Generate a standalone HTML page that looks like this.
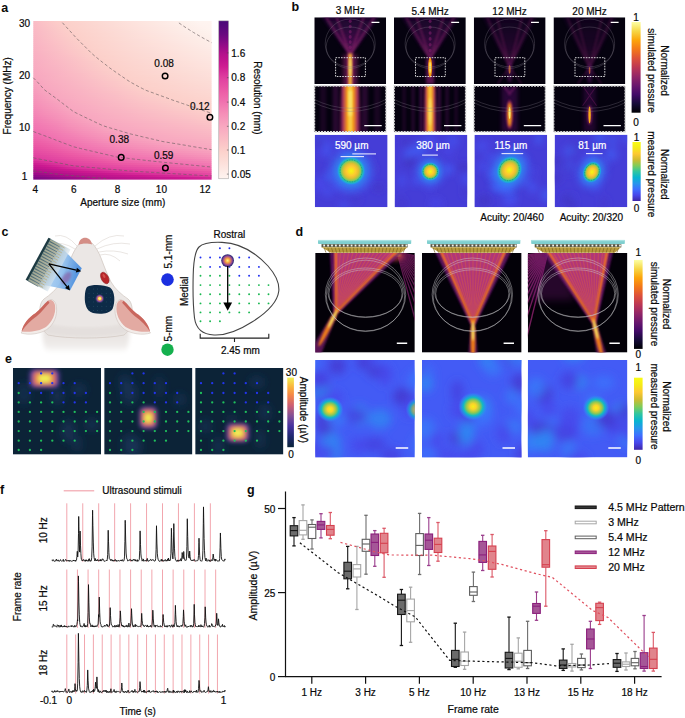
<!DOCTYPE html>
<html><head><meta charset="utf-8"><style>
html,body{margin:0;padding:0;background:#fff;}
svg{display:block;}
text{font-family:"Liberation Sans", sans-serif;}
</style></head><body>
<svg width="685" height="718" viewBox="0 0 685 718">
<defs><linearGradient id="ga0"><stop offset="0.000" stop-color="#fabbc5"/><stop offset="0.067" stop-color="#fbc4c7"/><stop offset="0.133" stop-color="#fcccc9"/><stop offset="0.200" stop-color="#fcd1cb"/><stop offset="0.267" stop-color="#fcd4ce"/><stop offset="0.333" stop-color="#fcd7d1"/><stop offset="0.400" stop-color="#fcdad5"/><stop offset="0.467" stop-color="#fcded8"/><stop offset="0.533" stop-color="#fde1dc"/><stop offset="0.600" stop-color="#fde4df"/><stop offset="0.667" stop-color="#fde7e2"/><stop offset="0.733" stop-color="#fdeae5"/><stop offset="0.800" stop-color="#fdeee9"/><stop offset="0.867" stop-color="#fdf1ec"/><stop offset="0.933" stop-color="#fef4f0"/><stop offset="1.000" stop-color="#fef4f0"/></linearGradient><linearGradient id="ga1"><stop offset="0.000" stop-color="#fabac5"/><stop offset="0.067" stop-color="#fbc3c7"/><stop offset="0.133" stop-color="#fccbc9"/><stop offset="0.200" stop-color="#fcd1cb"/><stop offset="0.267" stop-color="#fcd3ce"/><stop offset="0.333" stop-color="#fcd7d1"/><stop offset="0.400" stop-color="#fcdad4"/><stop offset="0.467" stop-color="#fcddd8"/><stop offset="0.533" stop-color="#fde0db"/><stop offset="0.600" stop-color="#fde4de"/><stop offset="0.667" stop-color="#fde7e1"/><stop offset="0.733" stop-color="#fdeae5"/><stop offset="0.800" stop-color="#fdede8"/><stop offset="0.867" stop-color="#fdf0eb"/><stop offset="0.933" stop-color="#fef3ef"/><stop offset="1.000" stop-color="#fef4f0"/></linearGradient><linearGradient id="ga2"><stop offset="0.000" stop-color="#fabac4"/><stop offset="0.067" stop-color="#fbc2c6"/><stop offset="0.133" stop-color="#fbcac9"/><stop offset="0.200" stop-color="#fcd0ca"/><stop offset="0.267" stop-color="#fcd3cd"/><stop offset="0.333" stop-color="#fcd6d0"/><stop offset="0.400" stop-color="#fcd9d4"/><stop offset="0.467" stop-color="#fcddd7"/><stop offset="0.533" stop-color="#fde0da"/><stop offset="0.600" stop-color="#fde3de"/><stop offset="0.667" stop-color="#fde6e1"/><stop offset="0.733" stop-color="#fde9e4"/><stop offset="0.800" stop-color="#fdece7"/><stop offset="0.867" stop-color="#fdefea"/><stop offset="0.933" stop-color="#fef2ee"/><stop offset="1.000" stop-color="#fef4f0"/></linearGradient><linearGradient id="ga3"><stop offset="0.000" stop-color="#fab9c4"/><stop offset="0.067" stop-color="#fac1c6"/><stop offset="0.133" stop-color="#fbc9c8"/><stop offset="0.200" stop-color="#fcd0ca"/><stop offset="0.267" stop-color="#fcd3cd"/><stop offset="0.333" stop-color="#fcd6d0"/><stop offset="0.400" stop-color="#fcd9d3"/><stop offset="0.467" stop-color="#fcdcd6"/><stop offset="0.533" stop-color="#fddfda"/><stop offset="0.600" stop-color="#fde2dd"/><stop offset="0.667" stop-color="#fde5e0"/><stop offset="0.733" stop-color="#fde8e3"/><stop offset="0.800" stop-color="#fdebe6"/><stop offset="0.867" stop-color="#fdeee9"/><stop offset="0.933" stop-color="#fef1ed"/><stop offset="1.000" stop-color="#fef4f0"/></linearGradient><linearGradient id="ga4"><stop offset="0.000" stop-color="#fab8c4"/><stop offset="0.067" stop-color="#fac0c6"/><stop offset="0.133" stop-color="#fbc8c8"/><stop offset="0.200" stop-color="#fccfca"/><stop offset="0.267" stop-color="#fcd2cc"/><stop offset="0.333" stop-color="#fcd5cf"/><stop offset="0.400" stop-color="#fcd8d3"/><stop offset="0.467" stop-color="#fcdbd6"/><stop offset="0.533" stop-color="#fcdfd9"/><stop offset="0.600" stop-color="#fde2dc"/><stop offset="0.667" stop-color="#fde5df"/><stop offset="0.733" stop-color="#fde8e2"/><stop offset="0.800" stop-color="#fdebe5"/><stop offset="0.867" stop-color="#fdeee9"/><stop offset="0.933" stop-color="#fdf1ec"/><stop offset="1.000" stop-color="#fef4ef"/></linearGradient><linearGradient id="ga5"><stop offset="0.000" stop-color="#fab7c4"/><stop offset="0.067" stop-color="#fabfc6"/><stop offset="0.133" stop-color="#fbc7c8"/><stop offset="0.200" stop-color="#fcceca"/><stop offset="0.267" stop-color="#fcd2cc"/><stop offset="0.333" stop-color="#fcd5cf"/><stop offset="0.400" stop-color="#fcd8d2"/><stop offset="0.467" stop-color="#fcdbd5"/><stop offset="0.533" stop-color="#fcded8"/><stop offset="0.600" stop-color="#fde1dc"/><stop offset="0.667" stop-color="#fde4df"/><stop offset="0.733" stop-color="#fde7e2"/><stop offset="0.800" stop-color="#fdeae5"/><stop offset="0.867" stop-color="#fdede8"/><stop offset="0.933" stop-color="#fdf0eb"/><stop offset="1.000" stop-color="#fef3ee"/></linearGradient><linearGradient id="ga6"><stop offset="0.000" stop-color="#f9b7c4"/><stop offset="0.067" stop-color="#fabec6"/><stop offset="0.133" stop-color="#fbc6c8"/><stop offset="0.200" stop-color="#fccdc9"/><stop offset="0.267" stop-color="#fcd1cb"/><stop offset="0.333" stop-color="#fcd4ce"/><stop offset="0.400" stop-color="#fcd7d1"/><stop offset="0.467" stop-color="#fcdad5"/><stop offset="0.533" stop-color="#fcddd8"/><stop offset="0.600" stop-color="#fde0db"/><stop offset="0.667" stop-color="#fde3de"/><stop offset="0.733" stop-color="#fde6e1"/><stop offset="0.800" stop-color="#fde9e4"/><stop offset="0.867" stop-color="#fdece7"/><stop offset="0.933" stop-color="#fdefea"/><stop offset="1.000" stop-color="#fef2ed"/></linearGradient><linearGradient id="ga7"><stop offset="0.000" stop-color="#f9b6c3"/><stop offset="0.067" stop-color="#fabec5"/><stop offset="0.133" stop-color="#fbc5c7"/><stop offset="0.200" stop-color="#fcccc9"/><stop offset="0.267" stop-color="#fcd1cb"/><stop offset="0.333" stop-color="#fcd4ce"/><stop offset="0.400" stop-color="#fcd7d1"/><stop offset="0.467" stop-color="#fcdad4"/><stop offset="0.533" stop-color="#fcddd7"/><stop offset="0.600" stop-color="#fde0da"/><stop offset="0.667" stop-color="#fde3dd"/><stop offset="0.733" stop-color="#fde5e0"/><stop offset="0.800" stop-color="#fde8e3"/><stop offset="0.867" stop-color="#fdebe6"/><stop offset="0.933" stop-color="#fdeee9"/><stop offset="1.000" stop-color="#fdf1ec"/></linearGradient><linearGradient id="ga8"><stop offset="0.000" stop-color="#f9b5c3"/><stop offset="0.067" stop-color="#fabdc5"/><stop offset="0.133" stop-color="#fbc4c7"/><stop offset="0.200" stop-color="#fbcbc9"/><stop offset="0.267" stop-color="#fcd0ca"/><stop offset="0.333" stop-color="#fcd3cd"/><stop offset="0.400" stop-color="#fcd6d0"/><stop offset="0.467" stop-color="#fcd9d3"/><stop offset="0.533" stop-color="#fcdcd7"/><stop offset="0.600" stop-color="#fddfda"/><stop offset="0.667" stop-color="#fde2dc"/><stop offset="0.733" stop-color="#fde5df"/><stop offset="0.800" stop-color="#fde8e2"/><stop offset="0.867" stop-color="#fdeae5"/><stop offset="0.933" stop-color="#fdede8"/><stop offset="1.000" stop-color="#fdf0eb"/></linearGradient><linearGradient id="ga9"><stop offset="0.000" stop-color="#f9b4c3"/><stop offset="0.067" stop-color="#fabcc5"/><stop offset="0.133" stop-color="#fbc3c7"/><stop offset="0.200" stop-color="#fbcac8"/><stop offset="0.267" stop-color="#fcd0ca"/><stop offset="0.333" stop-color="#fcd3cd"/><stop offset="0.400" stop-color="#fcd6d0"/><stop offset="0.467" stop-color="#fcd9d3"/><stop offset="0.533" stop-color="#fcdcd6"/><stop offset="0.600" stop-color="#fcded9"/><stop offset="0.667" stop-color="#fde1dc"/><stop offset="0.733" stop-color="#fde4df"/><stop offset="0.800" stop-color="#fde7e2"/><stop offset="0.867" stop-color="#fdeae4"/><stop offset="0.933" stop-color="#fdece7"/><stop offset="1.000" stop-color="#fdefea"/></linearGradient><linearGradient id="ga10"><stop offset="0.000" stop-color="#f9b4c3"/><stop offset="0.067" stop-color="#fabbc5"/><stop offset="0.133" stop-color="#fbc2c7"/><stop offset="0.200" stop-color="#fbc9c8"/><stop offset="0.267" stop-color="#fccfca"/><stop offset="0.333" stop-color="#fcd2cc"/><stop offset="0.400" stop-color="#fcd5cf"/><stop offset="0.467" stop-color="#fcd8d2"/><stop offset="0.533" stop-color="#fcdbd5"/><stop offset="0.600" stop-color="#fcded8"/><stop offset="0.667" stop-color="#fde1db"/><stop offset="0.733" stop-color="#fde3de"/><stop offset="0.800" stop-color="#fde6e1"/><stop offset="0.867" stop-color="#fde9e4"/><stop offset="0.933" stop-color="#fdece6"/><stop offset="1.000" stop-color="#fdeee9"/></linearGradient><linearGradient id="ga11"><stop offset="0.000" stop-color="#f9b3c3"/><stop offset="0.067" stop-color="#fabac5"/><stop offset="0.133" stop-color="#fbc1c6"/><stop offset="0.200" stop-color="#fbc8c8"/><stop offset="0.267" stop-color="#fcceca"/><stop offset="0.333" stop-color="#fcd2cc"/><stop offset="0.400" stop-color="#fcd5cf"/><stop offset="0.467" stop-color="#fcd7d2"/><stop offset="0.533" stop-color="#fcdad5"/><stop offset="0.600" stop-color="#fcddd8"/><stop offset="0.667" stop-color="#fde0da"/><stop offset="0.733" stop-color="#fde2dd"/><stop offset="0.800" stop-color="#fde5e0"/><stop offset="0.867" stop-color="#fde8e3"/><stop offset="0.933" stop-color="#fdebe6"/><stop offset="1.000" stop-color="#fdede8"/></linearGradient><linearGradient id="ga12"><stop offset="0.000" stop-color="#f9b2c3"/><stop offset="0.067" stop-color="#fab9c4"/><stop offset="0.133" stop-color="#fac0c6"/><stop offset="0.200" stop-color="#fbc7c8"/><stop offset="0.267" stop-color="#fccdc9"/><stop offset="0.333" stop-color="#fcd1cb"/><stop offset="0.400" stop-color="#fcd4ce"/><stop offset="0.467" stop-color="#fcd7d1"/><stop offset="0.533" stop-color="#fcdad4"/><stop offset="0.600" stop-color="#fcddd7"/><stop offset="0.667" stop-color="#fddfda"/><stop offset="0.733" stop-color="#fde2dc"/><stop offset="0.800" stop-color="#fde4df"/><stop offset="0.867" stop-color="#fde7e2"/><stop offset="0.933" stop-color="#fdeae5"/><stop offset="1.000" stop-color="#fdede8"/></linearGradient><linearGradient id="ga13"><stop offset="0.000" stop-color="#f9b1c2"/><stop offset="0.067" stop-color="#fab8c4"/><stop offset="0.133" stop-color="#fabfc6"/><stop offset="0.200" stop-color="#fbc6c7"/><stop offset="0.267" stop-color="#fcccc9"/><stop offset="0.333" stop-color="#fcd1cb"/><stop offset="0.400" stop-color="#fcd4ce"/><stop offset="0.467" stop-color="#fcd6d1"/><stop offset="0.533" stop-color="#fcd9d4"/><stop offset="0.600" stop-color="#fcdcd6"/><stop offset="0.667" stop-color="#fcded9"/><stop offset="0.733" stop-color="#fde1dc"/><stop offset="0.800" stop-color="#fde4de"/><stop offset="0.867" stop-color="#fde6e1"/><stop offset="0.933" stop-color="#fde9e4"/><stop offset="1.000" stop-color="#fdece7"/></linearGradient><linearGradient id="ga14"><stop offset="0.000" stop-color="#f9b1c2"/><stop offset="0.067" stop-color="#fab8c4"/><stop offset="0.133" stop-color="#fabec6"/><stop offset="0.200" stop-color="#fbc5c7"/><stop offset="0.267" stop-color="#fbcbc9"/><stop offset="0.333" stop-color="#fcd0ca"/><stop offset="0.400" stop-color="#fcd3cd"/><stop offset="0.467" stop-color="#fcd6d0"/><stop offset="0.533" stop-color="#fcd9d3"/><stop offset="0.600" stop-color="#fcdbd6"/><stop offset="0.667" stop-color="#fcded8"/><stop offset="0.733" stop-color="#fde0db"/><stop offset="0.800" stop-color="#fde3de"/><stop offset="0.867" stop-color="#fde6e0"/><stop offset="0.933" stop-color="#fde8e3"/><stop offset="1.000" stop-color="#fdebe6"/></linearGradient><linearGradient id="ga15"><stop offset="0.000" stop-color="#f9b0c2"/><stop offset="0.067" stop-color="#f9b7c4"/><stop offset="0.133" stop-color="#fabdc5"/><stop offset="0.200" stop-color="#fbc4c7"/><stop offset="0.267" stop-color="#fbcac8"/><stop offset="0.333" stop-color="#fcd0ca"/><stop offset="0.400" stop-color="#fcd2cd"/><stop offset="0.467" stop-color="#fcd5cf"/><stop offset="0.533" stop-color="#fcd8d2"/><stop offset="0.600" stop-color="#fcdbd5"/><stop offset="0.667" stop-color="#fcddd8"/><stop offset="0.733" stop-color="#fde0da"/><stop offset="0.800" stop-color="#fde2dd"/><stop offset="0.867" stop-color="#fde5df"/><stop offset="0.933" stop-color="#fde7e2"/><stop offset="1.000" stop-color="#fdeae5"/></linearGradient><linearGradient id="ga16"><stop offset="0.000" stop-color="#f9afc2"/><stop offset="0.067" stop-color="#f9b6c3"/><stop offset="0.133" stop-color="#fabcc5"/><stop offset="0.200" stop-color="#fbc3c7"/><stop offset="0.267" stop-color="#fbc9c8"/><stop offset="0.333" stop-color="#fccfca"/><stop offset="0.400" stop-color="#fcd2cc"/><stop offset="0.467" stop-color="#fcd5cf"/><stop offset="0.533" stop-color="#fcd7d2"/><stop offset="0.600" stop-color="#fcdad4"/><stop offset="0.667" stop-color="#fcdcd7"/><stop offset="0.733" stop-color="#fcdfd9"/><stop offset="0.800" stop-color="#fde1dc"/><stop offset="0.867" stop-color="#fde4df"/><stop offset="0.933" stop-color="#fde7e1"/><stop offset="1.000" stop-color="#fde9e4"/></linearGradient><linearGradient id="ga17"><stop offset="0.000" stop-color="#f9aec2"/><stop offset="0.067" stop-color="#f9b5c3"/><stop offset="0.133" stop-color="#fabbc5"/><stop offset="0.200" stop-color="#fbc1c6"/><stop offset="0.267" stop-color="#fbc8c8"/><stop offset="0.333" stop-color="#fcceca"/><stop offset="0.400" stop-color="#fcd1cb"/><stop offset="0.467" stop-color="#fcd4ce"/><stop offset="0.533" stop-color="#fcd7d1"/><stop offset="0.600" stop-color="#fcd9d4"/><stop offset="0.667" stop-color="#fcdcd6"/><stop offset="0.733" stop-color="#fcded9"/><stop offset="0.800" stop-color="#fde1db"/><stop offset="0.867" stop-color="#fde3de"/><stop offset="0.933" stop-color="#fde6e0"/><stop offset="1.000" stop-color="#fde8e3"/></linearGradient><linearGradient id="ga18"><stop offset="0.000" stop-color="#f9aec1"/><stop offset="0.067" stop-color="#f9b4c3"/><stop offset="0.133" stop-color="#fabac5"/><stop offset="0.200" stop-color="#fac0c6"/><stop offset="0.267" stop-color="#fbc6c8"/><stop offset="0.333" stop-color="#fccdc9"/><stop offset="0.400" stop-color="#fcd1cb"/><stop offset="0.467" stop-color="#fcd3ce"/><stop offset="0.533" stop-color="#fcd6d0"/><stop offset="0.600" stop-color="#fcd9d3"/><stop offset="0.667" stop-color="#fcdbd5"/><stop offset="0.733" stop-color="#fcddd8"/><stop offset="0.800" stop-color="#fde0da"/><stop offset="0.867" stop-color="#fde2dd"/><stop offset="0.933" stop-color="#fde5e0"/><stop offset="1.000" stop-color="#fde7e2"/></linearGradient><linearGradient id="ga19"><stop offset="0.000" stop-color="#f8adc1"/><stop offset="0.067" stop-color="#f9b3c3"/><stop offset="0.133" stop-color="#fab9c4"/><stop offset="0.200" stop-color="#fabfc6"/><stop offset="0.267" stop-color="#fbc5c7"/><stop offset="0.333" stop-color="#fcccc9"/><stop offset="0.400" stop-color="#fcd0ca"/><stop offset="0.467" stop-color="#fcd3cd"/><stop offset="0.533" stop-color="#fcd6d0"/><stop offset="0.600" stop-color="#fcd8d2"/><stop offset="0.667" stop-color="#fcdad5"/><stop offset="0.733" stop-color="#fcddd7"/><stop offset="0.800" stop-color="#fddfda"/><stop offset="0.867" stop-color="#fde2dc"/><stop offset="0.933" stop-color="#fde4df"/><stop offset="1.000" stop-color="#fde7e1"/></linearGradient><linearGradient id="ga20"><stop offset="0.000" stop-color="#f8acc1"/><stop offset="0.067" stop-color="#f9b2c3"/><stop offset="0.133" stop-color="#fab8c4"/><stop offset="0.200" stop-color="#fabec6"/><stop offset="0.267" stop-color="#fbc4c7"/><stop offset="0.333" stop-color="#fbcac9"/><stop offset="0.400" stop-color="#fcd0ca"/><stop offset="0.467" stop-color="#fcd2cc"/><stop offset="0.533" stop-color="#fcd5cf"/><stop offset="0.600" stop-color="#fcd7d2"/><stop offset="0.667" stop-color="#fcdad4"/><stop offset="0.733" stop-color="#fcdcd6"/><stop offset="0.800" stop-color="#fcded9"/><stop offset="0.867" stop-color="#fde1db"/><stop offset="0.933" stop-color="#fde3de"/><stop offset="1.000" stop-color="#fde6e0"/></linearGradient><linearGradient id="ga21"><stop offset="0.000" stop-color="#f8abc1"/><stop offset="0.067" stop-color="#f9b2c2"/><stop offset="0.133" stop-color="#fab7c4"/><stop offset="0.200" stop-color="#fabdc5"/><stop offset="0.267" stop-color="#fbc3c7"/><stop offset="0.333" stop-color="#fbc9c8"/><stop offset="0.400" stop-color="#fccfca"/><stop offset="0.467" stop-color="#fcd2cc"/><stop offset="0.533" stop-color="#fcd4cf"/><stop offset="0.600" stop-color="#fcd7d1"/><stop offset="0.667" stop-color="#fcd9d3"/><stop offset="0.733" stop-color="#fcdbd6"/><stop offset="0.800" stop-color="#fcded8"/><stop offset="0.867" stop-color="#fde0da"/><stop offset="0.933" stop-color="#fde2dd"/><stop offset="1.000" stop-color="#fde5df"/></linearGradient><linearGradient id="ga22"><stop offset="0.000" stop-color="#f8abc1"/><stop offset="0.067" stop-color="#f9b1c2"/><stop offset="0.133" stop-color="#f9b6c4"/><stop offset="0.200" stop-color="#fabcc5"/><stop offset="0.267" stop-color="#fbc2c6"/><stop offset="0.333" stop-color="#fbc8c8"/><stop offset="0.400" stop-color="#fccec9"/><stop offset="0.467" stop-color="#fcd1cb"/><stop offset="0.533" stop-color="#fcd4ce"/><stop offset="0.600" stop-color="#fcd6d0"/><stop offset="0.667" stop-color="#fcd8d3"/><stop offset="0.733" stop-color="#fcdbd5"/><stop offset="0.800" stop-color="#fcddd7"/><stop offset="0.867" stop-color="#fddfda"/><stop offset="0.933" stop-color="#fde2dc"/><stop offset="1.000" stop-color="#fde4df"/></linearGradient><linearGradient id="ga23"><stop offset="0.000" stop-color="#f8aac0"/><stop offset="0.067" stop-color="#f9b0c2"/><stop offset="0.133" stop-color="#f9b5c3"/><stop offset="0.200" stop-color="#fabbc5"/><stop offset="0.267" stop-color="#fac1c6"/><stop offset="0.333" stop-color="#fbc7c8"/><stop offset="0.400" stop-color="#fcccc9"/><stop offset="0.467" stop-color="#fcd1cb"/><stop offset="0.533" stop-color="#fcd3cd"/><stop offset="0.600" stop-color="#fcd6d0"/><stop offset="0.667" stop-color="#fcd8d2"/><stop offset="0.733" stop-color="#fcdad4"/><stop offset="0.800" stop-color="#fcdcd6"/><stop offset="0.867" stop-color="#fcded9"/><stop offset="0.933" stop-color="#fde1db"/><stop offset="1.000" stop-color="#fde3de"/></linearGradient><linearGradient id="ga24"><stop offset="0.000" stop-color="#f8a9c0"/><stop offset="0.067" stop-color="#f9afc2"/><stop offset="0.133" stop-color="#f9b4c3"/><stop offset="0.200" stop-color="#fabac5"/><stop offset="0.267" stop-color="#fac0c6"/><stop offset="0.333" stop-color="#fbc6c7"/><stop offset="0.400" stop-color="#fccbc9"/><stop offset="0.467" stop-color="#fcd0ca"/><stop offset="0.533" stop-color="#fcd3cd"/><stop offset="0.600" stop-color="#fcd5cf"/><stop offset="0.667" stop-color="#fcd7d1"/><stop offset="0.733" stop-color="#fcd9d3"/><stop offset="0.800" stop-color="#fcdbd6"/><stop offset="0.867" stop-color="#fcded8"/><stop offset="0.933" stop-color="#fde0da"/><stop offset="1.000" stop-color="#fde2dd"/></linearGradient><linearGradient id="ga25"><stop offset="0.000" stop-color="#f8a8c0"/><stop offset="0.067" stop-color="#f9aec2"/><stop offset="0.133" stop-color="#f9b3c3"/><stop offset="0.200" stop-color="#fab9c4"/><stop offset="0.267" stop-color="#fabfc6"/><stop offset="0.333" stop-color="#fbc4c7"/><stop offset="0.400" stop-color="#fbcac8"/><stop offset="0.467" stop-color="#fccfca"/><stop offset="0.533" stop-color="#fcd2cc"/><stop offset="0.600" stop-color="#fcd4ce"/><stop offset="0.667" stop-color="#fcd6d1"/><stop offset="0.733" stop-color="#fcd8d3"/><stop offset="0.800" stop-color="#fcdbd5"/><stop offset="0.867" stop-color="#fcddd7"/><stop offset="0.933" stop-color="#fcdfd9"/><stop offset="1.000" stop-color="#fde1dc"/></linearGradient><linearGradient id="ga26"><stop offset="0.000" stop-color="#f8a8c0"/><stop offset="0.067" stop-color="#f9adc1"/><stop offset="0.133" stop-color="#f9b2c3"/><stop offset="0.200" stop-color="#fab8c4"/><stop offset="0.267" stop-color="#fabdc5"/><stop offset="0.333" stop-color="#fbc3c7"/><stop offset="0.400" stop-color="#fbc9c8"/><stop offset="0.467" stop-color="#fcceca"/><stop offset="0.533" stop-color="#fcd1cb"/><stop offset="0.600" stop-color="#fcd4ce"/><stop offset="0.667" stop-color="#fcd6d0"/><stop offset="0.733" stop-color="#fcd8d2"/><stop offset="0.800" stop-color="#fcdad4"/><stop offset="0.867" stop-color="#fcdcd6"/><stop offset="0.933" stop-color="#fcded9"/><stop offset="1.000" stop-color="#fde0db"/></linearGradient><linearGradient id="ga27"><stop offset="0.000" stop-color="#f8a7c0"/><stop offset="0.067" stop-color="#f8acc1"/><stop offset="0.133" stop-color="#f9b2c2"/><stop offset="0.200" stop-color="#fab7c4"/><stop offset="0.267" stop-color="#fabcc5"/><stop offset="0.333" stop-color="#fbc2c6"/><stop offset="0.400" stop-color="#fbc7c8"/><stop offset="0.467" stop-color="#fccdc9"/><stop offset="0.533" stop-color="#fcd1cb"/><stop offset="0.600" stop-color="#fcd3cd"/><stop offset="0.667" stop-color="#fcd5cf"/><stop offset="0.733" stop-color="#fcd7d1"/><stop offset="0.800" stop-color="#fcd9d3"/><stop offset="0.867" stop-color="#fcdbd5"/><stop offset="0.933" stop-color="#fcddd8"/><stop offset="1.000" stop-color="#fde0da"/></linearGradient><linearGradient id="ga28"><stop offset="0.000" stop-color="#f8a6bf"/><stop offset="0.067" stop-color="#f8acc1"/><stop offset="0.133" stop-color="#f9b1c2"/><stop offset="0.200" stop-color="#f9b6c3"/><stop offset="0.267" stop-color="#fabbc5"/><stop offset="0.333" stop-color="#fac1c6"/><stop offset="0.400" stop-color="#fbc6c7"/><stop offset="0.467" stop-color="#fccbc9"/><stop offset="0.533" stop-color="#fcd0ca"/><stop offset="0.600" stop-color="#fcd2cc"/><stop offset="0.667" stop-color="#fcd4ce"/><stop offset="0.733" stop-color="#fcd6d0"/><stop offset="0.800" stop-color="#fcd8d3"/><stop offset="0.867" stop-color="#fcdad5"/><stop offset="0.933" stop-color="#fcdcd7"/><stop offset="1.000" stop-color="#fcdfd9"/></linearGradient><linearGradient id="ga29"><stop offset="0.000" stop-color="#f8a4bf"/><stop offset="0.067" stop-color="#f8abc1"/><stop offset="0.133" stop-color="#f9b0c2"/><stop offset="0.200" stop-color="#f9b5c3"/><stop offset="0.267" stop-color="#fabac5"/><stop offset="0.333" stop-color="#fabfc6"/><stop offset="0.400" stop-color="#fbc5c7"/><stop offset="0.467" stop-color="#fbcac8"/><stop offset="0.533" stop-color="#fccfca"/><stop offset="0.600" stop-color="#fcd2cc"/><stop offset="0.667" stop-color="#fcd4ce"/><stop offset="0.733" stop-color="#fcd5d0"/><stop offset="0.800" stop-color="#fcd7d2"/><stop offset="0.867" stop-color="#fcdad4"/><stop offset="0.933" stop-color="#fcdcd6"/><stop offset="1.000" stop-color="#fcded8"/></linearGradient><linearGradient id="ga30"><stop offset="0.000" stop-color="#f7a2be"/><stop offset="0.067" stop-color="#f8aac0"/><stop offset="0.133" stop-color="#f9afc2"/><stop offset="0.200" stop-color="#f9b4c3"/><stop offset="0.267" stop-color="#fab9c4"/><stop offset="0.333" stop-color="#fabec6"/><stop offset="0.400" stop-color="#fbc3c7"/><stop offset="0.467" stop-color="#fbc8c8"/><stop offset="0.533" stop-color="#fcceca"/><stop offset="0.600" stop-color="#fcd1cb"/><stop offset="0.667" stop-color="#fcd3cd"/><stop offset="0.733" stop-color="#fcd5cf"/><stop offset="0.800" stop-color="#fcd7d1"/><stop offset="0.867" stop-color="#fcd9d3"/><stop offset="0.933" stop-color="#fcdbd5"/><stop offset="1.000" stop-color="#fcddd7"/></linearGradient><linearGradient id="ga31"><stop offset="0.000" stop-color="#f7a1be"/><stop offset="0.067" stop-color="#f8a9c0"/><stop offset="0.133" stop-color="#f9aec1"/><stop offset="0.200" stop-color="#f9b3c3"/><stop offset="0.267" stop-color="#fab8c4"/><stop offset="0.333" stop-color="#fabdc5"/><stop offset="0.400" stop-color="#fbc2c6"/><stop offset="0.467" stop-color="#fbc7c8"/><stop offset="0.533" stop-color="#fccdc9"/><stop offset="0.600" stop-color="#fcd0ca"/><stop offset="0.667" stop-color="#fcd2cc"/><stop offset="0.733" stop-color="#fcd4ce"/><stop offset="0.800" stop-color="#fcd6d0"/><stop offset="0.867" stop-color="#fcd8d2"/><stop offset="0.933" stop-color="#fcdad4"/><stop offset="1.000" stop-color="#fcdcd6"/></linearGradient><linearGradient id="ga32"><stop offset="0.000" stop-color="#f79fbd"/><stop offset="0.067" stop-color="#f8a8c0"/><stop offset="0.133" stop-color="#f8adc1"/><stop offset="0.200" stop-color="#f9b2c2"/><stop offset="0.267" stop-color="#f9b7c4"/><stop offset="0.333" stop-color="#fabcc5"/><stop offset="0.400" stop-color="#fac1c6"/><stop offset="0.467" stop-color="#fbc6c7"/><stop offset="0.533" stop-color="#fccbc9"/><stop offset="0.600" stop-color="#fcd0ca"/><stop offset="0.667" stop-color="#fcd2cc"/><stop offset="0.733" stop-color="#fcd3cd"/><stop offset="0.800" stop-color="#fcd5cf"/><stop offset="0.867" stop-color="#fcd7d1"/><stop offset="0.933" stop-color="#fcd9d3"/><stop offset="1.000" stop-color="#fcdbd6"/></linearGradient><linearGradient id="ga33"><stop offset="0.000" stop-color="#f79dbc"/><stop offset="0.067" stop-color="#f8a7c0"/><stop offset="0.133" stop-color="#f8acc1"/><stop offset="0.200" stop-color="#f9b1c2"/><stop offset="0.267" stop-color="#f9b6c3"/><stop offset="0.333" stop-color="#fabac5"/><stop offset="0.400" stop-color="#fabfc6"/><stop offset="0.467" stop-color="#fbc4c7"/><stop offset="0.533" stop-color="#fbcac8"/><stop offset="0.600" stop-color="#fccfca"/><stop offset="0.667" stop-color="#fcd1cb"/><stop offset="0.733" stop-color="#fcd3cd"/><stop offset="0.800" stop-color="#fcd4cf"/><stop offset="0.867" stop-color="#fcd6d1"/><stop offset="0.933" stop-color="#fcd8d3"/><stop offset="1.000" stop-color="#fcdad5"/></linearGradient><linearGradient id="ga34"><stop offset="0.000" stop-color="#f69bbc"/><stop offset="0.067" stop-color="#f8a6bf"/><stop offset="0.133" stop-color="#f8abc1"/><stop offset="0.200" stop-color="#f9b0c2"/><stop offset="0.267" stop-color="#f9b4c3"/><stop offset="0.333" stop-color="#fab9c4"/><stop offset="0.400" stop-color="#fabec6"/><stop offset="0.467" stop-color="#fbc3c7"/><stop offset="0.533" stop-color="#fbc8c8"/><stop offset="0.600" stop-color="#fccdc9"/><stop offset="0.667" stop-color="#fcd0ca"/><stop offset="0.733" stop-color="#fcd2cc"/><stop offset="0.800" stop-color="#fcd4ce"/><stop offset="0.867" stop-color="#fcd5d0"/><stop offset="0.933" stop-color="#fcd7d2"/><stop offset="1.000" stop-color="#fcd9d4"/></linearGradient><linearGradient id="ga35"><stop offset="0.000" stop-color="#f69abb"/><stop offset="0.067" stop-color="#f8a4bf"/><stop offset="0.133" stop-color="#f8aac0"/><stop offset="0.200" stop-color="#f9afc2"/><stop offset="0.267" stop-color="#f9b3c3"/><stop offset="0.333" stop-color="#fab8c4"/><stop offset="0.400" stop-color="#fabdc5"/><stop offset="0.467" stop-color="#fbc1c6"/><stop offset="0.533" stop-color="#fbc6c8"/><stop offset="0.600" stop-color="#fccbc9"/><stop offset="0.667" stop-color="#fccfca"/><stop offset="0.733" stop-color="#fcd1cb"/><stop offset="0.800" stop-color="#fcd3cd"/><stop offset="0.867" stop-color="#fcd5cf"/><stop offset="0.933" stop-color="#fcd7d1"/><stop offset="1.000" stop-color="#fcd9d3"/></linearGradient><linearGradient id="ga36"><stop offset="0.000" stop-color="#f698bb"/><stop offset="0.067" stop-color="#f7a2be"/><stop offset="0.133" stop-color="#f8a9c0"/><stop offset="0.200" stop-color="#f9aec1"/><stop offset="0.267" stop-color="#f9b2c3"/><stop offset="0.333" stop-color="#f9b7c4"/><stop offset="0.400" stop-color="#fabbc5"/><stop offset="0.467" stop-color="#fac0c6"/><stop offset="0.533" stop-color="#fbc5c7"/><stop offset="0.600" stop-color="#fbcac8"/><stop offset="0.667" stop-color="#fccec9"/><stop offset="0.733" stop-color="#fcd0ca"/><stop offset="0.800" stop-color="#fcd2cc"/><stop offset="0.867" stop-color="#fcd4ce"/><stop offset="0.933" stop-color="#fcd6d0"/><stop offset="1.000" stop-color="#fcd8d2"/></linearGradient><linearGradient id="ga37"><stop offset="0.000" stop-color="#f696ba"/><stop offset="0.067" stop-color="#f7a0bd"/><stop offset="0.133" stop-color="#f8a8c0"/><stop offset="0.200" stop-color="#f8adc1"/><stop offset="0.267" stop-color="#f9b1c2"/><stop offset="0.333" stop-color="#f9b6c3"/><stop offset="0.400" stop-color="#fabac5"/><stop offset="0.467" stop-color="#fabec6"/><stop offset="0.533" stop-color="#fbc3c7"/><stop offset="0.600" stop-color="#fbc8c8"/><stop offset="0.667" stop-color="#fcccc9"/><stop offset="0.733" stop-color="#fcd0ca"/><stop offset="0.800" stop-color="#fcd1cb"/><stop offset="0.867" stop-color="#fcd3cd"/><stop offset="0.933" stop-color="#fcd5cf"/><stop offset="1.000" stop-color="#fcd7d1"/></linearGradient><linearGradient id="ga38"><stop offset="0.000" stop-color="#f695ba"/><stop offset="0.067" stop-color="#f79ebd"/><stop offset="0.133" stop-color="#f8a7c0"/><stop offset="0.200" stop-color="#f8acc1"/><stop offset="0.267" stop-color="#f9b0c2"/><stop offset="0.333" stop-color="#f9b4c3"/><stop offset="0.400" stop-color="#fab9c4"/><stop offset="0.467" stop-color="#fabdc5"/><stop offset="0.533" stop-color="#fbc2c6"/><stop offset="0.600" stop-color="#fbc6c8"/><stop offset="0.667" stop-color="#fbcac9"/><stop offset="0.733" stop-color="#fcceca"/><stop offset="0.800" stop-color="#fcd1cb"/><stop offset="0.867" stop-color="#fcd2cc"/><stop offset="0.933" stop-color="#fcd4ce"/><stop offset="1.000" stop-color="#fcd6d0"/></linearGradient><linearGradient id="ga39"><stop offset="0.000" stop-color="#f593b9"/><stop offset="0.067" stop-color="#f79cbc"/><stop offset="0.133" stop-color="#f8a5bf"/><stop offset="0.200" stop-color="#f8aac1"/><stop offset="0.267" stop-color="#f9afc2"/><stop offset="0.333" stop-color="#f9b3c3"/><stop offset="0.400" stop-color="#fab7c4"/><stop offset="0.467" stop-color="#fabcc5"/><stop offset="0.533" stop-color="#fac0c6"/><stop offset="0.600" stop-color="#fbc5c7"/><stop offset="0.667" stop-color="#fbc9c8"/><stop offset="0.733" stop-color="#fcccc9"/><stop offset="0.800" stop-color="#fcd0ca"/><stop offset="0.867" stop-color="#fcd1cc"/><stop offset="0.933" stop-color="#fcd3cd"/><stop offset="1.000" stop-color="#fcd5cf"/></linearGradient><linearGradient id="ga40"><stop offset="0.000" stop-color="#f591b8"/><stop offset="0.067" stop-color="#f69abb"/><stop offset="0.133" stop-color="#f7a3be"/><stop offset="0.200" stop-color="#f8a9c0"/><stop offset="0.267" stop-color="#f9aec1"/><stop offset="0.333" stop-color="#f9b2c2"/><stop offset="0.400" stop-color="#f9b6c4"/><stop offset="0.467" stop-color="#fabac5"/><stop offset="0.533" stop-color="#fabfc6"/><stop offset="0.600" stop-color="#fbc3c7"/><stop offset="0.667" stop-color="#fbc7c8"/><stop offset="0.733" stop-color="#fbcbc9"/><stop offset="0.800" stop-color="#fcceca"/><stop offset="0.867" stop-color="#fcd1cb"/><stop offset="0.933" stop-color="#fcd2cd"/><stop offset="1.000" stop-color="#fcd4ce"/></linearGradient><linearGradient id="ga41"><stop offset="0.000" stop-color="#f58fb8"/><stop offset="0.067" stop-color="#f698bb"/><stop offset="0.133" stop-color="#f7a0bd"/><stop offset="0.200" stop-color="#f8a8c0"/><stop offset="0.267" stop-color="#f8adc1"/><stop offset="0.333" stop-color="#f9b1c2"/><stop offset="0.400" stop-color="#f9b5c3"/><stop offset="0.467" stop-color="#fab9c4"/><stop offset="0.533" stop-color="#fabdc5"/><stop offset="0.600" stop-color="#fbc1c6"/><stop offset="0.667" stop-color="#fbc5c7"/><stop offset="0.733" stop-color="#fbc9c8"/><stop offset="0.800" stop-color="#fcccc9"/><stop offset="0.867" stop-color="#fcd0ca"/><stop offset="0.933" stop-color="#fcd2cc"/><stop offset="1.000" stop-color="#fcd3cd"/></linearGradient><linearGradient id="ga42"><stop offset="0.000" stop-color="#f58db7"/><stop offset="0.067" stop-color="#f696ba"/><stop offset="0.133" stop-color="#f79ebd"/><stop offset="0.200" stop-color="#f8a7c0"/><stop offset="0.267" stop-color="#f8abc1"/><stop offset="0.333" stop-color="#f9afc2"/><stop offset="0.400" stop-color="#f9b4c3"/><stop offset="0.467" stop-color="#fab7c4"/><stop offset="0.533" stop-color="#fabcc5"/><stop offset="0.600" stop-color="#fac0c6"/><stop offset="0.667" stop-color="#fbc3c7"/><stop offset="0.733" stop-color="#fbc7c8"/><stop offset="0.800" stop-color="#fbcbc9"/><stop offset="0.867" stop-color="#fcceca"/><stop offset="0.933" stop-color="#fcd1cb"/><stop offset="1.000" stop-color="#fcd3cd"/></linearGradient><linearGradient id="ga43"><stop offset="0.000" stop-color="#f48bb7"/><stop offset="0.067" stop-color="#f694b9"/><stop offset="0.133" stop-color="#f79cbc"/><stop offset="0.200" stop-color="#f8a6bf"/><stop offset="0.267" stop-color="#f8aac1"/><stop offset="0.333" stop-color="#f9aec2"/><stop offset="0.400" stop-color="#f9b2c3"/><stop offset="0.467" stop-color="#f9b6c3"/><stop offset="0.533" stop-color="#fabac4"/><stop offset="0.600" stop-color="#fabec5"/><stop offset="0.667" stop-color="#fbc2c6"/><stop offset="0.733" stop-color="#fbc5c7"/><stop offset="0.800" stop-color="#fbc9c8"/><stop offset="0.867" stop-color="#fcccc9"/><stop offset="0.933" stop-color="#fcd0ca"/><stop offset="1.000" stop-color="#fcd2cc"/></linearGradient><linearGradient id="ga44"><stop offset="0.000" stop-color="#f488b6"/><stop offset="0.067" stop-color="#f592b9"/><stop offset="0.133" stop-color="#f69abb"/><stop offset="0.200" stop-color="#f7a4bf"/><stop offset="0.267" stop-color="#f8a9c0"/><stop offset="0.333" stop-color="#f8adc1"/><stop offset="0.400" stop-color="#f9b1c2"/><stop offset="0.467" stop-color="#f9b4c3"/><stop offset="0.533" stop-color="#fab8c4"/><stop offset="0.600" stop-color="#fabcc5"/><stop offset="0.667" stop-color="#fac0c6"/><stop offset="0.733" stop-color="#fbc3c7"/><stop offset="0.800" stop-color="#fbc7c8"/><stop offset="0.867" stop-color="#fbcac9"/><stop offset="0.933" stop-color="#fcceca"/><stop offset="1.000" stop-color="#fcd1cb"/></linearGradient><linearGradient id="ga45"><stop offset="0.000" stop-color="#f386b6"/><stop offset="0.067" stop-color="#f590b8"/><stop offset="0.133" stop-color="#f698bb"/><stop offset="0.200" stop-color="#f7a1be"/><stop offset="0.267" stop-color="#f8a8c0"/><stop offset="0.333" stop-color="#f8acc1"/><stop offset="0.400" stop-color="#f9b0c2"/><stop offset="0.467" stop-color="#f9b3c3"/><stop offset="0.533" stop-color="#f9b7c4"/><stop offset="0.600" stop-color="#fabbc5"/><stop offset="0.667" stop-color="#fabec6"/><stop offset="0.733" stop-color="#fbc1c6"/><stop offset="0.800" stop-color="#fbc5c7"/><stop offset="0.867" stop-color="#fbc8c8"/><stop offset="0.933" stop-color="#fcccc9"/><stop offset="1.000" stop-color="#fcd0ca"/></linearGradient><linearGradient id="ga46"><stop offset="0.000" stop-color="#f384b5"/><stop offset="0.067" stop-color="#f58eb7"/><stop offset="0.133" stop-color="#f695ba"/><stop offset="0.200" stop-color="#f79fbd"/><stop offset="0.267" stop-color="#f8a7c0"/><stop offset="0.333" stop-color="#f8aac1"/><stop offset="0.400" stop-color="#f9aec2"/><stop offset="0.467" stop-color="#f9b2c2"/><stop offset="0.533" stop-color="#f9b5c3"/><stop offset="0.600" stop-color="#fab9c4"/><stop offset="0.667" stop-color="#fabcc5"/><stop offset="0.733" stop-color="#fac0c6"/><stop offset="0.800" stop-color="#fbc3c7"/><stop offset="0.867" stop-color="#fbc6c8"/><stop offset="0.933" stop-color="#fbcac9"/><stop offset="1.000" stop-color="#fcceca"/></linearGradient><linearGradient id="ga47"><stop offset="0.000" stop-color="#f382b4"/><stop offset="0.067" stop-color="#f48bb7"/><stop offset="0.133" stop-color="#f593b9"/><stop offset="0.200" stop-color="#f79cbc"/><stop offset="0.267" stop-color="#f8a5bf"/><stop offset="0.333" stop-color="#f8a9c0"/><stop offset="0.400" stop-color="#f8adc1"/><stop offset="0.467" stop-color="#f9b0c2"/><stop offset="0.533" stop-color="#f9b4c3"/><stop offset="0.600" stop-color="#fab7c4"/><stop offset="0.667" stop-color="#fabbc5"/><stop offset="0.733" stop-color="#fabec5"/><stop offset="0.800" stop-color="#fac1c6"/><stop offset="0.867" stop-color="#fbc4c7"/><stop offset="0.933" stop-color="#fbc8c8"/><stop offset="1.000" stop-color="#fcccc9"/></linearGradient><linearGradient id="ga48"><stop offset="0.000" stop-color="#f27fb4"/><stop offset="0.067" stop-color="#f488b6"/><stop offset="0.133" stop-color="#f591b8"/><stop offset="0.200" stop-color="#f69abb"/><stop offset="0.267" stop-color="#f7a2be"/><stop offset="0.333" stop-color="#f8a8c0"/><stop offset="0.400" stop-color="#f8acc1"/><stop offset="0.467" stop-color="#f9afc2"/><stop offset="0.533" stop-color="#f9b2c3"/><stop offset="0.600" stop-color="#f9b6c3"/><stop offset="0.667" stop-color="#fab9c4"/><stop offset="0.733" stop-color="#fabcc5"/><stop offset="0.800" stop-color="#fabfc6"/><stop offset="0.867" stop-color="#fbc2c7"/><stop offset="0.933" stop-color="#fbc6c7"/><stop offset="1.000" stop-color="#fbcac8"/></linearGradient><linearGradient id="ga49"><stop offset="0.000" stop-color="#f27db3"/><stop offset="0.067" stop-color="#f385b5"/><stop offset="0.133" stop-color="#f58eb8"/><stop offset="0.200" stop-color="#f697ba"/><stop offset="0.267" stop-color="#f79fbd"/><stop offset="0.333" stop-color="#f8a7c0"/><stop offset="0.400" stop-color="#f8aac1"/><stop offset="0.467" stop-color="#f9adc1"/><stop offset="0.533" stop-color="#f9b1c2"/><stop offset="0.600" stop-color="#f9b4c3"/><stop offset="0.667" stop-color="#fab7c4"/><stop offset="0.733" stop-color="#fabac5"/><stop offset="0.800" stop-color="#fabdc5"/><stop offset="0.867" stop-color="#fac0c6"/><stop offset="0.933" stop-color="#fbc4c7"/><stop offset="1.000" stop-color="#fbc8c8"/></linearGradient><linearGradient id="ga50"><stop offset="0.000" stop-color="#f27bb3"/><stop offset="0.067" stop-color="#f383b5"/><stop offset="0.133" stop-color="#f48bb7"/><stop offset="0.200" stop-color="#f695ba"/><stop offset="0.267" stop-color="#f79dbc"/><stop offset="0.333" stop-color="#f8a4bf"/><stop offset="0.400" stop-color="#f8a9c0"/><stop offset="0.467" stop-color="#f8acc1"/><stop offset="0.533" stop-color="#f9afc2"/><stop offset="0.600" stop-color="#f9b2c3"/><stop offset="0.667" stop-color="#f9b5c3"/><stop offset="0.733" stop-color="#fab8c4"/><stop offset="0.800" stop-color="#fabbc5"/><stop offset="0.867" stop-color="#fabec6"/><stop offset="0.933" stop-color="#fbc2c6"/><stop offset="1.000" stop-color="#fbc5c7"/></linearGradient><linearGradient id="ga51"><stop offset="0.000" stop-color="#f178b2"/><stop offset="0.067" stop-color="#f380b4"/><stop offset="0.133" stop-color="#f488b6"/><stop offset="0.200" stop-color="#f592b9"/><stop offset="0.267" stop-color="#f69abb"/><stop offset="0.333" stop-color="#f7a1be"/><stop offset="0.400" stop-color="#f8a8c0"/><stop offset="0.467" stop-color="#f8aac1"/><stop offset="0.533" stop-color="#f9adc1"/><stop offset="0.600" stop-color="#f9b0c2"/><stop offset="0.667" stop-color="#f9b3c3"/><stop offset="0.733" stop-color="#f9b6c4"/><stop offset="0.800" stop-color="#fab9c4"/><stop offset="0.867" stop-color="#fabcc5"/><stop offset="0.933" stop-color="#fac0c6"/><stop offset="1.000" stop-color="#fbc3c7"/></linearGradient><linearGradient id="ga52"><stop offset="0.000" stop-color="#f176b2"/><stop offset="0.067" stop-color="#f27db3"/><stop offset="0.133" stop-color="#f385b5"/><stop offset="0.200" stop-color="#f590b8"/><stop offset="0.267" stop-color="#f697ba"/><stop offset="0.333" stop-color="#f79ebd"/><stop offset="0.400" stop-color="#f8a6bf"/><stop offset="0.467" stop-color="#f8a9c0"/><stop offset="0.533" stop-color="#f8acc1"/><stop offset="0.600" stop-color="#f9afc2"/><stop offset="0.667" stop-color="#f9b2c2"/><stop offset="0.733" stop-color="#f9b5c3"/><stop offset="0.800" stop-color="#fab7c4"/><stop offset="0.867" stop-color="#fabac5"/><stop offset="0.933" stop-color="#fabdc5"/><stop offset="1.000" stop-color="#fac1c6"/></linearGradient><linearGradient id="ga53"><stop offset="0.000" stop-color="#f174b1"/><stop offset="0.067" stop-color="#f27bb3"/><stop offset="0.133" stop-color="#f382b5"/><stop offset="0.200" stop-color="#f48cb7"/><stop offset="0.267" stop-color="#f694b9"/><stop offset="0.333" stop-color="#f69bbc"/><stop offset="0.400" stop-color="#f7a3be"/><stop offset="0.467" stop-color="#f8a7c0"/><stop offset="0.533" stop-color="#f8aac1"/><stop offset="0.600" stop-color="#f9adc1"/><stop offset="0.667" stop-color="#f9b0c2"/><stop offset="0.733" stop-color="#f9b3c3"/><stop offset="0.800" stop-color="#f9b5c3"/><stop offset="0.867" stop-color="#fab8c4"/><stop offset="0.933" stop-color="#fabbc5"/><stop offset="1.000" stop-color="#fabfc6"/></linearGradient><linearGradient id="ga54"><stop offset="0.000" stop-color="#f072b0"/><stop offset="0.067" stop-color="#f178b2"/><stop offset="0.133" stop-color="#f280b4"/><stop offset="0.200" stop-color="#f489b6"/><stop offset="0.267" stop-color="#f592b9"/><stop offset="0.333" stop-color="#f698bb"/><stop offset="0.400" stop-color="#f7a0bd"/><stop offset="0.467" stop-color="#f8a6bf"/><stop offset="0.533" stop-color="#f8a9c0"/><stop offset="0.600" stop-color="#f8abc1"/><stop offset="0.667" stop-color="#f9aec2"/><stop offset="0.733" stop-color="#f9b1c2"/><stop offset="0.800" stop-color="#f9b3c3"/><stop offset="0.867" stop-color="#f9b6c4"/><stop offset="0.933" stop-color="#fab9c4"/><stop offset="1.000" stop-color="#fabcc5"/></linearGradient><linearGradient id="ga55"><stop offset="0.000" stop-color="#f06fb0"/><stop offset="0.067" stop-color="#f175b1"/><stop offset="0.133" stop-color="#f27db3"/><stop offset="0.200" stop-color="#f386b5"/><stop offset="0.267" stop-color="#f58eb8"/><stop offset="0.333" stop-color="#f695ba"/><stop offset="0.400" stop-color="#f79dbc"/><stop offset="0.467" stop-color="#f7a2be"/><stop offset="0.533" stop-color="#f8a7c0"/><stop offset="0.600" stop-color="#f8aac0"/><stop offset="0.667" stop-color="#f8acc1"/><stop offset="0.733" stop-color="#f9afc2"/><stop offset="0.800" stop-color="#f9b2c2"/><stop offset="0.867" stop-color="#f9b4c3"/><stop offset="0.933" stop-color="#f9b7c4"/><stop offset="1.000" stop-color="#fabac5"/></linearGradient><linearGradient id="ga56"><stop offset="0.000" stop-color="#ef6bae"/><stop offset="0.067" stop-color="#f073b1"/><stop offset="0.133" stop-color="#f17ab2"/><stop offset="0.200" stop-color="#f382b5"/><stop offset="0.267" stop-color="#f48bb7"/><stop offset="0.333" stop-color="#f592b9"/><stop offset="0.400" stop-color="#f699bb"/><stop offset="0.467" stop-color="#f79fbd"/><stop offset="0.533" stop-color="#f8a5bf"/><stop offset="0.600" stop-color="#f8a8c0"/><stop offset="0.667" stop-color="#f8abc1"/><stop offset="0.733" stop-color="#f9adc1"/><stop offset="0.800" stop-color="#f9b0c2"/><stop offset="0.867" stop-color="#f9b2c3"/><stop offset="0.933" stop-color="#f9b5c3"/><stop offset="1.000" stop-color="#fab8c4"/></linearGradient><linearGradient id="ga57"><stop offset="0.000" stop-color="#ee68ac"/><stop offset="0.067" stop-color="#f070b0"/><stop offset="0.133" stop-color="#f177b2"/><stop offset="0.200" stop-color="#f27fb4"/><stop offset="0.267" stop-color="#f487b6"/><stop offset="0.333" stop-color="#f58fb8"/><stop offset="0.400" stop-color="#f696ba"/><stop offset="0.467" stop-color="#f69bbc"/><stop offset="0.533" stop-color="#f7a1be"/><stop offset="0.600" stop-color="#f8a6bf"/><stop offset="0.667" stop-color="#f8a9c0"/><stop offset="0.733" stop-color="#f8abc1"/><stop offset="0.800" stop-color="#f9aec1"/><stop offset="0.867" stop-color="#f9b0c2"/><stop offset="0.933" stop-color="#f9b3c3"/><stop offset="1.000" stop-color="#f9b6c3"/></linearGradient><linearGradient id="ga58"><stop offset="0.000" stop-color="#ee64aa"/><stop offset="0.067" stop-color="#ef6cae"/><stop offset="0.133" stop-color="#f174b1"/><stop offset="0.200" stop-color="#f27cb3"/><stop offset="0.267" stop-color="#f383b5"/><stop offset="0.333" stop-color="#f48bb7"/><stop offset="0.400" stop-color="#f593b9"/><stop offset="0.467" stop-color="#f698bb"/><stop offset="0.533" stop-color="#f79dbc"/><stop offset="0.600" stop-color="#f7a3be"/><stop offset="0.667" stop-color="#f8a7c0"/><stop offset="0.733" stop-color="#f8aac0"/><stop offset="0.800" stop-color="#f8acc1"/><stop offset="0.867" stop-color="#f9aec2"/><stop offset="0.933" stop-color="#f9b1c2"/><stop offset="1.000" stop-color="#f9b3c3"/></linearGradient><linearGradient id="ga59"><stop offset="0.000" stop-color="#ed60a8"/><stop offset="0.067" stop-color="#ef68ac"/><stop offset="0.133" stop-color="#f071b0"/><stop offset="0.200" stop-color="#f178b2"/><stop offset="0.267" stop-color="#f280b4"/><stop offset="0.333" stop-color="#f487b6"/><stop offset="0.400" stop-color="#f58fb8"/><stop offset="0.467" stop-color="#f695ba"/><stop offset="0.533" stop-color="#f69abb"/><stop offset="0.600" stop-color="#f79fbd"/><stop offset="0.667" stop-color="#f8a4bf"/><stop offset="0.733" stop-color="#f8a8c0"/><stop offset="0.800" stop-color="#f8aac0"/><stop offset="0.867" stop-color="#f8acc1"/><stop offset="0.933" stop-color="#f9aec2"/><stop offset="1.000" stop-color="#f9b1c2"/></linearGradient><linearGradient id="ga60"><stop offset="0.000" stop-color="#ec5da6"/><stop offset="0.067" stop-color="#ee64aa"/><stop offset="0.133" stop-color="#ef6dae"/><stop offset="0.200" stop-color="#f175b1"/><stop offset="0.267" stop-color="#f27cb3"/><stop offset="0.333" stop-color="#f383b5"/><stop offset="0.400" stop-color="#f48bb7"/><stop offset="0.467" stop-color="#f591b8"/><stop offset="0.533" stop-color="#f696ba"/><stop offset="0.600" stop-color="#f69bbc"/><stop offset="0.667" stop-color="#f7a0bd"/><stop offset="0.733" stop-color="#f8a5bf"/><stop offset="0.800" stop-color="#f8a8c0"/><stop offset="0.867" stop-color="#f8aac0"/><stop offset="0.933" stop-color="#f8acc1"/><stop offset="1.000" stop-color="#f9afc2"/></linearGradient><linearGradient id="ga61"><stop offset="0.000" stop-color="#ec59a5"/><stop offset="0.067" stop-color="#ed60a8"/><stop offset="0.133" stop-color="#ef68ac"/><stop offset="0.200" stop-color="#f072b0"/><stop offset="0.267" stop-color="#f178b2"/><stop offset="0.333" stop-color="#f27fb4"/><stop offset="0.400" stop-color="#f386b6"/><stop offset="0.467" stop-color="#f58db7"/><stop offset="0.533" stop-color="#f592b9"/><stop offset="0.600" stop-color="#f697ba"/><stop offset="0.667" stop-color="#f69cbc"/><stop offset="0.733" stop-color="#f7a1be"/><stop offset="0.800" stop-color="#f8a5bf"/><stop offset="0.867" stop-color="#f8a8c0"/><stop offset="0.933" stop-color="#f8aac1"/><stop offset="1.000" stop-color="#f8adc1"/></linearGradient><linearGradient id="ga62"><stop offset="0.000" stop-color="#ea55a4"/><stop offset="0.067" stop-color="#ec5ca6"/><stop offset="0.133" stop-color="#ee64aa"/><stop offset="0.200" stop-color="#f06eaf"/><stop offset="0.267" stop-color="#f175b1"/><stop offset="0.333" stop-color="#f27bb3"/><stop offset="0.400" stop-color="#f382b4"/><stop offset="0.467" stop-color="#f489b6"/><stop offset="0.533" stop-color="#f58eb8"/><stop offset="0.600" stop-color="#f593b9"/><stop offset="0.667" stop-color="#f697ba"/><stop offset="0.733" stop-color="#f79cbc"/><stop offset="0.800" stop-color="#f7a1be"/><stop offset="0.867" stop-color="#f8a5bf"/><stop offset="0.933" stop-color="#f8a8c0"/><stop offset="1.000" stop-color="#f8aac1"/></linearGradient><linearGradient id="ga63"><stop offset="0.000" stop-color="#e851a3"/><stop offset="0.067" stop-color="#eb58a5"/><stop offset="0.133" stop-color="#ed60a8"/><stop offset="0.200" stop-color="#ef69ac"/><stop offset="0.267" stop-color="#f071b0"/><stop offset="0.333" stop-color="#f177b2"/><stop offset="0.400" stop-color="#f27db3"/><stop offset="0.467" stop-color="#f384b5"/><stop offset="0.533" stop-color="#f489b6"/><stop offset="0.600" stop-color="#f58fb8"/><stop offset="0.667" stop-color="#f593b9"/><stop offset="0.733" stop-color="#f698bb"/><stop offset="0.800" stop-color="#f79cbc"/><stop offset="0.867" stop-color="#f7a0bd"/><stop offset="0.933" stop-color="#f8a5bf"/><stop offset="1.000" stop-color="#f8a8c0"/></linearGradient><linearGradient id="ga64"><stop offset="0.000" stop-color="#e64ea3"/><stop offset="0.067" stop-color="#e954a4"/><stop offset="0.133" stop-color="#ec5ba6"/><stop offset="0.200" stop-color="#ee64aa"/><stop offset="0.267" stop-color="#ef6cae"/><stop offset="0.333" stop-color="#f073b1"/><stop offset="0.400" stop-color="#f179b2"/><stop offset="0.467" stop-color="#f280b4"/><stop offset="0.533" stop-color="#f384b5"/><stop offset="0.600" stop-color="#f489b6"/><stop offset="0.667" stop-color="#f58fb8"/><stop offset="0.733" stop-color="#f593b9"/><stop offset="0.800" stop-color="#f697ba"/><stop offset="0.867" stop-color="#f69cbc"/><stop offset="0.933" stop-color="#f7a0bd"/><stop offset="1.000" stop-color="#f8a5bf"/></linearGradient><linearGradient id="ga65"><stop offset="0.000" stop-color="#e54aa2"/><stop offset="0.067" stop-color="#e750a3"/><stop offset="0.133" stop-color="#ea57a4"/><stop offset="0.200" stop-color="#ed5fa8"/><stop offset="0.267" stop-color="#ee67ab"/><stop offset="0.333" stop-color="#f06eaf"/><stop offset="0.400" stop-color="#f175b1"/><stop offset="0.467" stop-color="#f27bb3"/><stop offset="0.533" stop-color="#f280b4"/><stop offset="0.600" stop-color="#f384b5"/><stop offset="0.667" stop-color="#f489b6"/><stop offset="0.733" stop-color="#f58fb8"/><stop offset="0.800" stop-color="#f593b9"/><stop offset="0.867" stop-color="#f697ba"/><stop offset="0.933" stop-color="#f69bbc"/><stop offset="1.000" stop-color="#f7a0bd"/></linearGradient><linearGradient id="ga66"><stop offset="0.000" stop-color="#e346a1"/><stop offset="0.067" stop-color="#e54ca2"/><stop offset="0.133" stop-color="#e852a4"/><stop offset="0.200" stop-color="#ec5aa5"/><stop offset="0.267" stop-color="#ed61a9"/><stop offset="0.333" stop-color="#ef68ac"/><stop offset="0.400" stop-color="#f070b0"/><stop offset="0.467" stop-color="#f177b2"/><stop offset="0.533" stop-color="#f27bb3"/><stop offset="0.600" stop-color="#f27fb4"/><stop offset="0.667" stop-color="#f384b5"/><stop offset="0.733" stop-color="#f489b6"/><stop offset="0.800" stop-color="#f58db7"/><stop offset="0.867" stop-color="#f592b9"/><stop offset="0.933" stop-color="#f696ba"/><stop offset="1.000" stop-color="#f69bbc"/></linearGradient><linearGradient id="ga67"><stop offset="0.000" stop-color="#e142a0"/><stop offset="0.067" stop-color="#e347a1"/><stop offset="0.133" stop-color="#e64ea3"/><stop offset="0.200" stop-color="#ea55a4"/><stop offset="0.267" stop-color="#ec5ca6"/><stop offset="0.333" stop-color="#ed62a9"/><stop offset="0.400" stop-color="#ef6aad"/><stop offset="0.467" stop-color="#f072b1"/><stop offset="0.533" stop-color="#f176b1"/><stop offset="0.600" stop-color="#f27ab2"/><stop offset="0.667" stop-color="#f27eb4"/><stop offset="0.733" stop-color="#f383b5"/><stop offset="0.800" stop-color="#f487b6"/><stop offset="0.867" stop-color="#f48cb7"/><stop offset="0.933" stop-color="#f591b8"/><stop offset="1.000" stop-color="#f695ba"/></linearGradient><linearGradient id="ga68"><stop offset="0.000" stop-color="#df3d9f"/><stop offset="0.067" stop-color="#e243a1"/><stop offset="0.133" stop-color="#e449a2"/><stop offset="0.200" stop-color="#e750a3"/><stop offset="0.267" stop-color="#ea56a4"/><stop offset="0.333" stop-color="#ec5ca6"/><stop offset="0.400" stop-color="#ee63aa"/><stop offset="0.467" stop-color="#ef6cae"/><stop offset="0.533" stop-color="#f071b0"/><stop offset="0.600" stop-color="#f174b1"/><stop offset="0.667" stop-color="#f178b2"/><stop offset="0.733" stop-color="#f27db3"/><stop offset="0.800" stop-color="#f381b4"/><stop offset="0.867" stop-color="#f386b5"/><stop offset="0.933" stop-color="#f48bb7"/><stop offset="1.000" stop-color="#f590b8"/></linearGradient><linearGradient id="ga69"><stop offset="0.000" stop-color="#d9329a"/><stop offset="0.067" stop-color="#df3fa0"/><stop offset="0.133" stop-color="#e245a1"/><stop offset="0.200" stop-color="#e54ba2"/><stop offset="0.267" stop-color="#e851a3"/><stop offset="0.333" stop-color="#ea56a4"/><stop offset="0.400" stop-color="#ec5da6"/><stop offset="0.467" stop-color="#ee64aa"/><stop offset="0.533" stop-color="#ef6aad"/><stop offset="0.600" stop-color="#f06faf"/><stop offset="0.667" stop-color="#f073b1"/><stop offset="0.733" stop-color="#f177b2"/><stop offset="0.800" stop-color="#f27bb3"/><stop offset="0.867" stop-color="#f27fb4"/><stop offset="0.933" stop-color="#f384b5"/><stop offset="1.000" stop-color="#f489b6"/></linearGradient><linearGradient id="ga70"><stop offset="0.000" stop-color="#d32696"/><stop offset="0.067" stop-color="#da339b"/><stop offset="0.133" stop-color="#e040a0"/><stop offset="0.200" stop-color="#e346a1"/><stop offset="0.267" stop-color="#e54ba2"/><stop offset="0.333" stop-color="#e750a3"/><stop offset="0.400" stop-color="#ea56a4"/><stop offset="0.467" stop-color="#ed5da6"/><stop offset="0.533" stop-color="#ed62a9"/><stop offset="0.600" stop-color="#ee67ab"/><stop offset="0.667" stop-color="#ef6cae"/><stop offset="0.733" stop-color="#f071b0"/><stop offset="0.800" stop-color="#f175b1"/><stop offset="0.867" stop-color="#f179b2"/><stop offset="0.933" stop-color="#f27db3"/><stop offset="1.000" stop-color="#f382b4"/></linearGradient><linearGradient id="ga71"><stop offset="0.000" stop-color="#cd1a91"/><stop offset="0.067" stop-color="#d32796"/><stop offset="0.133" stop-color="#da359b"/><stop offset="0.200" stop-color="#e141a0"/><stop offset="0.267" stop-color="#e346a1"/><stop offset="0.333" stop-color="#e54aa2"/><stop offset="0.400" stop-color="#e74fa3"/><stop offset="0.467" stop-color="#ea55a4"/><stop offset="0.533" stop-color="#ec5aa5"/><stop offset="0.600" stop-color="#ed5fa7"/><stop offset="0.667" stop-color="#ee63aa"/><stop offset="0.733" stop-color="#ef69ac"/><stop offset="0.800" stop-color="#f06eaf"/><stop offset="0.867" stop-color="#f072b1"/><stop offset="0.933" stop-color="#f176b2"/><stop offset="1.000" stop-color="#f27bb3"/></linearGradient><linearGradient id="ga72"><stop offset="0.000" stop-color="#c5168f"/><stop offset="0.067" stop-color="#cd1a91"/><stop offset="0.133" stop-color="#d42796"/><stop offset="0.200" stop-color="#db369c"/><stop offset="0.267" stop-color="#e040a0"/><stop offset="0.333" stop-color="#e244a1"/><stop offset="0.400" stop-color="#e448a2"/><stop offset="0.467" stop-color="#e64da3"/><stop offset="0.533" stop-color="#e852a4"/><stop offset="0.600" stop-color="#ea56a4"/><stop offset="0.667" stop-color="#ec5ba5"/><stop offset="0.733" stop-color="#ed60a8"/><stop offset="0.800" stop-color="#ee64aa"/><stop offset="0.867" stop-color="#ef6aad"/><stop offset="0.933" stop-color="#f06fb0"/><stop offset="1.000" stop-color="#f174b1"/></linearGradient><linearGradient id="ga73"><stop offset="0.000" stop-color="#bd148d"/><stop offset="0.067" stop-color="#c5168e"/><stop offset="0.133" stop-color="#cd1a91"/><stop offset="0.200" stop-color="#d42896"/><stop offset="0.267" stop-color="#d9339b"/><stop offset="0.333" stop-color="#de3b9e"/><stop offset="0.400" stop-color="#e141a0"/><stop offset="0.467" stop-color="#e346a1"/><stop offset="0.533" stop-color="#e54aa2"/><stop offset="0.600" stop-color="#e64ea3"/><stop offset="0.667" stop-color="#e852a3"/><stop offset="0.733" stop-color="#ea56a4"/><stop offset="0.800" stop-color="#ec5ba6"/><stop offset="0.867" stop-color="#ed60a8"/><stop offset="0.933" stop-color="#ee65ab"/><stop offset="1.000" stop-color="#ef6bad"/></linearGradient><linearGradient id="ga74"><stop offset="0.000" stop-color="#b5118b"/><stop offset="0.067" stop-color="#bc138d"/><stop offset="0.133" stop-color="#c4168e"/><stop offset="0.200" stop-color="#cc1990"/><stop offset="0.267" stop-color="#d22395"/><stop offset="0.333" stop-color="#d62c98"/><stop offset="0.400" stop-color="#da349b"/><stop offset="0.467" stop-color="#de3c9f"/><stop offset="0.533" stop-color="#e142a0"/><stop offset="0.600" stop-color="#e346a1"/><stop offset="0.667" stop-color="#e449a2"/><stop offset="0.733" stop-color="#e64da3"/><stop offset="0.800" stop-color="#e851a3"/><stop offset="0.867" stop-color="#ea56a4"/><stop offset="0.933" stop-color="#ec5ba5"/><stop offset="1.000" stop-color="#ed60a8"/></linearGradient><linearGradient id="ga75"><stop offset="0.000" stop-color="#aa0f8a"/><stop offset="0.067" stop-color="#b3118b"/><stop offset="0.133" stop-color="#bb138c"/><stop offset="0.200" stop-color="#c2158e"/><stop offset="0.267" stop-color="#c9178f"/><stop offset="0.333" stop-color="#ce1c92"/><stop offset="0.400" stop-color="#d22495"/><stop offset="0.467" stop-color="#d62c98"/><stop offset="0.533" stop-color="#da359b"/><stop offset="0.600" stop-color="#de3b9e"/><stop offset="0.667" stop-color="#e040a0"/><stop offset="0.733" stop-color="#e244a1"/><stop offset="0.800" stop-color="#e448a1"/><stop offset="0.867" stop-color="#e54ca2"/><stop offset="0.933" stop-color="#e850a3"/><stop offset="1.000" stop-color="#ea55a4"/></linearGradient><linearGradient id="ga76"><stop offset="0.000" stop-color="#9b0c89"/><stop offset="0.067" stop-color="#a60e89"/><stop offset="0.133" stop-color="#b2108a"/><stop offset="0.200" stop-color="#b8128c"/><stop offset="0.267" stop-color="#be148d"/><stop offset="0.333" stop-color="#c4168e"/><stop offset="0.400" stop-color="#ca178f"/><stop offset="0.467" stop-color="#ce1c92"/><stop offset="0.533" stop-color="#d22495"/><stop offset="0.600" stop-color="#d52a97"/><stop offset="0.667" stop-color="#d8309a"/><stop offset="0.733" stop-color="#db369c"/><stop offset="0.800" stop-color="#de3d9f"/><stop offset="0.867" stop-color="#e142a0"/><stop offset="0.933" stop-color="#e346a1"/><stop offset="1.000" stop-color="#e54aa2"/></linearGradient><linearGradient id="ga77"><stop offset="0.000" stop-color="#8c0a87"/><stop offset="0.067" stop-color="#960b88"/><stop offset="0.133" stop-color="#a20d89"/><stop offset="0.200" stop-color="#ac0f8a"/><stop offset="0.267" stop-color="#b3118b"/><stop offset="0.333" stop-color="#b9138c"/><stop offset="0.400" stop-color="#bf148d"/><stop offset="0.467" stop-color="#c4168e"/><stop offset="0.533" stop-color="#c8178f"/><stop offset="0.600" stop-color="#cc1990"/><stop offset="0.667" stop-color="#cf1e92"/><stop offset="0.733" stop-color="#d22495"/><stop offset="0.800" stop-color="#d52a97"/><stop offset="0.867" stop-color="#d8309a"/><stop offset="0.933" stop-color="#db379c"/><stop offset="1.000" stop-color="#df3f9f"/></linearGradient><linearGradient id="ga78"><stop offset="0.000" stop-color="#7d0a84"/><stop offset="0.067" stop-color="#860a86"/><stop offset="0.133" stop-color="#910a88"/><stop offset="0.200" stop-color="#990c89"/><stop offset="0.267" stop-color="#a20d89"/><stop offset="0.333" stop-color="#ad0f8a"/><stop offset="0.400" stop-color="#b4118b"/><stop offset="0.467" stop-color="#b9128c"/><stop offset="0.533" stop-color="#bd148d"/><stop offset="0.600" stop-color="#c0158d"/><stop offset="0.667" stop-color="#c4168e"/><stop offset="0.733" stop-color="#c7178f"/><stop offset="0.800" stop-color="#cb1890"/><stop offset="0.867" stop-color="#ce1c92"/><stop offset="0.933" stop-color="#d12294"/><stop offset="1.000" stop-color="#d42997"/></linearGradient><linearGradient id="ga79"><stop offset="0.000" stop-color="#750a82"/><stop offset="0.067" stop-color="#7e0a84"/><stop offset="0.133" stop-color="#870a86"/><stop offset="0.200" stop-color="#8e0a88"/><stop offset="0.267" stop-color="#980b88"/><stop offset="0.333" stop-color="#a20d89"/><stop offset="0.400" stop-color="#ac0f8a"/><stop offset="0.467" stop-color="#b3118b"/><stop offset="0.533" stop-color="#b6128b"/><stop offset="0.600" stop-color="#ba138c"/><stop offset="0.667" stop-color="#bd148d"/><stop offset="0.733" stop-color="#c0158d"/><stop offset="0.800" stop-color="#c3168e"/><stop offset="0.867" stop-color="#c7178f"/><stop offset="0.933" stop-color="#cb1890"/><stop offset="1.000" stop-color="#ce1d92"/></linearGradient><linearGradient id="gacb" x1="0" y1="1" x2="0" y2="0"><stop offset="0.000" stop-color="#fef4f0"/><stop offset="0.042" stop-color="#fdece7"/><stop offset="0.083" stop-color="#fde3de"/><stop offset="0.125" stop-color="#fcdbd5"/><stop offset="0.167" stop-color="#fcd3cd"/><stop offset="0.208" stop-color="#fbc8c8"/><stop offset="0.250" stop-color="#fabdc5"/><stop offset="0.292" stop-color="#f9b2c3"/><stop offset="0.333" stop-color="#f8a7c0"/><stop offset="0.375" stop-color="#f69abc"/><stop offset="0.417" stop-color="#f58db7"/><stop offset="0.458" stop-color="#f27db3"/><stop offset="0.500" stop-color="#ef6dae"/><stop offset="0.542" stop-color="#ed60a8"/><stop offset="0.583" stop-color="#e852a4"/><stop offset="0.625" stop-color="#e245a1"/><stop offset="0.667" stop-color="#d9339b"/><stop offset="0.708" stop-color="#cf1e92"/><stop offset="0.750" stop-color="#c2158e"/><stop offset="0.792" stop-color="#b3118b"/><stop offset="0.833" stop-color="#9b0c89"/><stop offset="0.875" stop-color="#800a85"/><stop offset="0.917" stop-color="#680a7f"/><stop offset="0.958" stop-color="#590a7c"/><stop offset="1.000" stop-color="#4a0a78"/></linearGradient><filter id="bl1" x="-50%" y="-50%" width="200%" height="200%"><feGaussianBlur stdDeviation="1"/></filter><filter id="bl15" x="-50%" y="-50%" width="200%" height="200%"><feGaussianBlur stdDeviation="1.5"/></filter><filter id="bl2" x="-50%" y="-50%" width="200%" height="200%"><feGaussianBlur stdDeviation="2.2"/></filter><filter id="bl3" x="-50%" y="-50%" width="200%" height="200%"><feGaussianBlur stdDeviation="3.5"/></filter><filter id="bl05" x="-50%" y="-50%" width="200%" height="200%"><feGaussianBlur stdDeviation="0.6"/></filter><radialGradient id="bspot"><stop offset="0" stop-color="#f8f616"/><stop offset="0.12" stop-color="#f5eb18"/><stop offset="0.32" stop-color="#fec832"/><stop offset="0.5" stop-color="#debf31"/><stop offset="0.64" stop-color="#91c851"/><stop offset="0.74" stop-color="#31c69f"/><stop offset="0.87" stop-color="#1ea0e3"/><stop offset="1" stop-color="#4067fb" stop-opacity="0"/></radialGradient><linearGradient id="bfoc"><stop offset="0" stop-color="#6a176e" stop-opacity="0"/><stop offset="0.2" stop-color="#a82e5e"/><stop offset="0.38" stop-color="#fa9c0d"/><stop offset="0.5" stop-color="#f7df59"/><stop offset="0.62" stop-color="#fa9c0d"/><stop offset="0.8" stop-color="#a82e5e"/><stop offset="1" stop-color="#6a176e" stop-opacity="0"/></linearGradient><linearGradient id="bvee" x1="0" y1="0" x2="0" y2="1"><stop offset="0" stop-color="#4a0d69" stop-opacity="0.35"/><stop offset="1" stop-color="#721a6d" stop-opacity="0.9"/></linearGradient><clipPath id="bc1_0"><rect x="314.3" y="17.3" width="71.8" height="66.7"/></clipPath><clipPath id="bc2_0"><rect x="314.3" y="85.8" width="71.8" height="46.1"/></clipPath><clipPath id="bc1_1"><rect x="394.0" y="17.3" width="71.8" height="66.7"/></clipPath><clipPath id="bc2_1"><rect x="394.0" y="85.8" width="71.8" height="46.1"/></clipPath><clipPath id="bc1_2"><rect x="473.8" y="17.3" width="71.8" height="66.7"/></clipPath><clipPath id="bc2_2"><rect x="473.8" y="85.8" width="71.8" height="46.1"/></clipPath><clipPath id="bc1_3"><rect x="553.5" y="17.3" width="71.8" height="66.7"/></clipPath><clipPath id="bc2_3"><rect x="553.5" y="85.8" width="71.8" height="46.1"/></clipPath><clipPath id="bc3_0"><rect x="314.8" y="134.8" width="72.8" height="72.4"/></clipPath><clipPath id="bc3_1"><rect x="394.6" y="134.8" width="72.8" height="72.4"/></clipPath><clipPath id="bc3_2"><rect x="474.4" y="134.8" width="72.8" height="72.4"/></clipPath><clipPath id="bc3_3"><rect x="554.6" y="134.8" width="72.8" height="72.4"/></clipPath><linearGradient id="binf" x1="0" y1="1" x2="0" y2="0"><stop offset="0.000" stop-color="#000004"/><stop offset="0.050" stop-color="#0b061e"/><stop offset="0.100" stop-color="#160b39"/><stop offset="0.150" stop-color="#2c0a50"/><stop offset="0.200" stop-color="#420a68"/><stop offset="0.250" stop-color="#56106b"/><stop offset="0.300" stop-color="#6a176e"/><stop offset="0.350" stop-color="#7e1e6a"/><stop offset="0.400" stop-color="#932667"/><stop offset="0.450" stop-color="#a82e5e"/><stop offset="0.500" stop-color="#bc3754"/><stop offset="0.550" stop-color="#cd4447"/><stop offset="0.600" stop-color="#dd513a"/><stop offset="0.650" stop-color="#e86529"/><stop offset="0.700" stop-color="#f37819"/><stop offset="0.750" stop-color="#f88e12"/><stop offset="0.800" stop-color="#fca50a"/><stop offset="0.850" stop-color="#f9be28"/><stop offset="0.900" stop-color="#f6d746"/><stop offset="0.950" stop-color="#f9eb75"/><stop offset="1.000" stop-color="#fcffa4"/></linearGradient><linearGradient id="bpar" x1="0" y1="1" x2="0" y2="0"><stop offset="0.000" stop-color="#3e26a8"/><stop offset="0.050" stop-color="#4337ca"/><stop offset="0.100" stop-color="#4747eb"/><stop offset="0.150" stop-color="#435bf5"/><stop offset="0.200" stop-color="#3e6fff"/><stop offset="0.250" stop-color="#3383f5"/><stop offset="0.300" stop-color="#2797eb"/><stop offset="0.350" stop-color="#17a6de"/><stop offset="0.400" stop-color="#08b5d0"/><stop offset="0.450" stop-color="#1cbdb8"/><stop offset="0.500" stop-color="#31c69f"/><stop offset="0.550" stop-color="#59c97c"/><stop offset="0.600" stop-color="#81cc59"/><stop offset="0.650" stop-color="#a9c344"/><stop offset="0.700" stop-color="#d1bb30"/><stop offset="0.750" stop-color="#e7c231"/><stop offset="0.800" stop-color="#fec832"/><stop offset="0.850" stop-color="#f9da25"/><stop offset="0.900" stop-color="#f5eb18"/><stop offset="0.950" stop-color="#f7f316"/><stop offset="1.000" stop-color="#f9fb15"/></linearGradient><linearGradient id="cbody" x1="0" y1="0" x2="0" y2="1"><stop offset="0" stop-color="#ece8e6"/><stop offset="0.55" stop-color="#e9e5e3"/><stop offset="0.8" stop-color="#efecea"/><stop offset="1" stop-color="#ffffff"/></linearGradient><linearGradient id="cbeam" x1="0" y1="0" x2="1" y2="0.3"><stop offset="0" stop-color="#b8d8f4" stop-opacity="0.85"/><stop offset="0.6" stop-color="#8cbcec" stop-opacity="0.9"/><stop offset="1" stop-color="#4a8ede" stop-opacity="0.95"/></linearGradient><filter id="cbl" x="-50%" y="-50%" width="200%" height="200%"><feGaussianBlur stdDeviation="0.8"/></filter><filter id="cbl2" x="-50%" y="-50%" width="200%" height="200%"><feGaussianBlur stdDeviation="2"/></filter><radialGradient id="cwin"><stop offset="0" stop-color="#fff27a"/><stop offset="0.3" stop-color="#f4a23a"/><stop offset="0.6" stop-color="#8a4aa0"/><stop offset="1" stop-color="#12304e" stop-opacity="0"/></radialGradient><linearGradient id="carr" gradientUnits="userSpaceOnUse" x1="49.5" y1="238.2" x2="70.5" y2="249.6"><stop offset="0" stop-color="#6f8a8c"/><stop offset="0.55" stop-color="#a9bcc0"/><stop offset="1" stop-color="#d6e4ee" stop-opacity="0.6"/></linearGradient><radialGradient id="cspot"><stop offset="0" stop-color="#fff680"/><stop offset="0.35" stop-color="#f6a040"/><stop offset="0.7" stop-color="#9a4a90"/><stop offset="0.9" stop-color="#3a2e80"/><stop offset="1" stop-color="#2a2a70"/></radialGradient><radialGradient id="dspot"><stop offset="0" stop-color="#f6f017"/><stop offset="0.2" stop-color="#fbd32a"/><stop offset="0.45" stop-color="#91c851"/><stop offset="0.65" stop-color="#10b8c6"/><stop offset="0.85" stop-color="#2c8fef" stop-opacity="0.6"/><stop offset="1" stop-color="#3e6fff" stop-opacity="0"/></radialGradient><filter id="dbl" x="-20%" y="-20%" width="140%" height="140%"><feGaussianBlur stdDeviation="0.9"/></filter><filter id="dbl05" x="-20%" y="-20%" width="140%" height="140%"><feGaussianBlur stdDeviation="0.5"/></filter><filter id="dbl2" x="-50%" y="-50%" width="200%" height="200%"><feGaussianBlur stdDeviation="2"/></filter><filter id="dbl4" x="-50%" y="-50%" width="200%" height="200%"><feGaussianBlur stdDeviation="4.5"/></filter><clipPath id="dc1_0"><rect x="315.2" y="253.0" width="99.6" height="99.6"/></clipPath><clipPath id="dc2_0"><rect x="315.2" y="360.0" width="99.6" height="97.4"/></clipPath><clipPath id="dc1_1"><rect x="422.0" y="253.0" width="99.6" height="99.6"/></clipPath><clipPath id="dc2_1"><rect x="422.0" y="360.0" width="99.6" height="97.4"/></clipPath><clipPath id="dc1_2"><rect x="527.8" y="253.0" width="99.6" height="99.6"/></clipPath><clipPath id="dc2_2"><rect x="527.8" y="360.0" width="99.6" height="97.4"/></clipPath><filter id="ebl" x="-50%" y="-50%" width="200%" height="200%"><feGaussianBlur stdDeviation="2.2"/></filter><filter id="ebl4" x="-50%" y="-50%" width="200%" height="200%"><feGaussianBlur stdDeviation="4"/></filter><linearGradient id="ecb" x1="0" y1="1" x2="0" y2="0"><stop offset="0.000" stop-color="#0a243a"/><stop offset="0.050" stop-color="#11254b"/><stop offset="0.100" stop-color="#17275d"/><stop offset="0.150" stop-color="#1e286e"/><stop offset="0.200" stop-color="#2b2b7f"/><stop offset="0.250" stop-color="#392f8f"/><stop offset="0.300" stop-color="#4632a0"/><stop offset="0.350" stop-color="#5a3c9d"/><stop offset="0.400" stop-color="#6e4699"/><stop offset="0.450" stop-color="#825096"/><stop offset="0.500" stop-color="#9b558a"/><stop offset="0.550" stop-color="#b45a7f"/><stop offset="0.600" stop-color="#cd5f73"/><stop offset="0.650" stop-color="#da6c64"/><stop offset="0.700" stop-color="#e87a55"/><stop offset="0.750" stop-color="#f58746"/><stop offset="0.800" stop-color="#f79a42"/><stop offset="0.850" stop-color="#f9ad3e"/><stop offset="0.900" stop-color="#f8c240"/><stop offset="0.950" stop-color="#f4d94b"/><stop offset="1.000" stop-color="#f0f055"/></linearGradient><clipPath id="ec_0"><rect x="12.9" y="368.0" width="88.2" height="86.6"/></clipPath><clipPath id="ec_1"><rect x="104.2" y="368.0" width="88.2" height="86.6"/></clipPath><clipPath id="ec_2"><rect x="195.2" y="368.0" width="88.2" height="86.6"/></clipPath></defs>
<rect width="685" height="718" fill="#fff"/>
<rect x="33.30" y="21.00" width="178.30" height="2.30" fill="url(#ga0)"/><rect x="33.30" y="23.00" width="178.30" height="2.30" fill="url(#ga1)"/><rect x="33.30" y="25.00" width="178.30" height="2.30" fill="url(#ga2)"/><rect x="33.30" y="27.00" width="178.30" height="2.30" fill="url(#ga3)"/><rect x="33.30" y="29.00" width="178.30" height="2.30" fill="url(#ga4)"/><rect x="33.30" y="31.00" width="178.30" height="2.30" fill="url(#ga5)"/><rect x="33.30" y="33.00" width="178.30" height="2.30" fill="url(#ga6)"/><rect x="33.30" y="35.00" width="178.30" height="2.30" fill="url(#ga7)"/><rect x="33.30" y="37.00" width="178.30" height="2.30" fill="url(#ga8)"/><rect x="33.30" y="39.00" width="178.30" height="2.30" fill="url(#ga9)"/><rect x="33.30" y="41.00" width="178.30" height="2.30" fill="url(#ga10)"/><rect x="33.30" y="43.00" width="178.30" height="2.30" fill="url(#ga11)"/><rect x="33.30" y="45.00" width="178.30" height="2.30" fill="url(#ga12)"/><rect x="33.30" y="47.00" width="178.30" height="2.30" fill="url(#ga13)"/><rect x="33.30" y="49.00" width="178.30" height="2.30" fill="url(#ga14)"/><rect x="33.30" y="51.00" width="178.30" height="2.30" fill="url(#ga15)"/><rect x="33.30" y="53.00" width="178.30" height="2.30" fill="url(#ga16)"/><rect x="33.30" y="55.00" width="178.30" height="2.30" fill="url(#ga17)"/><rect x="33.30" y="57.00" width="178.30" height="2.30" fill="url(#ga18)"/><rect x="33.30" y="59.00" width="178.30" height="2.30" fill="url(#ga19)"/><rect x="33.30" y="61.00" width="178.30" height="2.30" fill="url(#ga20)"/><rect x="33.30" y="63.00" width="178.30" height="2.30" fill="url(#ga21)"/><rect x="33.30" y="65.00" width="178.30" height="2.30" fill="url(#ga22)"/><rect x="33.30" y="67.00" width="178.30" height="2.30" fill="url(#ga23)"/><rect x="33.30" y="69.00" width="178.30" height="2.30" fill="url(#ga24)"/><rect x="33.30" y="71.00" width="178.30" height="2.30" fill="url(#ga25)"/><rect x="33.30" y="73.00" width="178.30" height="2.30" fill="url(#ga26)"/><rect x="33.30" y="75.00" width="178.30" height="2.30" fill="url(#ga27)"/><rect x="33.30" y="77.00" width="178.30" height="2.30" fill="url(#ga28)"/><rect x="33.30" y="79.00" width="178.30" height="2.30" fill="url(#ga29)"/><rect x="33.30" y="81.00" width="178.30" height="2.30" fill="url(#ga30)"/><rect x="33.30" y="83.00" width="178.30" height="2.30" fill="url(#ga31)"/><rect x="33.30" y="85.00" width="178.30" height="2.30" fill="url(#ga32)"/><rect x="33.30" y="87.00" width="178.30" height="2.30" fill="url(#ga33)"/><rect x="33.30" y="89.00" width="178.30" height="2.30" fill="url(#ga34)"/><rect x="33.30" y="91.00" width="178.30" height="2.30" fill="url(#ga35)"/><rect x="33.30" y="93.00" width="178.30" height="2.30" fill="url(#ga36)"/><rect x="33.30" y="95.00" width="178.30" height="2.30" fill="url(#ga37)"/><rect x="33.30" y="97.00" width="178.30" height="2.30" fill="url(#ga38)"/><rect x="33.30" y="99.00" width="178.30" height="2.30" fill="url(#ga39)"/><rect x="33.30" y="101.00" width="178.30" height="2.30" fill="url(#ga40)"/><rect x="33.30" y="103.00" width="178.30" height="2.30" fill="url(#ga41)"/><rect x="33.30" y="105.00" width="178.30" height="2.30" fill="url(#ga42)"/><rect x="33.30" y="107.00" width="178.30" height="2.30" fill="url(#ga43)"/><rect x="33.30" y="109.00" width="178.30" height="2.30" fill="url(#ga44)"/><rect x="33.30" y="111.00" width="178.30" height="2.30" fill="url(#ga45)"/><rect x="33.30" y="113.00" width="178.30" height="2.30" fill="url(#ga46)"/><rect x="33.30" y="115.00" width="178.30" height="2.30" fill="url(#ga47)"/><rect x="33.30" y="117.00" width="178.30" height="2.30" fill="url(#ga48)"/><rect x="33.30" y="119.00" width="178.30" height="2.30" fill="url(#ga49)"/><rect x="33.30" y="121.00" width="178.30" height="2.30" fill="url(#ga50)"/><rect x="33.30" y="123.00" width="178.30" height="2.30" fill="url(#ga51)"/><rect x="33.30" y="125.00" width="178.30" height="2.30" fill="url(#ga52)"/><rect x="33.30" y="127.00" width="178.30" height="2.30" fill="url(#ga53)"/><rect x="33.30" y="129.00" width="178.30" height="2.30" fill="url(#ga54)"/><rect x="33.30" y="131.00" width="178.30" height="2.30" fill="url(#ga55)"/><rect x="33.30" y="133.00" width="178.30" height="2.30" fill="url(#ga56)"/><rect x="33.30" y="135.00" width="178.30" height="2.30" fill="url(#ga57)"/><rect x="33.30" y="137.00" width="178.30" height="2.30" fill="url(#ga58)"/><rect x="33.30" y="139.00" width="178.30" height="2.30" fill="url(#ga59)"/><rect x="33.30" y="141.00" width="178.30" height="2.30" fill="url(#ga60)"/><rect x="33.30" y="143.00" width="178.30" height="2.30" fill="url(#ga61)"/><rect x="33.30" y="145.00" width="178.30" height="2.30" fill="url(#ga62)"/><rect x="33.30" y="147.00" width="178.30" height="2.30" fill="url(#ga63)"/><rect x="33.30" y="149.00" width="178.30" height="2.30" fill="url(#ga64)"/><rect x="33.30" y="151.00" width="178.30" height="2.30" fill="url(#ga65)"/><rect x="33.30" y="153.00" width="178.30" height="2.30" fill="url(#ga66)"/><rect x="33.30" y="155.00" width="178.30" height="2.30" fill="url(#ga67)"/><rect x="33.30" y="157.00" width="178.30" height="2.30" fill="url(#ga68)"/><rect x="33.30" y="159.00" width="178.30" height="2.30" fill="url(#ga69)"/><rect x="33.30" y="161.00" width="178.30" height="2.30" fill="url(#ga70)"/><rect x="33.30" y="163.00" width="178.30" height="2.30" fill="url(#ga71)"/><rect x="33.30" y="165.00" width="178.30" height="2.30" fill="url(#ga72)"/><rect x="33.30" y="167.00" width="178.30" height="2.30" fill="url(#ga73)"/><rect x="33.30" y="169.00" width="178.30" height="2.30" fill="url(#ga74)"/><rect x="33.30" y="171.00" width="178.30" height="2.30" fill="url(#ga75)"/><rect x="33.30" y="173.00" width="178.30" height="2.30" fill="url(#ga76)"/><rect x="33.30" y="175.00" width="178.30" height="2.30" fill="url(#ga77)"/><rect x="33.30" y="177.00" width="178.30" height="2.30" fill="url(#ga78)"/><rect x="33.30" y="179.00" width="178.30" height="0.50" fill="url(#ga79)"/><path d="M178.9 22.9 L182.5 25.4 L186.1 27.8 L189.8 30.1 L193.4 32.4 L197.0 34.5 L200.7 36.7 L204.3 38.7 L208.0 40.7 L211.6 42.7" fill="none" stroke="#6a5e60" stroke-width="0.75" stroke-dasharray="3.2 2.2" opacity="0.85"/><path d="M62.4 22.7 L66.0 26.7 L69.7 30.7 L73.3 34.7 L77.0 38.7 L80.6 42.3 L84.2 45.9 L87.9 49.6 L91.5 53.2 L95.2 56.4 L98.8 59.3 L102.4 62.2 L106.1 65.0 L109.7 67.9 L113.4 70.5 L117.0 73.0 L120.6 75.5 L124.3 78.0 L127.9 80.5 L131.5 82.7 L135.2 84.7 L138.8 86.7 L142.5 88.6 L146.1 90.4 L149.7 91.7 L153.4 93.0 L157.0 94.4 L160.7 95.7 L164.3 97.0 L167.9 98.3 L171.6 99.7 L175.2 101.0 L178.9 102.2 L182.5 103.5 L186.1 104.7 L189.8 106.0 L193.4 107.2 L197.0 108.4 L200.7 109.7 L204.3 110.9 L208.0 112.1 L211.6 113.2" fill="none" stroke="#6a5e60" stroke-width="0.75" stroke-dasharray="3.2 2.2" opacity="0.85"/><path d="M33.3 77.8 L36.9 81.4 L40.6 85.5 L44.2 89.6 L47.9 92.4 L51.5 95.0 L55.1 97.6 L58.8 100.4 L62.4 103.2 L66.0 105.9 L69.7 108.7 L73.3 111.5 L77.0 113.4 L80.6 115.1 L84.2 116.9 L87.9 118.6 L91.5 120.3 L95.2 122.1 L98.8 123.8 L102.4 125.5 L106.1 126.7 L109.7 127.8 L113.4 128.9 L117.0 129.9 L120.6 131.0 L124.3 132.1 L127.9 133.2 L131.5 134.2 L135.2 135.0 L138.8 135.9 L142.5 136.8 L146.1 137.6 L149.7 138.5 L153.4 139.3 L157.0 140.2 L160.7 141.1 L164.3 141.8 L167.9 142.4 L171.6 143.0 L175.2 143.6 L178.9 144.2 L182.5 144.8 L186.1 145.4 L189.8 146.1 L193.4 146.7 L197.0 147.3 L200.7 147.9 L204.3 148.5 L208.0 149.1 L211.6 149.7" fill="none" stroke="#6a5e60" stroke-width="0.75" stroke-dasharray="3.2 2.2" opacity="0.85"/><path d="M33.3 131.5 L36.9 132.9 L40.6 134.3 L44.2 135.6 L47.9 137.0 L51.5 138.4 L55.1 139.8 L58.8 141.2 L62.4 142.6 L66.0 143.9 L69.7 145.3 L73.3 146.7 L77.0 147.6 L80.6 148.5 L84.2 149.4 L87.9 150.2 L91.5 151.1 L95.2 151.9 L98.8 152.8 L102.4 153.6 L106.1 154.5 L109.7 155.3 L113.4 156.2 L117.0 157.1 L120.6 157.5 L124.3 157.9 L127.9 158.3 L131.5 158.8 L135.2 159.2 L138.8 159.6 L142.5 160.0 L146.1 160.4 L149.7 160.8 L153.4 161.2 L157.0 161.6 L160.7 162.0 L164.3 162.4 L167.9 162.7 L171.6 163.1 L175.2 163.5 L178.9 163.8 L182.5 164.2 L186.1 164.5 L189.8 164.9 L193.4 165.3 L197.0 165.6 L200.7 166.0 L204.3 166.4 L208.0 166.7 L211.6 167.0" fill="none" stroke="#6a5e60" stroke-width="0.75" stroke-dasharray="3.2 2.2" opacity="0.85"/><path d="M33.3 157.8 L36.9 158.6 L40.6 159.3 L44.2 160.0 L47.9 160.7 L51.5 161.5 L55.1 162.2 L58.8 162.9 L62.4 163.6 L66.0 164.4 L69.7 165.1 L73.3 165.8 L77.0 166.2 L80.6 166.5 L84.2 166.8 L87.9 167.2 L91.5 167.5 L95.2 167.8 L98.8 168.2 L102.4 168.5 L106.1 168.8 L109.7 169.2 L113.4 169.5 L117.0 169.8 L120.6 170.1 L124.3 170.5 L127.9 170.8 L131.5 171.1 L135.2 171.3 L138.8 171.5 L142.5 171.8 L146.1 172.0 L149.7 172.2 L153.4 172.4 L157.0 172.7 L160.7 172.9 L164.3 173.1 L167.9 173.3 L171.6 173.6 L175.2 173.8 L178.9 174.0 L182.5 174.2 L186.1 174.5 L189.8 174.7 L193.4 174.9 L197.0 175.1 L200.7 175.4 L204.3 175.6 L208.0 175.8 L211.6 176.0" fill="none" stroke="#6a5e60" stroke-width="0.75" stroke-dasharray="3.2 2.2" opacity="0.85"/><path d="M33.3 170.9 L36.9 171.4 L40.6 171.9 L44.2 172.4 L47.9 172.9 L51.5 173.4 L55.1 173.9 L58.8 174.3 L62.4 174.7 L66.0 175.1 L69.7 175.4 L73.3 175.7 L77.0 176.1 L80.6 176.4 L84.2 176.8 L87.9 177.1 L91.5 177.4 L95.2 177.7 L98.8 178.0 L102.4 178.3 L106.1 178.6" fill="none" stroke="#6a5e60" stroke-width="0.75" stroke-dasharray="3.2 2.2" opacity="0.85"/><circle cx="165.1" cy="76" r="2.8" fill="none" stroke="#000" stroke-width="1.45"/><text x="164.1" y="67.4" font-size="10" text-anchor="middle" fill="#0a0a0a" stroke="#0a0a0a" stroke-width="0.22">0.08</text><circle cx="209.9" cy="117.3" r="2.8" fill="none" stroke="#000" stroke-width="1.45"/><text x="199.8" y="109.8" font-size="10" text-anchor="middle" fill="#0a0a0a" stroke="#0a0a0a" stroke-width="0.22">0.12</text><circle cx="121.2" cy="157.4" r="2.8" fill="none" stroke="#000" stroke-width="1.45"/><text x="119.3" y="143.2" font-size="10" text-anchor="middle" fill="#0a0a0a" stroke="#0a0a0a" stroke-width="0.22">0.38</text><circle cx="165.4" cy="168" r="2.8" fill="none" stroke="#000" stroke-width="1.45"/><text x="163.7" y="159.1" font-size="10" text-anchor="middle" fill="#0a0a0a" stroke="#0a0a0a" stroke-width="0.22">0.59</text><rect x="218.8" y="20.9" width="9.7" height="157.9" fill="url(#gacb)" stroke="#9a9a9a" stroke-width="0.5"/><text x="231.3" y="56.5" font-size="10" text-anchor="start" fill="#0a0a0a" stroke="#0a0a0a" stroke-width="0.22">1.6</text><line x1="226.9" y1="52.9" x2="228.5" y2="52.9" stroke="#444" stroke-width="0.6"/><text x="231.3" y="81.3" font-size="10" text-anchor="start" fill="#0a0a0a" stroke="#0a0a0a" stroke-width="0.22">0.8</text><line x1="226.9" y1="77.7" x2="228.5" y2="77.7" stroke="#444" stroke-width="0.6"/><text x="231.3" y="105.7" font-size="10" text-anchor="start" fill="#0a0a0a" stroke="#0a0a0a" stroke-width="0.22">0.4</text><line x1="226.9" y1="102.1" x2="228.5" y2="102.1" stroke="#444" stroke-width="0.6"/><text x="231.3" y="129.9" font-size="10" text-anchor="start" fill="#0a0a0a" stroke="#0a0a0a" stroke-width="0.22">0.2</text><line x1="226.9" y1="126.3" x2="228.5" y2="126.3" stroke="#444" stroke-width="0.6"/><text x="231.3" y="153.6" font-size="10" text-anchor="start" fill="#0a0a0a" stroke="#0a0a0a" stroke-width="0.22">0.1</text><line x1="226.9" y1="150" x2="228.5" y2="150" stroke="#444" stroke-width="0.6"/><text x="231.3" y="177.7" font-size="10" text-anchor="start" fill="#0a0a0a" stroke="#0a0a0a" stroke-width="0.22">0.05</text><line x1="226.9" y1="174.1" x2="228.5" y2="174.1" stroke="#444" stroke-width="0.6"/><text x="253.5" y="97.9" font-size="10" text-anchor="middle" fill="#0a0a0a" stroke="#0a0a0a" stroke-width="0.22" transform="rotate(90 253.5 97.9)">Resolution (mm)</text><text x="30" y="26.6" font-size="10" text-anchor="end" fill="#0a0a0a" stroke="#0a0a0a" stroke-width="0.22">30</text><text x="30" y="79.3" font-size="10" text-anchor="end" fill="#0a0a0a" stroke="#0a0a0a" stroke-width="0.22">20</text><text x="30" y="131.4" font-size="10" text-anchor="end" fill="#0a0a0a" stroke="#0a0a0a" stroke-width="0.22">10</text><text x="27.4" y="179.8" font-size="10" text-anchor="end" fill="#0a0a0a" stroke="#0a0a0a" stroke-width="0.22">1</text><text x="35.2" y="192.8" font-size="10" text-anchor="middle" fill="#0a0a0a" stroke="#0a0a0a" stroke-width="0.22">4</text><text x="73.8" y="192.8" font-size="10" text-anchor="middle" fill="#0a0a0a" stroke="#0a0a0a" stroke-width="0.22">6</text><text x="117.6" y="192.8" font-size="10" text-anchor="middle" fill="#0a0a0a" stroke="#0a0a0a" stroke-width="0.22">8</text><text x="161.4" y="192.8" font-size="10" text-anchor="middle" fill="#0a0a0a" stroke="#0a0a0a" stroke-width="0.22">10</text><text x="205.1" y="192.8" font-size="10" text-anchor="middle" fill="#0a0a0a" stroke="#0a0a0a" stroke-width="0.22">12</text><text x="122.8" y="206.3" font-size="10" text-anchor="middle" fill="#0a0a0a" stroke="#0a0a0a" stroke-width="0.22">Aperture size (mm)</text><text x="11.3" y="95.8" font-size="10" text-anchor="middle" fill="#0a0a0a" stroke="#0a0a0a" stroke-width="0.22" transform="rotate(-90 11.3 95.8)">Frequency (MHz)</text><text x="1.3" y="11.7" font-size="12.5" text-anchor="start" font-weight="bold" fill="#0a0a0a">a</text>
<text x="350.2" y="13.8" font-size="10" text-anchor="middle" fill="#0a0a0a" stroke="#0a0a0a" stroke-width="0.22">3 MHz</text><g clip-path="url(#bc1_0)"><rect x="314.3" y="17.3" width="71.8" height="66.7" fill="#05020f"/><g filter="url(#bl15)" opacity="0.85"><polygon points="320.2,15.3 380.2,15.3 351.7,54.5 348.7,54.5" fill="url(#bvee)"/></g><g filter="url(#bl1)" opacity="0.55" stroke="#8b2368" stroke-width="2.2"><line x1="326.2" y1="17.3" x2="350.2" y2="54.5"/><line x1="336.7" y1="17.3" x2="350.2" y2="54.5"/><line x1="374.2" y1="17.3" x2="350.2" y2="54.5"/><line x1="363.7" y1="17.3" x2="350.2" y2="54.5"/></g><ellipse cx="350.2" cy="21.3" rx="1.5" ry="1.8" fill="#7e1e6a" opacity="0.6" filter="url(#bl05)"/><ellipse cx="350.2" cy="26.5" rx="1.5" ry="1.8" fill="#7e1e6a" opacity="0.6" filter="url(#bl05)"/><ellipse cx="350.2" cy="31.7" rx="1.5" ry="1.8" fill="#7e1e6a" opacity="0.6" filter="url(#bl05)"/><ellipse cx="350.2" cy="36.9" rx="1.5" ry="1.8" fill="#7e1e6a" opacity="0.6" filter="url(#bl05)"/><ellipse cx="350.2" cy="42.1" rx="1.5" ry="1.8" fill="#7e1e6a" opacity="0.6" filter="url(#bl05)"/><ellipse cx="350.2" cy="47.3" rx="1.5" ry="1.8" fill="#7e1e6a" opacity="0.6" filter="url(#bl05)"/><rect x="343.2" y="54.5" width="14" height="33.5" fill="#8b2368" opacity="0.6" filter="url(#bl2)"/><rect x="346.7" y="53.5" width="7" height="33.5" fill="url(#bfoc)" filter="url(#bl1)"/><ellipse cx="350.2" cy="67.5" rx="1.3" ry="10" fill="#f9eb75" opacity="0.8" filter="url(#bl1)"/><ellipse cx="350.2" cy="43.7" rx="25" ry="24.7" fill="none" stroke="#8a8490" stroke-width="0.5" opacity="0.6"/><ellipse cx="350.2" cy="46.9" rx="24" ry="19.9" fill="none" stroke="#8a8490" stroke-width="0.5" opacity="0.6"/><rect x="335.6" y="57.7" width="29.8" height="18.8" fill="none" stroke="#e8e8e8" stroke-width="0.9" stroke-dasharray="1.6 1.1"/><line x1="371.5" y1="22.4" x2="379.4" y2="22.4" stroke="#fff" stroke-width="1.3"/></g><g clip-path="url(#bc2_0)"><rect x="314.3" y="85.8" width="71.8" height="46.1" fill="#05020f"/><rect x="332.7" y="82.8" width="6" height="52.1" fill="#6a176e" opacity="0.35" filter="url(#bl15)"/><rect x="320.2" y="82.8" width="6" height="52.1" fill="#6a176e" opacity="0.20" filter="url(#bl15)"/><rect x="361.7" y="82.8" width="6" height="52.1" fill="#6a176e" opacity="0.35" filter="url(#bl15)"/><rect x="374.2" y="82.8" width="6" height="52.1" fill="#6a176e" opacity="0.20" filter="url(#bl15)"/><polygon points="341.2,82.8 359.2,82.8 362.2,134.9 338.2,134.9" fill="url(#bfoc)" filter="url(#bl1)"/><rect x="348.2" y="90.8" width="4" height="25.0" fill="#f9eb75" opacity="0.7" filter="url(#bl1)"/><path d="M312.3 98.5 Q350.2 118.0 388.1 98.5" fill="none" stroke="#8a8490" stroke-width="0.5" opacity="0.6"/><path d="M312.3 101.7 Q350.2 121.2 388.1 101.7" fill="none" stroke="#8a8490" stroke-width="0.5" opacity="0.6"/><line x1="364.3" y1="125.6" x2="381.7" y2="125.6" stroke="#fff" stroke-width="1.4"/></g><rect x="314.5" y="86.0" width="71.4" height="45.7" fill="none" stroke="#d4d4d4" stroke-width="1.4" stroke-dasharray="2 1"/><text x="430.1" y="15.1" font-size="10" text-anchor="middle" fill="#0a0a0a" stroke="#0a0a0a" stroke-width="0.22">5.4 MHz</text><g clip-path="url(#bc1_1)"><rect x="394.0" y="17.3" width="71.8" height="66.7" fill="#05020f"/><g filter="url(#bl15)" opacity="0.70"><polygon points="400.1,15.3 460.1,15.3 431.6,58.5 428.6,58.5" fill="url(#bvee)"/></g><g filter="url(#bl1)" opacity="0.45" stroke="#8b2368" stroke-width="2.2"><line x1="406.1" y1="17.3" x2="430.1" y2="58.5"/><line x1="416.6" y1="17.3" x2="430.1" y2="58.5"/><line x1="454.1" y1="17.3" x2="430.1" y2="58.5"/><line x1="443.6" y1="17.3" x2="430.1" y2="58.5"/></g><ellipse cx="430.1" cy="21.3" rx="1.5" ry="1.8" fill="#7e1e6a" opacity="0.6" filter="url(#bl05)"/><ellipse cx="430.1" cy="27.2" rx="1.5" ry="1.8" fill="#7e1e6a" opacity="0.6" filter="url(#bl05)"/><ellipse cx="430.1" cy="33.0" rx="1.5" ry="1.8" fill="#7e1e6a" opacity="0.6" filter="url(#bl05)"/><ellipse cx="430.1" cy="38.9" rx="1.5" ry="1.8" fill="#7e1e6a" opacity="0.6" filter="url(#bl05)"/><ellipse cx="430.1" cy="44.8" rx="1.5" ry="1.8" fill="#7e1e6a" opacity="0.6" filter="url(#bl05)"/><ellipse cx="430.1" cy="50.6" rx="1.5" ry="1.8" fill="#7e1e6a" opacity="0.6" filter="url(#bl05)"/><rect x="426.1" y="58.5" width="8" height="25.5" fill="#7e1e6a" opacity="0.7" filter="url(#bl15)"/><ellipse cx="430.1" cy="67.5" rx="2.0" ry="10" fill="#fa9c0d" filter="url(#bl05)"/><ellipse cx="430.1" cy="67.5" rx="0.9" ry="6" fill="#f9eb75" filter="url(#bl05)"/><ellipse cx="430.1" cy="43.7" rx="25" ry="24.7" fill="none" stroke="#8a8490" stroke-width="0.5" opacity="0.6"/><ellipse cx="430.1" cy="46.9" rx="24" ry="19.9" fill="none" stroke="#8a8490" stroke-width="0.5" opacity="0.6"/><rect x="415.5" y="57.7" width="29.8" height="18.8" fill="none" stroke="#e8e8e8" stroke-width="0.9" stroke-dasharray="1.6 1.1"/><line x1="451.2" y1="22.4" x2="459.1" y2="22.4" stroke="#fff" stroke-width="1.3"/></g><g clip-path="url(#bc2_1)"><rect x="394.0" y="85.8" width="71.8" height="46.1" fill="#05020f"/><rect x="419.1" y="82.8" width="4" height="52.1" fill="#6a176e" opacity="0.40" filter="url(#bl1)"/><rect x="411.1" y="82.8" width="4" height="52.1" fill="#6a176e" opacity="0.25" filter="url(#bl1)"/><rect x="402.1" y="82.8" width="4" height="52.1" fill="#6a176e" opacity="0.18" filter="url(#bl1)"/><rect x="437.1" y="82.8" width="4" height="52.1" fill="#6a176e" opacity="0.40" filter="url(#bl1)"/><rect x="445.1" y="82.8" width="4" height="52.1" fill="#6a176e" opacity="0.25" filter="url(#bl1)"/><rect x="454.1" y="82.8" width="4" height="52.1" fill="#6a176e" opacity="0.18" filter="url(#bl1)"/><polygon points="424.6,82.8 435.6,82.8 437.6,134.9 422.6,134.9" fill="url(#bfoc)" filter="url(#bl1)"/><ellipse cx="430.1" cy="111.8" rx="1.6" ry="14" fill="#f9eb75" opacity="0.7" filter="url(#bl1)"/><path d="M392.0 98.5 Q430.1 118.0 467.8 98.5" fill="none" stroke="#8a8490" stroke-width="0.5" opacity="0.6"/><path d="M392.0 101.7 Q430.1 121.2 467.8 101.7" fill="none" stroke="#8a8490" stroke-width="0.5" opacity="0.6"/><line x1="444.0" y1="125.6" x2="461.4" y2="125.6" stroke="#fff" stroke-width="1.4"/></g><rect x="394.2" y="86.0" width="71.4" height="45.7" fill="none" stroke="#d4d4d4" stroke-width="1.4" stroke-dasharray="2 1"/><text x="509.6" y="15.1" font-size="10" text-anchor="middle" fill="#0a0a0a" stroke="#0a0a0a" stroke-width="0.22">12 MHz</text><g clip-path="url(#bc1_2)"><rect x="473.8" y="17.3" width="71.8" height="66.7" fill="#05020f"/><g filter="url(#bl15)" opacity="0.45"><polygon points="481.6,15.3 537.6,15.3 511.1,66.5 508.1,66.5" fill="url(#bvee)"/></g><g filter="url(#bl1)" opacity="0.30" stroke="#8b2368" stroke-width="2.2"><line x1="487.2" y1="17.3" x2="509.6" y2="66.5"/><line x1="497.0" y1="17.3" x2="509.6" y2="66.5"/><line x1="532.0" y1="17.3" x2="509.6" y2="66.5"/><line x1="522.2" y1="17.3" x2="509.6" y2="66.5"/></g><g filter="url(#bl1)" opacity="0.35" stroke="#7e1e6a" stroke-width="1.5"><line x1="509.6" y1="66.5" x2="497.6" y2="84.0"/><line x1="509.6" y1="66.5" x2="521.6" y2="84.0"/></g><ellipse cx="509.6" cy="69.5" rx="1.0" ry="4.2" fill="#fca50a" filter="url(#bl05)"/><ellipse cx="509.6" cy="72.5" rx="3" ry="10" fill="#6a176e" opacity="0.5" filter="url(#bl15)"/><ellipse cx="509.6" cy="43.7" rx="25" ry="24.7" fill="none" stroke="#8a8490" stroke-width="0.5" opacity="0.6"/><ellipse cx="509.6" cy="46.9" rx="24" ry="19.9" fill="none" stroke="#8a8490" stroke-width="0.5" opacity="0.6"/><rect x="495.0" y="57.7" width="29.8" height="18.8" fill="none" stroke="#e8e8e8" stroke-width="0.9" stroke-dasharray="1.6 1.1"/><line x1="531.0" y1="22.4" x2="538.9" y2="22.4" stroke="#fff" stroke-width="1.3"/></g><g clip-path="url(#bc2_2)"><rect x="473.8" y="85.8" width="71.8" height="46.1" fill="#05020f"/><rect x="501.6" y="85.8" width="16" height="46.1" fill="#56106b" opacity="0.45" filter="url(#bl2)"/><g filter="url(#bl1)" opacity="0.6" stroke="#7e1e6a" stroke-width="2"><line x1="503.6" y1="85.8" x2="510.6" y2="94.8"/><line x1="515.6" y1="85.8" x2="508.6" y2="94.8"/></g><ellipse cx="509.6" cy="114.4" rx="3.4" ry="14.5" fill="#a82e5e" opacity="0.8" filter="url(#bl1)"/><ellipse cx="509.6" cy="114.4" rx="1.9" ry="12" fill="#fca50a" filter="url(#bl1)"/><ellipse cx="509.6" cy="113.0" rx="1.0" ry="6" fill="#f9eb75" filter="url(#bl05)"/><path d="M471.8 98.5 Q509.6 118.0 547.6 98.5" fill="none" stroke="#8a8490" stroke-width="0.5" opacity="0.6"/><path d="M471.8 101.7 Q509.6 121.2 547.6 101.7" fill="none" stroke="#8a8490" stroke-width="0.5" opacity="0.6"/><line x1="523.8" y1="125.6" x2="541.2" y2="125.6" stroke="#fff" stroke-width="1.4"/></g><rect x="474.0" y="86.0" width="71.4" height="45.7" fill="none" stroke="#d4d4d4" stroke-width="1.4" stroke-dasharray="2 1"/><text x="589.6" y="15.1" font-size="10" text-anchor="middle" fill="#0a0a0a" stroke="#0a0a0a" stroke-width="0.22">20 MHz</text><g clip-path="url(#bc1_3)"><rect x="553.5" y="17.3" width="71.8" height="66.7" fill="#05020f"/><g filter="url(#bl15)" opacity="0.35"><polygon points="561.6,15.3 617.6,15.3 591.1,67.5 588.1,67.5" fill="url(#bvee)"/></g><g filter="url(#bl1)" opacity="0.25" stroke="#8b2368" stroke-width="2.2"><line x1="567.2" y1="17.3" x2="589.6" y2="67.5"/><line x1="577.0" y1="17.3" x2="589.6" y2="67.5"/><line x1="612.0" y1="17.3" x2="589.6" y2="67.5"/><line x1="602.2" y1="17.3" x2="589.6" y2="67.5"/></g><g filter="url(#bl1)" opacity="0.35" stroke="#7e1e6a" stroke-width="1.5"><line x1="589.6" y1="67.5" x2="577.6" y2="84.0"/><line x1="589.6" y1="67.5" x2="601.6" y2="84.0"/></g><ellipse cx="589.6" cy="70.5" rx="0.8" ry="3.6" fill="#f58116" filter="url(#bl05)"/><ellipse cx="589.6" cy="73.5" rx="3" ry="10" fill="#62146d" opacity="0.45" filter="url(#bl15)"/><ellipse cx="589.6" cy="43.7" rx="25" ry="24.7" fill="none" stroke="#8a8490" stroke-width="0.5" opacity="0.6"/><ellipse cx="589.6" cy="46.9" rx="24" ry="19.9" fill="none" stroke="#8a8490" stroke-width="0.5" opacity="0.6"/><rect x="575.0" y="57.7" width="29.8" height="18.8" fill="none" stroke="#e8e8e8" stroke-width="0.9" stroke-dasharray="1.6 1.1"/><line x1="610.7" y1="22.4" x2="618.6" y2="22.4" stroke="#fff" stroke-width="1.3"/></g><g clip-path="url(#bc2_3)"><rect x="553.5" y="85.8" width="71.8" height="46.1" fill="#05020f"/><rect x="583.6" y="85.8" width="12" height="46.1" fill="#56106b" opacity="0.35" filter="url(#bl2)"/><g filter="url(#bl05)" opacity="0.4" stroke="#7e1e6a" stroke-width="1.1"><line x1="582.6" y1="85.8" x2="596.6" y2="105.8"/><line x1="596.6" y1="85.8" x2="582.6" y2="105.8"/></g><ellipse cx="589.6" cy="115.0" rx="2.6" ry="10" fill="#932667" opacity="0.7" filter="url(#bl1)"/><ellipse cx="589.6" cy="115.0" rx="1.2" ry="8.5" fill="#fbaf16" filter="url(#bl05)"/><path d="M551.5 98.5 Q589.6 118.0 627.3 98.5" fill="none" stroke="#8a8490" stroke-width="0.5" opacity="0.6"/><path d="M551.5 101.7 Q589.6 121.2 627.3 101.7" fill="none" stroke="#8a8490" stroke-width="0.5" opacity="0.6"/><line x1="603.5" y1="125.6" x2="620.9" y2="125.6" stroke="#fff" stroke-width="1.4"/></g><rect x="553.7" y="86.0" width="71.4" height="45.7" fill="none" stroke="#d4d4d4" stroke-width="1.4" stroke-dasharray="2 1"/><g clip-path="url(#bc3_0)"><rect x="314.8" y="134.8" width="72.8" height="72.4" fill="#453dd7"/><g filter="url(#bl3)"><ellipse cx="338.4" cy="145.7" rx="3.3" ry="5.1" fill="#4457f3" opacity="0.6"/><ellipse cx="341.4" cy="139.0" rx="3.9" ry="3.3" fill="#4747eb" opacity="0.6"/><ellipse cx="345.2" cy="152.2" rx="4.7" ry="6.3" fill="#4747eb" opacity="0.6"/><ellipse cx="323.8" cy="151.0" rx="6.8" ry="5.3" fill="#4747eb" opacity="0.6"/><ellipse cx="343.7" cy="205.5" rx="5.2" ry="3.5" fill="#4457f3" opacity="0.6"/><ellipse cx="345.3" cy="173.9" rx="4.2" ry="6.3" fill="#4747eb" opacity="0.6"/><ellipse cx="328.0" cy="176.9" rx="4.5" ry="5.2" fill="#4163f9" opacity="0.6"/><ellipse cx="319.4" cy="139.1" rx="5.0" ry="5.1" fill="#4163f9" opacity="0.6"/><ellipse cx="371.4" cy="168.5" rx="4.4" ry="4.0" fill="#4337ca" opacity="0.6"/><ellipse cx="327.9" cy="191.3" rx="5.3" ry="5.1" fill="#4457f3" opacity="0.6"/><ellipse cx="378.5" cy="187.6" rx="5.4" ry="3.3" fill="#4130bc" opacity="0.6"/><ellipse cx="352.1" cy="146.7" rx="3.6" ry="5.0" fill="#4130bc" opacity="0.6"/><ellipse cx="317.7" cy="183.2" rx="5.3" ry="6.5" fill="#4747eb" opacity="0.6"/><ellipse cx="337.6" cy="185.1" rx="5.0" ry="6.2" fill="#4747eb" opacity="0.6"/><ellipse cx="319.8" cy="141.6" rx="4.9" ry="5.7" fill="#4130bc" opacity="0.6"/><ellipse cx="319.2" cy="185.6" rx="7.0" ry="6.3" fill="#4747eb" opacity="0.6"/><ellipse cx="335.5" cy="162.7" rx="3.1" ry="4.8" fill="#4130bc" opacity="0.6"/><ellipse cx="327.0" cy="143.3" rx="3.9" ry="4.1" fill="#4457f3" opacity="0.6"/><ellipse cx="368.6" cy="163.6" rx="3.3" ry="4.8" fill="#4337ca" opacity="0.6"/><ellipse cx="354.8" cy="198.8" rx="6.5" ry="4.1" fill="#4337ca" opacity="0.6"/><ellipse cx="345.0" cy="160.8" rx="6.8" ry="3.6" fill="#4337ca" opacity="0.6"/><ellipse cx="327.6" cy="151.6" rx="3.0" ry="6.3" fill="#4163f9" opacity="0.6"/></g><ellipse cx="351.1" cy="170.9" rx="22.0" ry="22.0" fill="#3a77fb" opacity="0.6" transform="rotate(0 351.1 170.9)" filter="url(#bl3)"/><ellipse cx="351.1" cy="170.9" rx="16.5" ry="16.5" fill="#2797eb" opacity="0.55" transform="rotate(0 351.1 170.9)" filter="url(#bl2)"/><ellipse cx="351.1" cy="170.9" rx="14.9" ry="14.9" fill="url(#bspot)" transform="rotate(0 351.1 170.9)"/><ellipse cx="351.1" cy="170.9" rx="11.0" ry="11.0" fill="none" stroke="#0a7a6a" stroke-width="0.8" stroke-dasharray="0.8 0.9" opacity="0.8" transform="rotate(0 351.1 170.9)"/></g><text x="351.7" y="149.4" font-size="10" text-anchor="middle" fill="#ffffff" stroke="#ffffff" stroke-width="0.22">590 µm</text><g clip-path="url(#bc3_1)"><rect x="394.6" y="134.8" width="72.8" height="72.4" fill="#453dd7"/><g filter="url(#bl3)"><ellipse cx="407.9" cy="155.2" rx="4.7" ry="4.5" fill="#4163f9" opacity="0.6"/><ellipse cx="435.8" cy="203.8" rx="6.8" ry="5.6" fill="#4747eb" opacity="0.6"/><ellipse cx="448.5" cy="167.9" rx="4.6" ry="4.6" fill="#4747eb" opacity="0.6"/><ellipse cx="402.1" cy="180.7" rx="3.8" ry="6.9" fill="#4457f3" opacity="0.6"/><ellipse cx="426.7" cy="142.8" rx="3.2" ry="3.0" fill="#4747eb" opacity="0.6"/><ellipse cx="405.6" cy="142.1" rx="5.5" ry="3.3" fill="#4130bc" opacity="0.6"/><ellipse cx="409.7" cy="162.0" rx="6.8" ry="5.4" fill="#4130bc" opacity="0.6"/><ellipse cx="429.1" cy="143.2" rx="7.0" ry="4.9" fill="#4337ca" opacity="0.6"/><ellipse cx="429.8" cy="141.0" rx="6.0" ry="6.0" fill="#4457f3" opacity="0.6"/><ellipse cx="429.4" cy="184.9" rx="3.1" ry="6.8" fill="#4747eb" opacity="0.6"/><ellipse cx="433.1" cy="145.4" rx="6.7" ry="6.0" fill="#4747eb" opacity="0.6"/><ellipse cx="416.3" cy="181.3" rx="5.8" ry="4.0" fill="#4457f3" opacity="0.6"/><ellipse cx="421.3" cy="146.9" rx="5.1" ry="6.1" fill="#4163f9" opacity="0.6"/><ellipse cx="418.6" cy="150.9" rx="6.2" ry="6.3" fill="#4163f9" opacity="0.6"/><ellipse cx="448.5" cy="151.2" rx="5.0" ry="5.9" fill="#4747eb" opacity="0.6"/><ellipse cx="466.6" cy="192.0" rx="4.0" ry="5.8" fill="#4337ca" opacity="0.6"/><ellipse cx="464.2" cy="167.2" rx="6.8" ry="4.5" fill="#4130bc" opacity="0.6"/><ellipse cx="410.6" cy="151.2" rx="4.4" ry="4.9" fill="#4163f9" opacity="0.6"/><ellipse cx="466.3" cy="179.0" rx="4.9" ry="5.6" fill="#4457f3" opacity="0.6"/><ellipse cx="452.8" cy="140.9" rx="6.6" ry="6.1" fill="#4457f3" opacity="0.6"/><ellipse cx="449.2" cy="169.4" rx="4.7" ry="5.5" fill="#4163f9" opacity="0.6"/><ellipse cx="400.9" cy="203.3" rx="4.9" ry="6.0" fill="#4337ca" opacity="0.6"/></g><ellipse cx="430.3" cy="171.5" rx="14.4" ry="14.4" fill="#3a77fb" opacity="0.6" transform="rotate(0 430.3 171.5)" filter="url(#bl3)"/><ellipse cx="430.3" cy="171.5" rx="10.8" ry="10.8" fill="#2797eb" opacity="0.55" transform="rotate(0 430.3 171.5)" filter="url(#bl2)"/><ellipse cx="430.3" cy="171.5" rx="9.7" ry="9.7" fill="url(#bspot)" transform="rotate(0 430.3 171.5)"/><ellipse cx="430.3" cy="171.5" rx="7.2" ry="7.2" fill="none" stroke="#0a7a6a" stroke-width="0.8" stroke-dasharray="0.8 0.9" opacity="0.8" transform="rotate(0 430.3 171.5)"/></g><text x="433" y="149.4" font-size="10" text-anchor="middle" fill="#ffffff" stroke="#ffffff" stroke-width="0.22">380 µm</text><g clip-path="url(#bc3_2)"><rect x="474.4" y="134.8" width="72.8" height="72.4" fill="#453dd7"/><g filter="url(#bl3)"><ellipse cx="480.6" cy="146.3" rx="3.1" ry="5.4" fill="#4163f9" opacity="0.6"/><ellipse cx="508.3" cy="182.3" rx="6.3" ry="6.9" fill="#4747eb" opacity="0.6"/><ellipse cx="522.2" cy="160.2" rx="5.2" ry="3.1" fill="#4747eb" opacity="0.6"/><ellipse cx="532.6" cy="187.4" rx="5.1" ry="6.7" fill="#4457f3" opacity="0.6"/><ellipse cx="506.0" cy="197.9" rx="3.1" ry="3.9" fill="#4163f9" opacity="0.6"/><ellipse cx="510.9" cy="190.1" rx="4.0" ry="4.7" fill="#4130bc" opacity="0.6"/><ellipse cx="483.9" cy="200.7" rx="6.6" ry="5.6" fill="#4130bc" opacity="0.6"/><ellipse cx="533.7" cy="172.2" rx="3.5" ry="3.6" fill="#4747eb" opacity="0.6"/><ellipse cx="511.6" cy="198.0" rx="5.4" ry="6.1" fill="#4163f9" opacity="0.6"/><ellipse cx="485.3" cy="145.0" rx="5.9" ry="5.2" fill="#4747eb" opacity="0.6"/><ellipse cx="498.1" cy="172.3" rx="4.9" ry="6.1" fill="#4747eb" opacity="0.6"/><ellipse cx="538.7" cy="138.9" rx="4.1" ry="6.1" fill="#4163f9" opacity="0.6"/><ellipse cx="511.4" cy="175.5" rx="4.8" ry="5.5" fill="#4457f3" opacity="0.6"/><ellipse cx="511.2" cy="171.9" rx="4.8" ry="5.1" fill="#4130bc" opacity="0.6"/><ellipse cx="509.2" cy="203.0" rx="6.5" ry="6.8" fill="#4747eb" opacity="0.6"/><ellipse cx="493.3" cy="175.3" rx="6.4" ry="3.5" fill="#4163f9" opacity="0.6"/><ellipse cx="483.3" cy="166.8" rx="5.7" ry="4.7" fill="#4457f3" opacity="0.6"/><ellipse cx="489.9" cy="156.7" rx="6.6" ry="3.6" fill="#4457f3" opacity="0.6"/><ellipse cx="526.5" cy="182.6" rx="4.0" ry="3.5" fill="#4163f9" opacity="0.6"/><ellipse cx="508.5" cy="188.9" rx="4.6" ry="4.9" fill="#4457f3" opacity="0.6"/><ellipse cx="546.5" cy="195.1" rx="5.8" ry="7.0" fill="#4163f9" opacity="0.6"/><ellipse cx="503.8" cy="165.3" rx="4.3" ry="5.9" fill="#4130bc" opacity="0.6"/></g><ellipse cx="509.4" cy="170.0" rx="19.2" ry="22.0" fill="#3a77fb" opacity="0.6" transform="rotate(30 509.4 170.0)" filter="url(#bl3)"/><ellipse cx="501.4" cy="187.0" rx="11" ry="6" fill="#3e6fff" opacity="0.6" filter="url(#bl3)"/><ellipse cx="509.4" cy="170.0" rx="14.4" ry="16.5" fill="#2797eb" opacity="0.55" transform="rotate(30 509.4 170.0)" filter="url(#bl2)"/><ellipse cx="509.4" cy="170.0" rx="13.0" ry="14.9" fill="url(#bspot)" transform="rotate(30 509.4 170.0)"/><ellipse cx="509.4" cy="170.0" rx="9.6" ry="11.0" fill="none" stroke="#0a7a6a" stroke-width="0.8" stroke-dasharray="0.8 0.9" opacity="0.8" transform="rotate(30 509.4 170.0)"/></g><text x="510.9" y="149.4" font-size="10" text-anchor="middle" fill="#ffffff" stroke="#ffffff" stroke-width="0.22">115 µm</text><g clip-path="url(#bc3_3)"><rect x="554.6" y="134.8" width="72.8" height="72.4" fill="#453dd7"/><g filter="url(#bl3)"><ellipse cx="556.0" cy="174.9" rx="5.8" ry="4.5" fill="#4337ca" opacity="0.6"/><ellipse cx="592.3" cy="156.2" rx="3.5" ry="6.7" fill="#4457f3" opacity="0.6"/><ellipse cx="571.2" cy="198.3" rx="4.1" ry="3.2" fill="#4457f3" opacity="0.6"/><ellipse cx="611.3" cy="154.4" rx="6.3" ry="6.4" fill="#4163f9" opacity="0.6"/><ellipse cx="603.8" cy="203.3" rx="3.6" ry="6.7" fill="#4337ca" opacity="0.6"/><ellipse cx="596.1" cy="185.5" rx="4.1" ry="6.2" fill="#4457f3" opacity="0.6"/><ellipse cx="567.9" cy="199.6" rx="6.8" ry="5.5" fill="#4130bc" opacity="0.6"/><ellipse cx="613.0" cy="140.9" rx="3.3" ry="6.5" fill="#4163f9" opacity="0.6"/><ellipse cx="587.6" cy="159.4" rx="4.7" ry="6.7" fill="#4747eb" opacity="0.6"/><ellipse cx="599.9" cy="137.9" rx="6.8" ry="6.9" fill="#4163f9" opacity="0.6"/><ellipse cx="573.7" cy="147.9" rx="5.5" ry="5.1" fill="#4130bc" opacity="0.6"/><ellipse cx="569.6" cy="167.1" rx="4.1" ry="6.2" fill="#4163f9" opacity="0.6"/><ellipse cx="627.0" cy="137.5" rx="5.9" ry="5.2" fill="#4457f3" opacity="0.6"/><ellipse cx="568.4" cy="169.2" rx="3.4" ry="6.3" fill="#4337ca" opacity="0.6"/><ellipse cx="586.1" cy="170.6" rx="6.9" ry="4.2" fill="#4337ca" opacity="0.6"/><ellipse cx="570.3" cy="151.4" rx="6.3" ry="5.8" fill="#4163f9" opacity="0.6"/><ellipse cx="600.9" cy="164.1" rx="6.9" ry="6.3" fill="#4130bc" opacity="0.6"/><ellipse cx="555.6" cy="180.1" rx="4.7" ry="3.2" fill="#4130bc" opacity="0.6"/><ellipse cx="603.0" cy="162.4" rx="5.7" ry="4.1" fill="#4747eb" opacity="0.6"/><ellipse cx="572.2" cy="156.0" rx="3.7" ry="4.1" fill="#4337ca" opacity="0.6"/><ellipse cx="554.9" cy="161.2" rx="6.9" ry="5.2" fill="#4130bc" opacity="0.6"/><ellipse cx="572.4" cy="204.7" rx="3.9" ry="3.7" fill="#4130bc" opacity="0.6"/></g><ellipse cx="592.0" cy="172.0" rx="14.0" ry="17.0" fill="#3a77fb" opacity="0.6" transform="rotate(25 592.0 172.0)" filter="url(#bl3)"/><ellipse cx="592.0" cy="172.0" rx="10.5" ry="12.8" fill="#2797eb" opacity="0.55" transform="rotate(25 592.0 172.0)" filter="url(#bl2)"/><ellipse cx="592.0" cy="172.0" rx="9.5" ry="11.5" fill="url(#bspot)" transform="rotate(25 592.0 172.0)"/><ellipse cx="592.0" cy="172.0" rx="7.0" ry="8.5" fill="none" stroke="#0a7a6a" stroke-width="0.8" stroke-dasharray="0.8 0.9" opacity="0.8" transform="rotate(25 592.0 172.0)"/></g><text x="592.3" y="149.4" font-size="10" text-anchor="middle" fill="#ffffff" stroke="#ffffff" stroke-width="0.22">81 µm</text><line x1="352.3" y1="153.9" x2="376.0" y2="153.9" stroke="#e6e6ff" stroke-width="1.1"/><line x1="340.6" y1="156.6" x2="364.0" y2="156.6" stroke="#e6e6ff" stroke-width="1.1"/><line x1="422.1" y1="155.1" x2="437.9" y2="155.1" stroke="#e6e6ff" stroke-width="1.1"/><line x1="501.5" y1="153.6" x2="523.2" y2="153.6" stroke="#e6e6ff" stroke-width="1.1"/><line x1="586.0" y1="153.6" x2="602.6" y2="153.6" stroke="#e6e6ff" stroke-width="1.1"/><text x="512" y="220.6" font-size="10" text-anchor="middle" fill="#0a0a0a" stroke="#0a0a0a" stroke-width="0.22">Acuity: 20/460</text><text x="591.4" y="220.6" font-size="10" text-anchor="middle" fill="#0a0a0a" stroke="#0a0a0a" stroke-width="0.22">Acuity: 20/320</text><text x="291.4" y="11.2" font-size="12.5" text-anchor="start" font-weight="bold" fill="#0a0a0a">b</text><rect x="631.6" y="22" width="9" height="90.7" fill="url(#binf)"/><text x="636.1" y="21.2" font-size="10" text-anchor="middle" fill="#0a0a0a" stroke="#0a0a0a" stroke-width="0.22">1</text><text x="636.1" y="125.5" font-size="10" text-anchor="middle" fill="#0a0a0a" stroke="#0a0a0a" stroke-width="0.22">0</text><rect x="632.5" y="142" width="8.2" height="59" fill="url(#bpar)"/><text x="636.6" y="141.1" font-size="10" text-anchor="middle" fill="#0a0a0a" stroke="#0a0a0a" stroke-width="0.22">1</text><text x="636.6" y="212.4" font-size="10" text-anchor="middle" fill="#0a0a0a" stroke="#0a0a0a" stroke-width="0.22">0</text><text x="660.5" y="70.6" font-size="10" text-anchor="middle" fill="#0a0a0a" stroke="#0a0a0a" stroke-width="0.22" transform="rotate(90 660.5 70.6)">Normalized</text><text x="648.3" y="70.6" font-size="10" text-anchor="middle" fill="#0a0a0a" stroke="#0a0a0a" stroke-width="0.22" transform="rotate(90 648.3 70.6)">simulated pressure</text><text x="660.5" y="174.3" font-size="10" text-anchor="middle" fill="#0a0a0a" stroke="#0a0a0a" stroke-width="0.22" transform="rotate(90 660.5 174.3)">Normalized</text><text x="648.3" y="174.3" font-size="10" text-anchor="middle" fill="#0a0a0a" stroke="#0a0a0a" stroke-width="0.22" transform="rotate(90 648.3 174.3)">measured pressure</text>
<text x="1.4" y="236.4" font-size="12.5" text-anchor="start" font-weight="bold" fill="#0a0a0a">c</text><path d="M44 316 C41 334 43 345 47 353 L125 353 C129 345 131 334 128 316 Z" fill="url(#cbody)" filter="url(#cbl2)"/><path d="M92 243 C96 247 99 253 101 258 C104 266 107 274 111 282 C115 289 122 295 128 299 C132 302 133 310 132 318 C131 326 128 332 124 335 C105 339 67 339 48 335 C44 332 41 326 40 318 C39 310 40 302 44 299 C50 295 57 289 61 282 C65 274 68 266 71 258 C73 253 76 247 80 243 Z" fill="#ebe7e5" stroke="#cfc4bd" stroke-width="0.7"/><path d="M44 322 C60 329 112 329 128 322 L127 333 C112 338 60 338 45 333 Z" fill="#e0dad7" opacity="0.55" filter="url(#cbl)"/><path d="M95 246 Q109.5 233 124 236" fill="none" stroke="#d9d1cc" stroke-width="0.55"/><path d="M97 249 Q113.5 241 130 244" fill="none" stroke="#d9d1cc" stroke-width="0.55"/><path d="M99 252 Q113.5 249 128 254" fill="none" stroke="#d9d1cc" stroke-width="0.55"/><path d="M100 255 Q110 252 120 261" fill="none" stroke="#d9d1cc" stroke-width="0.55"/><path d="M77 246 Q66 233 55 236" fill="none" stroke="#d9d1cc" stroke-width="0.55"/><path d="M75 249 Q62.5 241 50 244" fill="none" stroke="#d9d1cc" stroke-width="0.55"/><path d="M78.5 245 C79 240 82 237.8 85 237.8 C88.5 237.8 91.5 240.5 92 244.5 C88 243 82 243 78.5 245 Z" fill="#d48e86"/><g><path d="M21 333 C29 335.5 40 334 46.8 329.5 C53.5 325 57.8 316 56.4 306.5 C55.8 302 53.5 299.8 51 299.5 L48 300.8 Z" fill="#f2ece9" stroke="#c9bdb6" stroke-width="0.5"/><path d="M21.6 331.5 C23 324 29 317 35.4 313.2 C40 310 44 304 48 300.8 C51 298.8 54.5 301 55.1 306 C56 314 52 322 46 327 C40 331 30 332.5 21.6 331.5 Z" fill="#e3aaa2"/><path d="M21.6 331.5 C23 324 29 317 35.4 313.2 C40 310 44 304 48 300.8 L49.5 302.8 C45.5 306.5 41.5 312.5 37 316 C30.5 320.5 25.5 325.5 21.6 331.5 Z" fill="#c9665d"/></g><g transform="translate(171.6 0) scale(-1 1)"><path d="M21 333 C29 335.5 40 334 46.8 329.5 C53.5 325 57.8 316 56.4 306.5 C55.8 302 53.5 299.8 51 299.5 L48 300.8 Z" fill="#f2ece9" stroke="#c9bdb6" stroke-width="0.5"/><path d="M21.6 331.5 C23 324 29 317 35.4 313.2 C40 310 44 304 48 300.8 C51 298.8 54.5 301 55.1 306 C56 314 52 322 46 327 C40 331 30 332.5 21.6 331.5 Z" fill="#e3aaa2"/><path d="M21.6 331.5 C23 324 29 317 35.4 313.2 C40 310 44 304 48 300.8 L49.5 302.8 C45.5 306.5 41.5 312.5 37 316 C30.5 320.5 25.5 325.5 21.6 331.5 Z" fill="#c9665d"/></g><ellipse cx="104.8" cy="278" rx="3.6" ry="6.2" fill="#b8262a" stroke="#8a1a1c" stroke-width="0.5" transform="rotate(-28 104.8 278)"/><ellipse cx="104" cy="276" rx="1.2" ry="2.2" fill="#e06a60" opacity="0.6" transform="rotate(-28 104 276)"/><path d="M87 287 C92 284 104 284.5 110 287.5 C115 291 115.5 302 112.5 309 C109 314 100 314.5 93 313 C86.5 311 84.5 304 84.8 297 C85 292 85.5 289 87 287 Z" fill="#0d2b47"/><circle cx="89.0" cy="289.0" r="0.45" fill="#3a6a7a" opacity="0.8"/><circle cx="93.3" cy="289.0" r="0.45" fill="#3a6a7a" opacity="0.8"/><circle cx="97.6" cy="289.0" r="0.45" fill="#3a6a7a" opacity="0.8"/><circle cx="101.9" cy="289.0" r="0.45" fill="#3a6a7a" opacity="0.8"/><circle cx="106.2" cy="289.0" r="0.45" fill="#3a6a7a" opacity="0.8"/><circle cx="110.5" cy="289.0" r="0.45" fill="#3a6a7a" opacity="0.8"/><circle cx="89.0" cy="293.3" r="0.45" fill="#3a6a7a" opacity="0.8"/><circle cx="93.3" cy="293.3" r="0.45" fill="#3a6a7a" opacity="0.8"/><circle cx="97.6" cy="293.3" r="0.45" fill="#3a6a7a" opacity="0.8"/><circle cx="101.9" cy="293.3" r="0.45" fill="#3a6a7a" opacity="0.8"/><circle cx="106.2" cy="293.3" r="0.45" fill="#3a6a7a" opacity="0.8"/><circle cx="110.5" cy="293.3" r="0.45" fill="#3a6a7a" opacity="0.8"/><circle cx="89.0" cy="297.6" r="0.45" fill="#3a6a7a" opacity="0.8"/><circle cx="93.3" cy="297.6" r="0.45" fill="#3a6a7a" opacity="0.8"/><circle cx="97.6" cy="297.6" r="0.45" fill="#3a6a7a" opacity="0.8"/><circle cx="101.9" cy="297.6" r="0.45" fill="#3a6a7a" opacity="0.8"/><circle cx="106.2" cy="297.6" r="0.45" fill="#3a6a7a" opacity="0.8"/><circle cx="110.5" cy="297.6" r="0.45" fill="#3a6a7a" opacity="0.8"/><circle cx="89.0" cy="301.9" r="0.45" fill="#3a6a7a" opacity="0.8"/><circle cx="93.3" cy="301.9" r="0.45" fill="#3a6a7a" opacity="0.8"/><circle cx="97.6" cy="301.9" r="0.45" fill="#3a6a7a" opacity="0.8"/><circle cx="101.9" cy="301.9" r="0.45" fill="#3a6a7a" opacity="0.8"/><circle cx="106.2" cy="301.9" r="0.45" fill="#3a6a7a" opacity="0.8"/><circle cx="110.5" cy="301.9" r="0.45" fill="#3a6a7a" opacity="0.8"/><circle cx="89.0" cy="306.2" r="0.45" fill="#3a6a7a" opacity="0.8"/><circle cx="93.3" cy="306.2" r="0.45" fill="#3a6a7a" opacity="0.8"/><circle cx="97.6" cy="306.2" r="0.45" fill="#3a6a7a" opacity="0.8"/><circle cx="101.9" cy="306.2" r="0.45" fill="#3a6a7a" opacity="0.8"/><circle cx="106.2" cy="306.2" r="0.45" fill="#3a6a7a" opacity="0.8"/><circle cx="110.5" cy="306.2" r="0.45" fill="#3a6a7a" opacity="0.8"/><circle cx="89.0" cy="310.5" r="0.45" fill="#3a6a7a" opacity="0.8"/><circle cx="93.3" cy="310.5" r="0.45" fill="#3a6a7a" opacity="0.8"/><circle cx="97.6" cy="310.5" r="0.45" fill="#3a6a7a" opacity="0.8"/><circle cx="101.9" cy="310.5" r="0.45" fill="#3a6a7a" opacity="0.8"/><circle cx="106.2" cy="310.5" r="0.45" fill="#3a6a7a" opacity="0.8"/><circle cx="110.5" cy="310.5" r="0.45" fill="#3a6a7a" opacity="0.8"/><circle cx="99.7" cy="298.6" r="5" fill="url(#cwin)"/><circle cx="99.7" cy="298.6" r="1.4" fill="#fff07a"/><polygon points="58,244 81.8,268.2 70.2,290.2 44,285" fill="url(#cbeam)"/><ellipse cx="66.4" cy="277.9" rx="3.6" ry="7" fill="#8a64a8" opacity="0.7" transform="rotate(35 66.4 277.9)" filter="url(#cbl)"/><polygon points="49.5,238.2 70.5,249.6 47.7,291.6 26.7,280.2" fill="url(#carr)"/><line x1="50.1" y1="240.1" x2="64.6" y2="248.0" stroke="#b8b28e" stroke-width="1.0" opacity="0.9"/><line x1="49.5" y1="241.4" x2="59.7" y2="246.9" stroke="#3a4a48" stroke-width="0.7" opacity="0.8"/><line x1="48.8" y1="242.6" x2="63.2" y2="250.5" stroke="#b8b28e" stroke-width="1.0" opacity="0.9"/><line x1="48.1" y1="243.9" x2="58.4" y2="249.4" stroke="#3a4a48" stroke-width="0.7" opacity="0.8"/><line x1="47.5" y1="245.1" x2="61.9" y2="252.9" stroke="#b8b28e" stroke-width="1.0" opacity="0.9"/><line x1="46.8" y1="246.3" x2="57.0" y2="251.9" stroke="#3a4a48" stroke-width="0.7" opacity="0.8"/><line x1="46.1" y1="247.6" x2="60.6" y2="255.4" stroke="#b8b28e" stroke-width="1.0" opacity="0.9"/><line x1="45.4" y1="248.8" x2="55.7" y2="254.4" stroke="#3a4a48" stroke-width="0.7" opacity="0.8"/><line x1="44.8" y1="250.0" x2="59.2" y2="257.9" stroke="#b8b28e" stroke-width="1.0" opacity="0.9"/><line x1="44.1" y1="251.3" x2="54.3" y2="256.8" stroke="#3a4a48" stroke-width="0.7" opacity="0.8"/><line x1="43.4" y1="252.5" x2="57.9" y2="260.3" stroke="#b8b28e" stroke-width="1.0" opacity="0.9"/><line x1="42.8" y1="253.7" x2="53.0" y2="259.3" stroke="#3a4a48" stroke-width="0.7" opacity="0.8"/><line x1="42.1" y1="255.0" x2="56.5" y2="262.8" stroke="#b8b28e" stroke-width="1.0" opacity="0.9"/><line x1="41.4" y1="256.2" x2="51.7" y2="261.8" stroke="#3a4a48" stroke-width="0.7" opacity="0.8"/><line x1="40.8" y1="257.4" x2="55.2" y2="265.3" stroke="#b8b28e" stroke-width="1.0" opacity="0.9"/><line x1="40.1" y1="258.7" x2="50.3" y2="264.2" stroke="#3a4a48" stroke-width="0.7" opacity="0.8"/><line x1="39.4" y1="259.9" x2="53.9" y2="267.8" stroke="#b8b28e" stroke-width="1.0" opacity="0.9"/><line x1="38.7" y1="261.1" x2="49.0" y2="266.7" stroke="#3a4a48" stroke-width="0.7" opacity="0.8"/><line x1="38.1" y1="262.4" x2="52.5" y2="270.2" stroke="#b8b28e" stroke-width="1.0" opacity="0.9"/><line x1="37.4" y1="263.6" x2="47.6" y2="269.2" stroke="#3a4a48" stroke-width="0.7" opacity="0.8"/><line x1="36.7" y1="264.9" x2="51.2" y2="272.7" stroke="#b8b28e" stroke-width="1.0" opacity="0.9"/><line x1="36.1" y1="266.1" x2="46.3" y2="271.6" stroke="#3a4a48" stroke-width="0.7" opacity="0.8"/><line x1="35.4" y1="267.3" x2="49.8" y2="275.2" stroke="#b8b28e" stroke-width="1.0" opacity="0.9"/><line x1="34.7" y1="268.6" x2="45.0" y2="274.1" stroke="#3a4a48" stroke-width="0.7" opacity="0.8"/><line x1="34.0" y1="269.8" x2="48.5" y2="277.6" stroke="#b8b28e" stroke-width="1.0" opacity="0.9"/><line x1="33.4" y1="271.0" x2="43.6" y2="276.6" stroke="#3a4a48" stroke-width="0.7" opacity="0.8"/><line x1="32.7" y1="272.3" x2="47.1" y2="280.1" stroke="#b8b28e" stroke-width="1.0" opacity="0.9"/><line x1="32.0" y1="273.5" x2="42.3" y2="279.1" stroke="#3a4a48" stroke-width="0.7" opacity="0.8"/><line x1="31.4" y1="274.7" x2="45.8" y2="282.6" stroke="#b8b28e" stroke-width="1.0" opacity="0.9"/><line x1="30.7" y1="276.0" x2="40.9" y2="281.5" stroke="#3a4a48" stroke-width="0.7" opacity="0.8"/><line x1="30.0" y1="277.2" x2="44.5" y2="285.0" stroke="#b8b28e" stroke-width="1.0" opacity="0.9"/><line x1="29.4" y1="278.4" x2="39.6" y2="284.0" stroke="#3a4a48" stroke-width="0.7" opacity="0.8"/><line x1="28.7" y1="279.7" x2="43.1" y2="287.5" stroke="#b8b28e" stroke-width="1.0" opacity="0.9"/><line x1="28.0" y1="280.9" x2="38.2" y2="286.5" stroke="#3a4a48" stroke-width="0.7" opacity="0.8"/><line x1="49.5" y1="238.2" x2="26.7" y2="280.2" stroke="#1d3a42" stroke-width="2.4"/><line x1="48.9" y1="263.9" x2="76.3" y2="270.1" stroke="#000" stroke-width="1.3"/><polygon points="81.2,271.2 75.8,272.4 76.9,267.8" fill="#000"/><line x1="48.9" y1="263.9" x2="66.9" y2="286.6" stroke="#000" stroke-width="1.3"/><polygon points="70.0,290.5 65.0,288.1 68.8,285.1" fill="#000"/><circle cx="167.5" cy="279.6" r="6.3" fill="#1b2fe0"/><circle cx="167.5" cy="349.7" r="6.2" fill="#15b04e"/><text x="172.2" y="251.5" font-size="10" text-anchor="middle" fill="#0a0a0a" stroke="#0a0a0a" stroke-width="0.22" transform="rotate(-90 172.2 251.5)">5.1-mm</text><text x="172.2" y="328.6" font-size="10" text-anchor="middle" fill="#0a0a0a" stroke="#0a0a0a" stroke-width="0.22" transform="rotate(-90 172.2 328.6)">5-mm</text><text x="188.2" y="291.3" font-size="10" text-anchor="middle" fill="#0a0a0a" stroke="#0a0a0a" stroke-width="0.22" transform="rotate(-90 188.2 291.3)">Medial</text><text x="229.4" y="238.1" font-size="10" text-anchor="middle" fill="#0a0a0a" stroke="#0a0a0a" stroke-width="0.22">Rostral</text><path d="M199 247 C203 243 212 242 222 242.4 C240 243 256 253 268 266 C276 275 279.5 283 278.8 291 C277.5 302 268 312 252 322 C238 331 224 335.5 214 335 C203 334.5 196 329 194.5 318 C193 305 192.8 290 193.2 275 C193.6 260 195 251 199 247 Z" fill="none" stroke="#444" stroke-width="1.1"/><circle cx="219.9" cy="248.3" r="0.95" fill="#1f2ff0"/><circle cx="229.4" cy="248.3" r="0.95" fill="#1f2ff0"/><circle cx="200.5" cy="257.5" r="0.95" fill="#1f2ff0"/><circle cx="210.1" cy="257.5" r="0.95" fill="#1f2ff0"/><circle cx="219.9" cy="257.5" r="0.95" fill="#1f2ff0"/><circle cx="229.4" cy="257.5" r="0.95" fill="#1f2ff0"/><circle cx="239.3" cy="257.5" r="0.95" fill="#1f2ff0"/><circle cx="249.1" cy="257.5" r="0.95" fill="#1f2ff0"/><circle cx="200.5" cy="266.9" r="0.95" fill="#18b850"/><circle cx="210.1" cy="266.9" r="0.95" fill="#1f2ff0"/><circle cx="219.9" cy="266.9" r="0.95" fill="#1f2ff0"/><circle cx="229.4" cy="266.9" r="0.95" fill="#1f2ff0"/><circle cx="239.3" cy="266.9" r="0.95" fill="#1f2ff0"/><circle cx="249.1" cy="266.9" r="0.95" fill="#1f2ff0"/><circle cx="258.9" cy="266.9" r="0.95" fill="#1f2ff0"/><circle cx="200.5" cy="275.7" r="0.95" fill="#18b850"/><circle cx="210.1" cy="275.7" r="0.95" fill="#18b850"/><circle cx="219.9" cy="275.7" r="0.95" fill="#18b850"/><circle cx="229.4" cy="275.7" r="0.95" fill="#18b850"/><circle cx="239.3" cy="275.7" r="0.95" fill="#1f2ff0"/><circle cx="249.1" cy="275.7" r="0.95" fill="#1f2ff0"/><circle cx="258.9" cy="275.7" r="0.95" fill="#1f2ff0"/><circle cx="200.5" cy="285.1" r="0.95" fill="#18b850"/><circle cx="210.1" cy="285.1" r="0.95" fill="#18b850"/><circle cx="219.9" cy="285.1" r="0.95" fill="#18b850"/><circle cx="229.4" cy="285.1" r="0.95" fill="#18b850"/><circle cx="239.3" cy="285.1" r="0.95" fill="#18b850"/><circle cx="249.1" cy="285.1" r="0.95" fill="#18b850"/><circle cx="258.9" cy="285.1" r="0.95" fill="#18b850"/><circle cx="268.5" cy="285.1" r="0.95" fill="#18b850"/><circle cx="200.5" cy="294.2" r="0.95" fill="#18b850"/><circle cx="210.1" cy="294.2" r="0.95" fill="#18b850"/><circle cx="219.9" cy="294.2" r="0.95" fill="#18b850"/><circle cx="229.4" cy="294.2" r="0.95" fill="#18b850"/><circle cx="239.3" cy="294.2" r="0.95" fill="#18b850"/><circle cx="249.1" cy="294.2" r="0.95" fill="#18b850"/><circle cx="258.9" cy="294.2" r="0.95" fill="#18b850"/><circle cx="268.5" cy="294.2" r="0.95" fill="#18b850"/><circle cx="200.5" cy="303.4" r="0.95" fill="#18b850"/><circle cx="210.1" cy="303.4" r="0.95" fill="#18b850"/><circle cx="219.9" cy="303.4" r="0.95" fill="#18b850"/><circle cx="229.4" cy="303.4" r="0.95" fill="#18b850"/><circle cx="239.3" cy="303.4" r="0.95" fill="#18b850"/><circle cx="249.1" cy="303.4" r="0.95" fill="#18b850"/><circle cx="258.9" cy="303.4" r="0.95" fill="#18b850"/><circle cx="268.5" cy="303.4" r="0.95" fill="#18b850"/><circle cx="200.5" cy="312.4" r="0.95" fill="#18b850"/><circle cx="210.1" cy="312.4" r="0.95" fill="#18b850"/><circle cx="219.9" cy="312.4" r="0.95" fill="#18b850"/><circle cx="229.4" cy="312.4" r="0.95" fill="#18b850"/><circle cx="239.3" cy="312.4" r="0.95" fill="#18b850"/><circle cx="249.1" cy="312.4" r="0.95" fill="#18b850"/><circle cx="200.5" cy="321.3" r="0.95" fill="#18b850"/><circle cx="210.1" cy="321.3" r="0.95" fill="#18b850"/><circle cx="219.9" cy="321.3" r="0.95" fill="#18b850"/><circle cx="227.6" cy="260.6" r="6.4" fill="url(#cspot)"/><line x1="227.7" y1="266" x2="227.7" y2="303.5" stroke="#000" stroke-width="1.3"/><polygon points="223.3,302.6 232.1,302.6 227.7,310.8" fill="#000"/><path d="M200.2 333.7 V338.1 H268.8 V333.7 M234.5 338.1 V342" fill="none" stroke="#222" stroke-width="1.1"/><text x="240.4" y="353.6" font-size="10" text-anchor="middle" fill="#0a0a0a" stroke="#0a0a0a" stroke-width="0.22">2.45 mm</text>
<text x="295.4" y="236.4" font-size="12.5" text-anchor="start" font-weight="bold" fill="#0a0a0a">d</text><rect x="318.0" y="239.9" width="93.2" height="4.2" rx="0.8" fill="#7fcfcf"/><rect x="318.0" y="239.9" width="93.2" height="1.3" fill="#a8e2e2"/><rect x="321.5" y="244.1" width="86.2" height="3.3" fill="#5a5a48"/><rect x="323.26" y="244.6" width="1.76" height="1.9" fill="#f4f4f0"/><rect x="327.18" y="244.6" width="1.76" height="1.9" fill="#f4f4f0"/><rect x="331.10" y="244.6" width="1.76" height="1.9" fill="#f4f4f0"/><rect x="335.02" y="244.6" width="1.76" height="1.9" fill="#f4f4f0"/><rect x="338.94" y="244.6" width="1.76" height="1.9" fill="#f4f4f0"/><rect x="342.85" y="244.6" width="1.76" height="1.9" fill="#f4f4f0"/><rect x="346.77" y="244.6" width="1.76" height="1.9" fill="#f4f4f0"/><rect x="350.69" y="244.6" width="1.76" height="1.9" fill="#f4f4f0"/><rect x="354.61" y="244.6" width="1.76" height="1.9" fill="#f4f4f0"/><rect x="358.53" y="244.6" width="1.76" height="1.9" fill="#f4f4f0"/><rect x="362.44" y="244.6" width="1.76" height="1.9" fill="#f4f4f0"/><rect x="366.36" y="244.6" width="1.76" height="1.9" fill="#f4f4f0"/><rect x="370.28" y="244.6" width="1.76" height="1.9" fill="#f4f4f0"/><rect x="374.20" y="244.6" width="1.76" height="1.9" fill="#f4f4f0"/><rect x="378.12" y="244.6" width="1.76" height="1.9" fill="#f4f4f0"/><rect x="382.04" y="244.6" width="1.76" height="1.9" fill="#f4f4f0"/><rect x="385.95" y="244.6" width="1.76" height="1.9" fill="#f4f4f0"/><rect x="389.87" y="244.6" width="1.76" height="1.9" fill="#f4f4f0"/><rect x="393.79" y="244.6" width="1.76" height="1.9" fill="#f4f4f0"/><rect x="397.71" y="244.6" width="1.76" height="1.9" fill="#f4f4f0"/><rect x="401.63" y="244.6" width="1.76" height="1.9" fill="#f4f4f0"/><rect x="405.54" y="244.6" width="1.76" height="1.9" fill="#f4f4f0"/><polygon points="321.6,247.3 407.2,247.3 401.2,252.8 330.9,252.8" fill="#b79a3c"/><line x1="324.00" y1="247.5" x2="326.00" y2="252.6" stroke="#7d6420" stroke-width="0.7"/><line x1="327.69" y1="247.5" x2="329.51" y2="252.6" stroke="#7d6420" stroke-width="0.7"/><line x1="331.38" y1="247.5" x2="333.02" y2="252.6" stroke="#7d6420" stroke-width="0.7"/><line x1="335.07" y1="247.5" x2="336.53" y2="252.6" stroke="#7d6420" stroke-width="0.7"/><line x1="338.76" y1="247.5" x2="340.04" y2="252.6" stroke="#7d6420" stroke-width="0.7"/><line x1="342.45" y1="247.5" x2="343.55" y2="252.6" stroke="#7d6420" stroke-width="0.7"/><line x1="346.15" y1="247.5" x2="347.05" y2="252.6" stroke="#7d6420" stroke-width="0.7"/><line x1="349.84" y1="247.5" x2="350.56" y2="252.6" stroke="#7d6420" stroke-width="0.7"/><line x1="353.53" y1="247.5" x2="354.07" y2="252.6" stroke="#7d6420" stroke-width="0.7"/><line x1="357.22" y1="247.5" x2="357.58" y2="252.6" stroke="#7d6420" stroke-width="0.7"/><line x1="360.91" y1="247.5" x2="361.09" y2="252.6" stroke="#7d6420" stroke-width="0.7"/><line x1="364.60" y1="247.5" x2="364.60" y2="252.6" stroke="#7d6420" stroke-width="0.7"/><line x1="368.29" y1="247.5" x2="368.11" y2="252.6" stroke="#7d6420" stroke-width="0.7"/><line x1="371.98" y1="247.5" x2="371.62" y2="252.6" stroke="#7d6420" stroke-width="0.7"/><line x1="375.67" y1="247.5" x2="375.13" y2="252.6" stroke="#7d6420" stroke-width="0.7"/><line x1="379.36" y1="247.5" x2="378.64" y2="252.6" stroke="#7d6420" stroke-width="0.7"/><line x1="383.05" y1="247.5" x2="382.15" y2="252.6" stroke="#7d6420" stroke-width="0.7"/><line x1="386.75" y1="247.5" x2="385.65" y2="252.6" stroke="#7d6420" stroke-width="0.7"/><line x1="390.44" y1="247.5" x2="389.16" y2="252.6" stroke="#7d6420" stroke-width="0.7"/><line x1="394.13" y1="247.5" x2="392.67" y2="252.6" stroke="#7d6420" stroke-width="0.7"/><line x1="397.82" y1="247.5" x2="396.18" y2="252.6" stroke="#7d6420" stroke-width="0.7"/><line x1="401.51" y1="247.5" x2="399.69" y2="252.6" stroke="#7d6420" stroke-width="0.7"/><line x1="405.20" y1="247.5" x2="403.20" y2="252.6" stroke="#7d6420" stroke-width="0.7"/><line x1="322.0" y1="247.6" x2="406.7" y2="247.6" stroke="#d8c070" stroke-width="0.6"/><g clip-path="url(#dc1_0)"><rect x="315.2" y="253.0" width="99.6" height="99.6" fill="#030108"/><g filter="url(#dbl05)" stroke="#83206a" stroke-width="1.3" opacity="0.7"><line x1="397.0" y1="252.0" x2="524.2" y2="279.0"/><line x1="397.0" y1="252.0" x2="521.8" y2="288.3"/><line x1="397.0" y1="252.0" x2="518.8" y2="297.3"/><line x1="397.0" y1="252.0" x2="515.2" y2="306.1"/><line x1="397.0" y1="252.0" x2="510.9" y2="314.6"/><line x1="397.0" y1="252.0" x2="506.0" y2="322.8"/><line x1="397.0" y1="252.0" x2="500.5" y2="330.6"/><line x1="397.0" y1="252.0" x2="494.5" y2="338.0"/><line x1="397.0" y1="252.0" x2="488.0" y2="344.9"/><line x1="397.0" y1="252.0" x2="480.9" y2="351.3"/><line x1="397.0" y1="252.0" x2="473.4" y2="357.2"/><line x1="397.0" y1="252.0" x2="465.5" y2="362.5"/><line x1="397.0" y1="252.0" x2="457.2" y2="367.2"/><line x1="397.0" y1="252.0" x2="448.6" y2="371.3"/><line x1="397.0" y1="252.0" x2="439.8" y2="374.8"/><line x1="397.0" y1="252.0" x2="430.6" y2="377.6"/></g><ellipse cx="395" cy="256" rx="9" ry="5" fill="#cd4447" opacity="0.7" filter="url(#dbl2)"/><ellipse cx="397" cy="254" rx="3.5" ry="2" fill="#f9be28" filter="url(#dbl)"/><g filter="url(#dbl)"><polygon points="333.0,251.0 400.0,251.0 337.5,312.5 334.5,312.5" fill="#c03a82" opacity="0.92"/></g><g filter="url(#dbl)" stroke="#6a176e" stroke-width="3" opacity="0.9"><line x1="331.5" y1="251.0" x2="335.0" y2="312.5"/><line x1="401.5" y1="251.0" x2="337.0" y2="312.5"/></g><g filter="url(#dbl05)"><g stroke="#ef7020" stroke-width="1.30" opacity="0.28" fill="none"><line x1="336.0" y1="251.0" x2="336.0" y2="320.5"/><line x1="340.4" y1="251.0" x2="335.4" y2="320.5"/><line x1="344.7" y1="251.0" x2="334.8" y2="320.4"/><line x1="349.1" y1="251.0" x2="334.3" y2="320.3"/><line x1="353.4" y1="251.0" x2="333.8" y2="320.2"/><line x1="357.8" y1="251.0" x2="333.2" y2="320.0"/><line x1="362.1" y1="251.0" x2="332.8" y2="319.8"/><line x1="366.5" y1="251.0" x2="332.4" y2="319.6"/><line x1="370.9" y1="251.0" x2="332.0" y2="319.4"/><line x1="375.2" y1="251.0" x2="331.6" y2="319.2"/><line x1="379.6" y1="251.0" x2="331.3" y2="319.0"/><line x1="383.9" y1="251.0" x2="331.0" y2="318.7"/><line x1="388.3" y1="251.0" x2="330.7" y2="318.5"/><line x1="392.6" y1="251.0" x2="330.5" y2="318.3"/><line x1="397.0" y1="251.0" x2="330.3" y2="318.1"/></g></g><g filter="url(#dbl)" stroke="#f37819" stroke-width="2.2" opacity="0.9"><line x1="336.0" y1="251.0" x2="336.0" y2="312.5"/><line x1="397.0" y1="251.0" x2="336.0" y2="312.5"/></g><g filter="url(#dbl)"><polygon points="334.2,311.6 337.8,313.4 314.9,369.1 302.4,362.7" fill="#761c6c" opacity="0.75"/></g><g filter="url(#dbl)"><ellipse cx="328.7" cy="326.7" rx="2.3" ry="22" fill="#f58116" opacity="0.95" transform="rotate(27.1 328.7 326.7)"/><ellipse cx="332.8" cy="318.7" rx="1.3" ry="10" fill="#f8e362" transform="rotate(27.1 332.8 318.7)"/></g><ellipse cx="365.5" cy="294.5" rx="40.2" ry="36.5" fill="none" stroke="#c8c8cc" stroke-width="0.55" opacity="0.85"/><ellipse cx="365.5" cy="295.8" rx="39.2" ry="35.6" fill="none" stroke="#c8c8cc" stroke-width="0.55" opacity="0.85"/><ellipse cx="365.5" cy="292.5" rx="37.6" ry="24.5" fill="none" stroke="#c8c8cc" stroke-width="0.55" opacity="0.85"/><ellipse cx="365.5" cy="293.6" rx="36.6" ry="23.8" fill="none" stroke="#c8c8cc" stroke-width="0.55" opacity="0.85"/><line x1="396.8" y1="343.2" x2="407.2" y2="343.2" stroke="#fff" stroke-width="1.4"/></g><g clip-path="url(#dc2_0)"><rect x="315.2" y="360.0" width="99.6" height="97.4" fill="#435bf5"/><g filter="url(#dbl4)"><ellipse cx="359.8" cy="415.1" rx="8.7" ry="11.1" fill="#3087f3" opacity="0.8"/><ellipse cx="331.0" cy="441.3" rx="9.8" ry="10.8" fill="#3087f3" opacity="0.8"/><ellipse cx="320.5" cy="387.6" rx="9.2" ry="11.3" fill="#443ad0" opacity="0.8"/><ellipse cx="379.7" cy="418.9" rx="11.8" ry="9.9" fill="#3087f3" opacity="0.8"/><ellipse cx="377.7" cy="371.9" rx="11.0" ry="6.4" fill="#443ad0" opacity="0.8"/><ellipse cx="314.1" cy="449.5" rx="6.2" ry="8.8" fill="#4747eb" opacity="0.8"/><ellipse cx="358.5" cy="445.5" rx="7.4" ry="7.8" fill="#4747eb" opacity="0.8"/><ellipse cx="310.7" cy="364.1" rx="7.7" ry="12.0" fill="#3c73fd" opacity="0.8"/><ellipse cx="419.3" cy="445.2" rx="7.5" ry="10.5" fill="#3c73fd" opacity="0.8"/><ellipse cx="366.4" cy="358.2" rx="10.6" ry="8.4" fill="#4747eb" opacity="0.8"/><ellipse cx="403.0" cy="396.5" rx="11.1" ry="6.0" fill="#443ad0" opacity="0.8"/><ellipse cx="333.2" cy="452.8" rx="8.3" ry="10.3" fill="#3087f3" opacity="0.8"/><ellipse cx="356.2" cy="415.8" rx="10.7" ry="7.6" fill="#4640de" opacity="0.8"/><ellipse cx="319.8" cy="390.7" rx="10.5" ry="6.7" fill="#3087f3" opacity="0.8"/><ellipse cx="337.2" cy="365.9" rx="8.8" ry="8.9" fill="#443ad0" opacity="0.8"/><ellipse cx="385.0" cy="375.2" rx="7.1" ry="10.4" fill="#4747eb" opacity="0.8"/><ellipse cx="324.6" cy="424.1" rx="8.4" ry="11.9" fill="#443ad0" opacity="0.8"/><ellipse cx="310.3" cy="447.8" rx="7.8" ry="11.3" fill="#4747eb" opacity="0.8"/><ellipse cx="333.3" cy="397.3" rx="9.9" ry="6.6" fill="#4747eb" opacity="0.8"/><ellipse cx="418.6" cy="377.9" rx="6.1" ry="9.7" fill="#377bf9" opacity="0.8"/><ellipse cx="401.2" cy="396.5" rx="6.5" ry="9.5" fill="#443ad0" opacity="0.8"/><ellipse cx="336.8" cy="419.6" rx="9.7" ry="6.8" fill="#377bf9" opacity="0.8"/><ellipse cx="374.6" cy="444.4" rx="11.2" ry="7.1" fill="#4640de" opacity="0.8"/><ellipse cx="327.1" cy="452.6" rx="7.5" ry="7.1" fill="#4747eb" opacity="0.8"/><ellipse cx="391.2" cy="456.0" rx="10.1" ry="8.3" fill="#4640de" opacity="0.8"/><ellipse cx="363.1" cy="363.4" rx="6.6" ry="6.2" fill="#443ad0" opacity="0.8"/><ellipse cx="415.7" cy="380.6" rx="8.3" ry="8.5" fill="#3c73fd" opacity="0.8"/><ellipse cx="409.4" cy="407.7" rx="7.1" ry="10.3" fill="#4747eb" opacity="0.8"/><ellipse cx="317.7" cy="379.5" rx="9.9" ry="9.7" fill="#4747eb" opacity="0.8"/><ellipse cx="318.3" cy="377.8" rx="10.5" ry="6.4" fill="#4640de" opacity="0.8"/></g><ellipse cx="330.1" cy="409.4" rx="13.5" ry="12.8" fill="url(#dspot)"/><ellipse cx="417.5" cy="409.5" rx="12.0" ry="12.0" fill="url(#dspot)" opacity="0.7"/><line x1="395.7" y1="448" x2="408.2" y2="448" stroke="#fff" stroke-width="1.4"/></g><rect x="427.0" y="239.9" width="93.3" height="4.2" rx="0.8" fill="#7fcfcf"/><rect x="427.0" y="239.9" width="93.3" height="1.3" fill="#a8e2e2"/><rect x="430.5" y="244.1" width="86.3" height="3.3" fill="#5a5a48"/><rect x="432.27" y="244.6" width="1.77" height="1.9" fill="#f4f4f0"/><rect x="436.19" y="244.6" width="1.77" height="1.9" fill="#f4f4f0"/><rect x="440.11" y="244.6" width="1.77" height="1.9" fill="#f4f4f0"/><rect x="444.03" y="244.6" width="1.77" height="1.9" fill="#f4f4f0"/><rect x="447.96" y="244.6" width="1.77" height="1.9" fill="#f4f4f0"/><rect x="451.88" y="244.6" width="1.77" height="1.9" fill="#f4f4f0"/><rect x="455.80" y="244.6" width="1.77" height="1.9" fill="#f4f4f0"/><rect x="459.72" y="244.6" width="1.77" height="1.9" fill="#f4f4f0"/><rect x="463.65" y="244.6" width="1.77" height="1.9" fill="#f4f4f0"/><rect x="467.57" y="244.6" width="1.77" height="1.9" fill="#f4f4f0"/><rect x="471.49" y="244.6" width="1.77" height="1.9" fill="#f4f4f0"/><rect x="475.42" y="244.6" width="1.77" height="1.9" fill="#f4f4f0"/><rect x="479.34" y="244.6" width="1.77" height="1.9" fill="#f4f4f0"/><rect x="483.26" y="244.6" width="1.77" height="1.9" fill="#f4f4f0"/><rect x="487.18" y="244.6" width="1.77" height="1.9" fill="#f4f4f0"/><rect x="491.11" y="244.6" width="1.77" height="1.9" fill="#f4f4f0"/><rect x="495.03" y="244.6" width="1.77" height="1.9" fill="#f4f4f0"/><rect x="498.95" y="244.6" width="1.77" height="1.9" fill="#f4f4f0"/><rect x="502.87" y="244.6" width="1.77" height="1.9" fill="#f4f4f0"/><rect x="506.80" y="244.6" width="1.77" height="1.9" fill="#f4f4f0"/><rect x="510.72" y="244.6" width="1.77" height="1.9" fill="#f4f4f0"/><rect x="514.64" y="244.6" width="1.77" height="1.9" fill="#f4f4f0"/><polygon points="430.6,247.3 516.3,247.3 510.3,252.8 439.9,252.8" fill="#b79a3c"/><line x1="433.00" y1="247.5" x2="435.00" y2="252.6" stroke="#7d6420" stroke-width="0.7"/><line x1="436.70" y1="247.5" x2="438.51" y2="252.6" stroke="#7d6420" stroke-width="0.7"/><line x1="440.39" y1="247.5" x2="442.03" y2="252.6" stroke="#7d6420" stroke-width="0.7"/><line x1="444.09" y1="247.5" x2="445.54" y2="252.6" stroke="#7d6420" stroke-width="0.7"/><line x1="447.78" y1="247.5" x2="449.05" y2="252.6" stroke="#7d6420" stroke-width="0.7"/><line x1="451.48" y1="247.5" x2="452.57" y2="252.6" stroke="#7d6420" stroke-width="0.7"/><line x1="455.17" y1="247.5" x2="456.08" y2="252.6" stroke="#7d6420" stroke-width="0.7"/><line x1="458.87" y1="247.5" x2="459.60" y2="252.6" stroke="#7d6420" stroke-width="0.7"/><line x1="462.56" y1="247.5" x2="463.11" y2="252.6" stroke="#7d6420" stroke-width="0.7"/><line x1="466.26" y1="247.5" x2="466.62" y2="252.6" stroke="#7d6420" stroke-width="0.7"/><line x1="469.95" y1="247.5" x2="470.14" y2="252.6" stroke="#7d6420" stroke-width="0.7"/><line x1="473.65" y1="247.5" x2="473.65" y2="252.6" stroke="#7d6420" stroke-width="0.7"/><line x1="477.35" y1="247.5" x2="477.16" y2="252.6" stroke="#7d6420" stroke-width="0.7"/><line x1="481.04" y1="247.5" x2="480.68" y2="252.6" stroke="#7d6420" stroke-width="0.7"/><line x1="484.74" y1="247.5" x2="484.19" y2="252.6" stroke="#7d6420" stroke-width="0.7"/><line x1="488.43" y1="247.5" x2="487.70" y2="252.6" stroke="#7d6420" stroke-width="0.7"/><line x1="492.13" y1="247.5" x2="491.22" y2="252.6" stroke="#7d6420" stroke-width="0.7"/><line x1="495.82" y1="247.5" x2="494.73" y2="252.6" stroke="#7d6420" stroke-width="0.7"/><line x1="499.52" y1="247.5" x2="498.25" y2="252.6" stroke="#7d6420" stroke-width="0.7"/><line x1="503.21" y1="247.5" x2="501.76" y2="252.6" stroke="#7d6420" stroke-width="0.7"/><line x1="506.91" y1="247.5" x2="505.27" y2="252.6" stroke="#7d6420" stroke-width="0.7"/><line x1="510.60" y1="247.5" x2="508.79" y2="252.6" stroke="#7d6420" stroke-width="0.7"/><line x1="514.30" y1="247.5" x2="512.30" y2="252.6" stroke="#7d6420" stroke-width="0.7"/><line x1="431.0" y1="247.6" x2="515.8" y2="247.6" stroke="#d8c070" stroke-width="0.6"/><g clip-path="url(#dc1_1)"><rect x="422.0" y="253.0" width="99.6" height="99.6" fill="#030108"/><g filter="url(#dbl)"><polygon points="438.0,251.0 508.0,251.0 474.5,324.0 471.5,324.0" fill="#c03a82" opacity="0.92"/></g><g filter="url(#dbl)" stroke="#6a176e" stroke-width="3" opacity="0.9"><line x1="436.5" y1="251.0" x2="472.0" y2="324.0"/><line x1="509.5" y1="251.0" x2="474.0" y2="324.0"/></g><g filter="url(#dbl05)"><g stroke="#ef7020" stroke-width="1.30" opacity="0.28" fill="none"><line x1="441.0" y1="251.0" x2="476.3" y2="331.3"/><line x1="445.6" y1="251.0" x2="475.9" y2="331.5"/><line x1="450.1" y1="251.0" x2="475.5" y2="331.6"/><line x1="454.7" y1="251.0" x2="475.0" y2="331.7"/><line x1="459.3" y1="251.0" x2="474.5" y2="331.9"/><line x1="463.9" y1="251.0" x2="474.0" y2="331.9"/><line x1="468.4" y1="251.0" x2="473.5" y2="332.0"/><line x1="473.0" y1="251.0" x2="473.0" y2="332.0"/><line x1="477.6" y1="251.0" x2="472.5" y2="332.0"/><line x1="482.1" y1="251.0" x2="472.0" y2="331.9"/><line x1="486.7" y1="251.0" x2="471.5" y2="331.9"/><line x1="491.3" y1="251.0" x2="471.0" y2="331.7"/><line x1="495.9" y1="251.0" x2="470.5" y2="331.6"/><line x1="500.4" y1="251.0" x2="470.1" y2="331.5"/><line x1="505.0" y1="251.0" x2="469.7" y2="331.3"/></g></g><g filter="url(#dbl)" stroke="#f37819" stroke-width="2.2" opacity="0.9"><line x1="441.0" y1="251.0" x2="473.0" y2="324.0"/><line x1="505.0" y1="251.0" x2="473.0" y2="324.0"/></g><g filter="url(#dbl)"><polygon points="471.0,324.0 475.0,324.0 480.0,384.0 466.0,384.0" fill="#761c6c" opacity="0.75"/></g><g filter="url(#dbl)"><ellipse cx="473.0" cy="340.0" rx="2.3" ry="22" fill="#f58116" opacity="0.95" transform="rotate(0.0 473.0 340.0)"/><ellipse cx="473.0" cy="331.0" rx="1.3" ry="10" fill="#f8e362" transform="rotate(0.0 473.0 331.0)"/></g><ellipse cx="472.3" cy="294.5" rx="40.2" ry="36.5" fill="none" stroke="#c8c8cc" stroke-width="0.55" opacity="0.85"/><ellipse cx="472.3" cy="295.8" rx="39.2" ry="35.6" fill="none" stroke="#c8c8cc" stroke-width="0.55" opacity="0.85"/><ellipse cx="472.3" cy="292.5" rx="37.6" ry="24.5" fill="none" stroke="#c8c8cc" stroke-width="0.55" opacity="0.85"/><ellipse cx="472.3" cy="293.6" rx="36.6" ry="23.8" fill="none" stroke="#c8c8cc" stroke-width="0.55" opacity="0.85"/><line x1="503.6" y1="343.2" x2="514.0" y2="343.2" stroke="#fff" stroke-width="1.4"/></g><g clip-path="url(#dc2_1)"><rect x="422.0" y="360.0" width="99.6" height="97.4" fill="#435bf5"/><g filter="url(#dbl4)"><ellipse cx="469.0" cy="425.6" rx="8.1" ry="8.3" fill="#3c73fd" opacity="0.8"/><ellipse cx="526.2" cy="406.8" rx="10.9" ry="10.1" fill="#3c73fd" opacity="0.8"/><ellipse cx="482.9" cy="414.9" rx="9.7" ry="11.9" fill="#3c73fd" opacity="0.8"/><ellipse cx="457.3" cy="391.5" rx="6.4" ry="10.9" fill="#4640de" opacity="0.8"/><ellipse cx="425.2" cy="428.8" rx="10.1" ry="10.8" fill="#377bf9" opacity="0.8"/><ellipse cx="426.6" cy="453.7" rx="9.1" ry="6.5" fill="#3c73fd" opacity="0.8"/><ellipse cx="525.2" cy="456.7" rx="10.0" ry="11.8" fill="#443ad0" opacity="0.8"/><ellipse cx="476.1" cy="449.7" rx="7.0" ry="10.2" fill="#4747eb" opacity="0.8"/><ellipse cx="422.6" cy="373.4" rx="8.4" ry="8.5" fill="#443ad0" opacity="0.8"/><ellipse cx="482.3" cy="406.2" rx="9.2" ry="9.8" fill="#3087f3" opacity="0.8"/><ellipse cx="426.1" cy="375.6" rx="7.6" ry="11.6" fill="#3c73fd" opacity="0.8"/><ellipse cx="511.9" cy="396.4" rx="6.7" ry="7.4" fill="#377bf9" opacity="0.8"/><ellipse cx="456.8" cy="409.9" rx="7.1" ry="8.3" fill="#4747eb" opacity="0.8"/><ellipse cx="511.2" cy="358.5" rx="7.3" ry="8.6" fill="#443ad0" opacity="0.8"/><ellipse cx="459.6" cy="437.9" rx="10.5" ry="7.3" fill="#443ad0" opacity="0.8"/><ellipse cx="425.5" cy="384.4" rx="7.7" ry="8.1" fill="#3087f3" opacity="0.8"/><ellipse cx="486.8" cy="360.6" rx="8.2" ry="8.0" fill="#3087f3" opacity="0.8"/><ellipse cx="466.9" cy="429.9" rx="7.4" ry="11.9" fill="#3087f3" opacity="0.8"/><ellipse cx="467.9" cy="413.9" rx="7.1" ry="10.5" fill="#4640de" opacity="0.8"/><ellipse cx="517.0" cy="355.7" rx="11.5" ry="10.8" fill="#377bf9" opacity="0.8"/><ellipse cx="436.7" cy="440.4" rx="6.2" ry="9.7" fill="#4747eb" opacity="0.8"/><ellipse cx="524.8" cy="462.2" rx="6.9" ry="11.6" fill="#4747eb" opacity="0.8"/><ellipse cx="513.7" cy="426.8" rx="9.8" ry="7.4" fill="#377bf9" opacity="0.8"/><ellipse cx="474.8" cy="406.3" rx="8.1" ry="10.1" fill="#3c73fd" opacity="0.8"/><ellipse cx="465.8" cy="434.3" rx="7.7" ry="11.2" fill="#3087f3" opacity="0.8"/><ellipse cx="447.5" cy="456.4" rx="9.8" ry="8.7" fill="#4747eb" opacity="0.8"/><ellipse cx="503.8" cy="433.8" rx="7.5" ry="10.1" fill="#4747eb" opacity="0.8"/><ellipse cx="493.1" cy="369.1" rx="8.5" ry="7.4" fill="#377bf9" opacity="0.8"/><ellipse cx="464.7" cy="460.2" rx="9.4" ry="10.3" fill="#4747eb" opacity="0.8"/><ellipse cx="519.6" cy="382.7" rx="8.5" ry="9.5" fill="#443ad0" opacity="0.8"/></g><ellipse cx="473.1" cy="406.5" rx="15.0" ry="14.2" fill="url(#dspot)"/><line x1="502.5" y1="448" x2="515.0" y2="448" stroke="#fff" stroke-width="1.4"/></g><rect x="531.2" y="239.9" width="93.6" height="4.2" rx="0.8" fill="#7fcfcf"/><rect x="531.2" y="239.9" width="93.6" height="1.3" fill="#a8e2e2"/><rect x="534.7" y="244.1" width="86.6" height="3.3" fill="#5a5a48"/><rect x="536.47" y="244.6" width="1.77" height="1.9" fill="#f4f4f0"/><rect x="540.41" y="244.6" width="1.77" height="1.9" fill="#f4f4f0"/><rect x="544.34" y="244.6" width="1.77" height="1.9" fill="#f4f4f0"/><rect x="548.28" y="244.6" width="1.77" height="1.9" fill="#f4f4f0"/><rect x="552.22" y="244.6" width="1.77" height="1.9" fill="#f4f4f0"/><rect x="556.15" y="244.6" width="1.77" height="1.9" fill="#f4f4f0"/><rect x="560.09" y="244.6" width="1.77" height="1.9" fill="#f4f4f0"/><rect x="564.03" y="244.6" width="1.77" height="1.9" fill="#f4f4f0"/><rect x="567.96" y="244.6" width="1.77" height="1.9" fill="#f4f4f0"/><rect x="571.90" y="244.6" width="1.77" height="1.9" fill="#f4f4f0"/><rect x="575.83" y="244.6" width="1.77" height="1.9" fill="#f4f4f0"/><rect x="579.77" y="244.6" width="1.77" height="1.9" fill="#f4f4f0"/><rect x="583.71" y="244.6" width="1.77" height="1.9" fill="#f4f4f0"/><rect x="587.64" y="244.6" width="1.77" height="1.9" fill="#f4f4f0"/><rect x="591.58" y="244.6" width="1.77" height="1.9" fill="#f4f4f0"/><rect x="595.52" y="244.6" width="1.77" height="1.9" fill="#f4f4f0"/><rect x="599.45" y="244.6" width="1.77" height="1.9" fill="#f4f4f0"/><rect x="603.39" y="244.6" width="1.77" height="1.9" fill="#f4f4f0"/><rect x="607.33" y="244.6" width="1.77" height="1.9" fill="#f4f4f0"/><rect x="611.26" y="244.6" width="1.77" height="1.9" fill="#f4f4f0"/><rect x="615.20" y="244.6" width="1.77" height="1.9" fill="#f4f4f0"/><rect x="619.13" y="244.6" width="1.77" height="1.9" fill="#f4f4f0"/><polygon points="534.8,247.3 620.8,247.3 614.8,252.8 544.1,252.8" fill="#b79a3c"/><line x1="537.20" y1="247.5" x2="539.20" y2="252.6" stroke="#7d6420" stroke-width="0.7"/><line x1="540.91" y1="247.5" x2="542.73" y2="252.6" stroke="#7d6420" stroke-width="0.7"/><line x1="544.62" y1="247.5" x2="546.25" y2="252.6" stroke="#7d6420" stroke-width="0.7"/><line x1="548.33" y1="247.5" x2="549.78" y2="252.6" stroke="#7d6420" stroke-width="0.7"/><line x1="552.04" y1="247.5" x2="553.31" y2="252.6" stroke="#7d6420" stroke-width="0.7"/><line x1="555.75" y1="247.5" x2="556.84" y2="252.6" stroke="#7d6420" stroke-width="0.7"/><line x1="559.45" y1="247.5" x2="560.36" y2="252.6" stroke="#7d6420" stroke-width="0.7"/><line x1="563.16" y1="247.5" x2="563.89" y2="252.6" stroke="#7d6420" stroke-width="0.7"/><line x1="566.87" y1="247.5" x2="567.42" y2="252.6" stroke="#7d6420" stroke-width="0.7"/><line x1="570.58" y1="247.5" x2="570.95" y2="252.6" stroke="#7d6420" stroke-width="0.7"/><line x1="574.29" y1="247.5" x2="574.47" y2="252.6" stroke="#7d6420" stroke-width="0.7"/><line x1="578.00" y1="247.5" x2="578.00" y2="252.6" stroke="#7d6420" stroke-width="0.7"/><line x1="581.71" y1="247.5" x2="581.53" y2="252.6" stroke="#7d6420" stroke-width="0.7"/><line x1="585.42" y1="247.5" x2="585.05" y2="252.6" stroke="#7d6420" stroke-width="0.7"/><line x1="589.13" y1="247.5" x2="588.58" y2="252.6" stroke="#7d6420" stroke-width="0.7"/><line x1="592.84" y1="247.5" x2="592.11" y2="252.6" stroke="#7d6420" stroke-width="0.7"/><line x1="596.55" y1="247.5" x2="595.64" y2="252.6" stroke="#7d6420" stroke-width="0.7"/><line x1="600.25" y1="247.5" x2="599.16" y2="252.6" stroke="#7d6420" stroke-width="0.7"/><line x1="603.96" y1="247.5" x2="602.69" y2="252.6" stroke="#7d6420" stroke-width="0.7"/><line x1="607.67" y1="247.5" x2="606.22" y2="252.6" stroke="#7d6420" stroke-width="0.7"/><line x1="611.38" y1="247.5" x2="609.75" y2="252.6" stroke="#7d6420" stroke-width="0.7"/><line x1="615.09" y1="247.5" x2="613.27" y2="252.6" stroke="#7d6420" stroke-width="0.7"/><line x1="618.80" y1="247.5" x2="616.80" y2="252.6" stroke="#7d6420" stroke-width="0.7"/><line x1="535.2" y1="247.6" x2="620.3" y2="247.6" stroke="#d8c070" stroke-width="0.6"/><g clip-path="url(#dc1_2)"><rect x="527.8" y="253.0" width="99.6" height="99.6" fill="#030108"/><g filter="url(#dbl05)" stroke="#872269" stroke-width="1.4" opacity="0.85"><line x1="548.0" y1="252.0" x2="419.3" y2="270.1"/><line x1="548.0" y1="252.0" x2="420.8" y2="279.0"/><line x1="548.0" y1="252.0" x2="423.0" y2="287.8"/><line x1="548.0" y1="252.0" x2="425.8" y2="296.5"/><line x1="548.0" y1="252.0" x2="429.2" y2="304.9"/><line x1="548.0" y1="252.0" x2="433.2" y2="313.0"/><line x1="548.0" y1="252.0" x2="437.8" y2="320.9"/><line x1="548.0" y1="252.0" x2="442.8" y2="328.4"/><line x1="548.0" y1="252.0" x2="448.4" y2="335.6"/><line x1="548.0" y1="252.0" x2="454.5" y2="342.3"/><line x1="548.0" y1="252.0" x2="461.0" y2="348.6"/><line x1="548.0" y1="252.0" x2="468.0" y2="354.4"/><line x1="548.0" y1="252.0" x2="475.3" y2="359.8"/><line x1="548.0" y1="252.0" x2="483.0" y2="364.6"/><line x1="548.0" y1="252.0" x2="491.0" y2="368.8"/><line x1="548.0" y1="252.0" x2="499.3" y2="372.5"/><line x1="548.0" y1="252.0" x2="507.8" y2="375.6"/><line x1="548.0" y1="252.0" x2="516.6" y2="378.1"/></g><polygon points="528,253 560,253 575,300 528,300" fill="#6a176e" opacity="0.35" filter="url(#dbl4)"/><g filter="url(#dbl)"><polygon points="545.0,251.0 610.0,251.0 595.5,322.5 592.5,322.5" fill="#c03a82" opacity="0.92"/></g><g filter="url(#dbl)" stroke="#6a176e" stroke-width="3" opacity="0.9"><line x1="543.5" y1="251.0" x2="593.0" y2="322.5"/><line x1="611.5" y1="251.0" x2="595.0" y2="322.5"/></g><g filter="url(#dbl05)"><g stroke="#ef7020" stroke-width="1.30" opacity="0.28" fill="none"><line x1="548.0" y1="251.0" x2="598.4" y2="329.2"/><line x1="552.2" y1="251.0" x2="598.1" y2="329.4"/><line x1="556.4" y1="251.0" x2="597.8" y2="329.5"/><line x1="560.6" y1="251.0" x2="597.5" y2="329.7"/><line x1="564.9" y1="251.0" x2="597.1" y2="329.9"/><line x1="569.1" y1="251.0" x2="596.7" y2="330.0"/><line x1="573.3" y1="251.0" x2="596.3" y2="330.2"/><line x1="577.5" y1="251.0" x2="595.8" y2="330.3"/><line x1="581.7" y1="251.0" x2="595.4" y2="330.4"/><line x1="585.9" y1="251.0" x2="594.9" y2="330.4"/><line x1="590.1" y1="251.0" x2="594.4" y2="330.5"/><line x1="594.4" y1="251.0" x2="594.0" y2="330.5"/><line x1="598.6" y1="251.0" x2="593.5" y2="330.5"/><line x1="602.8" y1="251.0" x2="593.0" y2="330.4"/><line x1="607.0" y1="251.0" x2="592.5" y2="330.4"/></g></g><g filter="url(#dbl)" stroke="#f37819" stroke-width="2.2" opacity="0.9"><line x1="548.0" y1="251.0" x2="594.0" y2="322.5"/><line x1="607.0" y1="251.0" x2="594.0" y2="322.5"/></g><g filter="url(#dbl)"><polygon points="592.1,323.0 595.9,322.0 614.7,379.3 601.0,382.5" fill="#761c6c" opacity="0.75"/></g><g filter="url(#dbl)"><ellipse cx="597.7" cy="338.1" rx="2.3" ry="22" fill="#f58116" opacity="0.95" transform="rotate(-13.4 597.7 338.1)"/><ellipse cx="595.6" cy="329.3" rx="1.3" ry="10" fill="#f8e362" transform="rotate(-13.4 595.6 329.3)"/></g><ellipse cx="578.1" cy="294.5" rx="40.2" ry="36.5" fill="none" stroke="#c8c8cc" stroke-width="0.55" opacity="0.85"/><ellipse cx="578.1" cy="295.8" rx="39.2" ry="35.6" fill="none" stroke="#c8c8cc" stroke-width="0.55" opacity="0.85"/><ellipse cx="578.1" cy="292.5" rx="37.6" ry="24.5" fill="none" stroke="#c8c8cc" stroke-width="0.55" opacity="0.85"/><ellipse cx="578.1" cy="293.6" rx="36.6" ry="23.8" fill="none" stroke="#c8c8cc" stroke-width="0.55" opacity="0.85"/><line x1="609.4" y1="343.2" x2="619.8" y2="343.2" stroke="#fff" stroke-width="1.4"/></g><g clip-path="url(#dc2_2)"><rect x="527.8" y="360.0" width="99.6" height="97.4" fill="#435bf5"/><g filter="url(#dbl4)"><ellipse cx="551.2" cy="428.6" rx="10.8" ry="11.3" fill="#3c73fd" opacity="0.8"/><ellipse cx="594.3" cy="426.5" rx="9.8" ry="7.1" fill="#4640de" opacity="0.8"/><ellipse cx="530.6" cy="445.8" rx="7.8" ry="8.6" fill="#3c73fd" opacity="0.8"/><ellipse cx="614.6" cy="420.3" rx="12.0" ry="11.0" fill="#443ad0" opacity="0.8"/><ellipse cx="532.1" cy="440.3" rx="11.0" ry="10.5" fill="#377bf9" opacity="0.8"/><ellipse cx="626.8" cy="440.3" rx="8.1" ry="7.4" fill="#377bf9" opacity="0.8"/><ellipse cx="621.2" cy="414.0" rx="10.0" ry="11.3" fill="#3087f3" opacity="0.8"/><ellipse cx="592.8" cy="425.4" rx="10.9" ry="10.8" fill="#377bf9" opacity="0.8"/><ellipse cx="630.8" cy="429.2" rx="9.7" ry="11.9" fill="#4747eb" opacity="0.8"/><ellipse cx="571.1" cy="433.3" rx="7.1" ry="7.2" fill="#4747eb" opacity="0.8"/><ellipse cx="580.1" cy="382.2" rx="7.6" ry="7.7" fill="#3087f3" opacity="0.8"/><ellipse cx="620.3" cy="417.0" rx="7.4" ry="7.4" fill="#4747eb" opacity="0.8"/><ellipse cx="544.1" cy="394.4" rx="8.6" ry="9.8" fill="#443ad0" opacity="0.8"/><ellipse cx="573.6" cy="355.2" rx="11.6" ry="6.3" fill="#3087f3" opacity="0.8"/><ellipse cx="538.3" cy="441.6" rx="9.8" ry="7.0" fill="#3087f3" opacity="0.8"/><ellipse cx="568.1" cy="448.2" rx="7.2" ry="11.1" fill="#377bf9" opacity="0.8"/><ellipse cx="563.9" cy="432.0" rx="11.4" ry="10.2" fill="#4640de" opacity="0.8"/><ellipse cx="548.8" cy="408.3" rx="6.3" ry="10.2" fill="#4747eb" opacity="0.8"/><ellipse cx="527.0" cy="417.6" rx="8.0" ry="7.8" fill="#4747eb" opacity="0.8"/><ellipse cx="540.8" cy="428.5" rx="11.4" ry="7.0" fill="#443ad0" opacity="0.8"/><ellipse cx="569.8" cy="418.9" rx="10.2" ry="11.8" fill="#4747eb" opacity="0.8"/><ellipse cx="613.3" cy="424.3" rx="6.0" ry="12.0" fill="#4747eb" opacity="0.8"/><ellipse cx="536.1" cy="387.4" rx="9.4" ry="10.2" fill="#377bf9" opacity="0.8"/><ellipse cx="625.6" cy="411.1" rx="6.0" ry="8.0" fill="#443ad0" opacity="0.8"/><ellipse cx="577.2" cy="459.2" rx="10.9" ry="7.3" fill="#4747eb" opacity="0.8"/><ellipse cx="545.5" cy="440.8" rx="9.0" ry="11.5" fill="#3087f3" opacity="0.8"/><ellipse cx="603.7" cy="382.7" rx="10.9" ry="7.3" fill="#3c73fd" opacity="0.8"/><ellipse cx="569.4" cy="380.3" rx="9.6" ry="8.6" fill="#4640de" opacity="0.8"/><ellipse cx="593.0" cy="400.7" rx="8.4" ry="6.5" fill="#377bf9" opacity="0.8"/><ellipse cx="605.9" cy="419.4" rx="9.9" ry="7.8" fill="#443ad0" opacity="0.8"/></g><ellipse cx="596.0" cy="407.8" rx="13.5" ry="12.8" fill="url(#dspot)"/><line x1="608.3" y1="448" x2="620.8" y2="448" stroke="#fff" stroke-width="1.4"/></g><rect x="634" y="259.9" width="8.6" height="89" fill="url(#binf)"/><text x="638.3" y="255.8" font-size="10" text-anchor="middle" fill="#0a0a0a" stroke="#0a0a0a" stroke-width="0.22">1</text><text x="638.3" y="358.3" font-size="10" text-anchor="middle" fill="#0a0a0a" stroke="#0a0a0a" stroke-width="0.22">0</text><rect x="634" y="377.7" width="8.6" height="72.1" fill="url(#bpar)"/><text x="638.3" y="371.1" font-size="10" text-anchor="middle" fill="#0a0a0a" stroke="#0a0a0a" stroke-width="0.22">1</text><text x="638.3" y="464" font-size="10" text-anchor="middle" fill="#0a0a0a" stroke="#0a0a0a" stroke-width="0.22">0</text><text x="663" y="304" font-size="10" text-anchor="middle" fill="#0a0a0a" stroke="#0a0a0a" stroke-width="0.22" transform="rotate(90 663 304)">Normalized</text><text x="651" y="304" font-size="10" text-anchor="middle" fill="#0a0a0a" stroke="#0a0a0a" stroke-width="0.22" transform="rotate(90 651 304)">simulated pressure</text><text x="663" y="406.6" font-size="10" text-anchor="middle" fill="#0a0a0a" stroke="#0a0a0a" stroke-width="0.22" transform="rotate(90 663 406.6)">Normalized</text><text x="651" y="406.6" font-size="10" text-anchor="middle" fill="#0a0a0a" stroke="#0a0a0a" stroke-width="0.22" transform="rotate(90 651 406.6)">measured pressure</text>
<text x="5" y="362.8" font-size="12.5" text-anchor="start" font-weight="bold" fill="#0a0a0a">e</text><g clip-path="url(#ec_0)"><rect x="12.9" y="368.0" width="88.2" height="86.6" fill="#0c2337"/><g filter="url(#ebl4)"><ellipse cx="68.5" cy="431.1" rx="7.2" ry="11.6" fill="#1c3a64" opacity="0.55"/><ellipse cx="77.1" cy="444.0" rx="4.1" ry="8.3" fill="#1c3a64" opacity="0.55"/><ellipse cx="92.0" cy="424.5" rx="7.6" ry="5.8" fill="#1c3a64" opacity="0.55"/><ellipse cx="57.2" cy="395.7" rx="6.2" ry="9.0" fill="#1c3a64" opacity="0.55"/><ellipse cx="23.9" cy="393.5" rx="5.1" ry="11.4" fill="#1c3a64" opacity="0.55"/><ellipse cx="79.0" cy="389.4" rx="7.2" ry="6.0" fill="#1c3a64" opacity="0.55"/></g><g filter="url(#ebl)"><rect x="29.5" y="369.0" width="30.0" height="19.0" rx="5" fill="#5a3c9d"/><rect x="33.2" y="371.4" width="22.5" height="14.2" rx="4" fill="#e87a55"/><rect x="38.1" y="374.4" width="12.8" height="8.2" rx="3" fill="#f0f055"/></g><circle cx="41.1" cy="373.4" r="1.15" fill="#2335ee"/><circle cx="52.3" cy="373.4" r="1.15" fill="#2335ee"/><circle cx="18.7" cy="383.2" r="1.15" fill="#2335ee"/><circle cx="29.9" cy="383.2" r="1.15" fill="#2335ee"/><circle cx="41.1" cy="383.2" r="1.15" fill="#2335ee"/><circle cx="52.3" cy="383.2" r="1.15" fill="#2335ee"/><circle cx="63.5" cy="383.2" r="1.15" fill="#2335ee"/><circle cx="74.7" cy="383.2" r="1.15" fill="#2335ee"/><circle cx="18.7" cy="393.0" r="1.15" fill="#1fbf5c"/><circle cx="29.9" cy="393.0" r="1.15" fill="#2335ee"/><circle cx="41.1" cy="393.0" r="1.15" fill="#2335ee"/><circle cx="52.3" cy="393.0" r="1.15" fill="#2335ee"/><circle cx="63.5" cy="393.0" r="1.15" fill="#2335ee"/><circle cx="74.7" cy="393.0" r="1.15" fill="#2335ee"/><circle cx="85.9" cy="393.0" r="1.15" fill="#2335ee"/><circle cx="18.7" cy="402.4" r="1.15" fill="#1fbf5c"/><circle cx="29.9" cy="402.4" r="1.15" fill="#1fbf5c"/><circle cx="41.1" cy="402.4" r="1.15" fill="#1fbf5c"/><circle cx="52.3" cy="402.4" r="1.15" fill="#1fbf5c"/><circle cx="63.5" cy="402.4" r="1.15" fill="#2335ee"/><circle cx="74.7" cy="402.4" r="1.15" fill="#2335ee"/><circle cx="85.9" cy="402.4" r="1.15" fill="#2335ee"/><circle cx="18.7" cy="411.9" r="1.15" fill="#1fbf5c"/><circle cx="29.9" cy="411.9" r="1.15" fill="#1fbf5c"/><circle cx="41.1" cy="411.9" r="1.15" fill="#1fbf5c"/><circle cx="52.3" cy="411.9" r="1.15" fill="#1fbf5c"/><circle cx="63.5" cy="411.9" r="1.15" fill="#1fbf5c"/><circle cx="74.7" cy="411.9" r="1.15" fill="#1fbf5c"/><circle cx="85.9" cy="411.9" r="1.15" fill="#1fbf5c"/><circle cx="97.1" cy="411.9" r="1.15" fill="#1fbf5c"/><circle cx="18.7" cy="421.5" r="1.15" fill="#1fbf5c"/><circle cx="29.9" cy="421.5" r="1.15" fill="#1fbf5c"/><circle cx="41.1" cy="421.5" r="1.15" fill="#1fbf5c"/><circle cx="52.3" cy="421.5" r="1.15" fill="#1fbf5c"/><circle cx="63.5" cy="421.5" r="1.15" fill="#1fbf5c"/><circle cx="74.7" cy="421.5" r="1.15" fill="#1fbf5c"/><circle cx="85.9" cy="421.5" r="1.15" fill="#1fbf5c"/><circle cx="97.1" cy="421.5" r="1.15" fill="#1fbf5c"/><circle cx="18.7" cy="431.1" r="1.15" fill="#1fbf5c"/><circle cx="29.9" cy="431.1" r="1.15" fill="#1fbf5c"/><circle cx="41.1" cy="431.1" r="1.15" fill="#1fbf5c"/><circle cx="52.3" cy="431.1" r="1.15" fill="#1fbf5c"/><circle cx="63.5" cy="431.1" r="1.15" fill="#1fbf5c"/><circle cx="74.7" cy="431.1" r="1.15" fill="#1fbf5c"/><circle cx="85.9" cy="431.1" r="1.15" fill="#1fbf5c"/><circle cx="97.1" cy="431.1" r="1.15" fill="#1fbf5c"/><circle cx="18.7" cy="440.7" r="1.15" fill="#1fbf5c"/><circle cx="29.9" cy="440.7" r="1.15" fill="#1fbf5c"/><circle cx="41.1" cy="440.7" r="1.15" fill="#1fbf5c"/><circle cx="52.3" cy="440.7" r="1.15" fill="#1fbf5c"/><circle cx="63.5" cy="440.7" r="1.15" fill="#1fbf5c"/><circle cx="74.7" cy="440.7" r="1.15" fill="#1fbf5c"/><circle cx="18.7" cy="450.0" r="1.15" fill="#1fbf5c"/><circle cx="29.9" cy="450.0" r="1.15" fill="#1fbf5c"/><circle cx="41.1" cy="450.0" r="1.15" fill="#1fbf5c"/></g><g clip-path="url(#ec_1)"><rect x="104.2" y="368.0" width="88.2" height="86.6" fill="#0c2337"/><g filter="url(#ebl4)"><ellipse cx="159.4" cy="387.1" rx="4.0" ry="11.1" fill="#1c3a64" opacity="0.55"/><ellipse cx="129.5" cy="393.4" rx="7.9" ry="11.1" fill="#1c3a64" opacity="0.55"/><ellipse cx="135.4" cy="446.8" rx="6.2" ry="9.7" fill="#1c3a64" opacity="0.55"/><ellipse cx="129.2" cy="445.4" rx="6.8" ry="11.8" fill="#1c3a64" opacity="0.55"/><ellipse cx="179.6" cy="399.4" rx="5.4" ry="6.2" fill="#1c3a64" opacity="0.55"/><ellipse cx="124.9" cy="382.7" rx="5.2" ry="9.2" fill="#1c3a64" opacity="0.55"/></g><g filter="url(#ebl)"><rect x="139.3" y="406.8" width="18.0" height="22.0" rx="5" fill="#5a3c9d"/><rect x="141.6" y="409.6" width="13.5" height="16.5" rx="4" fill="#e87a55"/><rect x="144.7" y="413.4" width="7.1" height="8.8" rx="3" fill="#f0f055"/></g><circle cx="132.4" cy="373.4" r="1.15" fill="#2335ee"/><circle cx="143.6" cy="373.4" r="1.15" fill="#2335ee"/><circle cx="110.0" cy="383.2" r="1.15" fill="#2335ee"/><circle cx="121.2" cy="383.2" r="1.15" fill="#2335ee"/><circle cx="132.4" cy="383.2" r="1.15" fill="#2335ee"/><circle cx="143.6" cy="383.2" r="1.15" fill="#2335ee"/><circle cx="154.8" cy="383.2" r="1.15" fill="#2335ee"/><circle cx="166.0" cy="383.2" r="1.15" fill="#2335ee"/><circle cx="110.0" cy="393.0" r="1.15" fill="#1fbf5c"/><circle cx="121.2" cy="393.0" r="1.15" fill="#2335ee"/><circle cx="132.4" cy="393.0" r="1.15" fill="#2335ee"/><circle cx="143.6" cy="393.0" r="1.15" fill="#2335ee"/><circle cx="154.8" cy="393.0" r="1.15" fill="#2335ee"/><circle cx="166.0" cy="393.0" r="1.15" fill="#2335ee"/><circle cx="177.2" cy="393.0" r="1.15" fill="#2335ee"/><circle cx="110.0" cy="402.4" r="1.15" fill="#1fbf5c"/><circle cx="121.2" cy="402.4" r="1.15" fill="#1fbf5c"/><circle cx="132.4" cy="402.4" r="1.15" fill="#1fbf5c"/><circle cx="143.6" cy="402.4" r="1.15" fill="#1fbf5c"/><circle cx="154.8" cy="402.4" r="1.15" fill="#2335ee"/><circle cx="166.0" cy="402.4" r="1.15" fill="#2335ee"/><circle cx="177.2" cy="402.4" r="1.15" fill="#2335ee"/><circle cx="110.0" cy="411.9" r="1.15" fill="#1fbf5c"/><circle cx="121.2" cy="411.9" r="1.15" fill="#1fbf5c"/><circle cx="132.4" cy="411.9" r="1.15" fill="#1fbf5c"/><circle cx="143.6" cy="411.9" r="1.15" fill="#1fbf5c"/><circle cx="154.8" cy="411.9" r="1.15" fill="#1fbf5c"/><circle cx="166.0" cy="411.9" r="1.15" fill="#1fbf5c"/><circle cx="177.2" cy="411.9" r="1.15" fill="#1fbf5c"/><circle cx="188.4" cy="411.9" r="1.15" fill="#1fbf5c"/><circle cx="110.0" cy="421.5" r="1.15" fill="#1fbf5c"/><circle cx="121.2" cy="421.5" r="1.15" fill="#1fbf5c"/><circle cx="132.4" cy="421.5" r="1.15" fill="#1fbf5c"/><circle cx="143.6" cy="421.5" r="1.15" fill="#1fbf5c"/><circle cx="154.8" cy="421.5" r="1.15" fill="#1fbf5c"/><circle cx="166.0" cy="421.5" r="1.15" fill="#1fbf5c"/><circle cx="177.2" cy="421.5" r="1.15" fill="#1fbf5c"/><circle cx="188.4" cy="421.5" r="1.15" fill="#1fbf5c"/><circle cx="110.0" cy="431.1" r="1.15" fill="#1fbf5c"/><circle cx="121.2" cy="431.1" r="1.15" fill="#1fbf5c"/><circle cx="132.4" cy="431.1" r="1.15" fill="#1fbf5c"/><circle cx="143.6" cy="431.1" r="1.15" fill="#1fbf5c"/><circle cx="154.8" cy="431.1" r="1.15" fill="#1fbf5c"/><circle cx="166.0" cy="431.1" r="1.15" fill="#1fbf5c"/><circle cx="177.2" cy="431.1" r="1.15" fill="#1fbf5c"/><circle cx="188.4" cy="431.1" r="1.15" fill="#1fbf5c"/><circle cx="110.0" cy="440.7" r="1.15" fill="#1fbf5c"/><circle cx="121.2" cy="440.7" r="1.15" fill="#1fbf5c"/><circle cx="132.4" cy="440.7" r="1.15" fill="#1fbf5c"/><circle cx="143.6" cy="440.7" r="1.15" fill="#1fbf5c"/><circle cx="154.8" cy="440.7" r="1.15" fill="#1fbf5c"/><circle cx="166.0" cy="440.7" r="1.15" fill="#1fbf5c"/><circle cx="110.0" cy="450.0" r="1.15" fill="#1fbf5c"/><circle cx="121.2" cy="450.0" r="1.15" fill="#1fbf5c"/><circle cx="132.4" cy="450.0" r="1.15" fill="#1fbf5c"/></g><g clip-path="url(#ec_2)"><rect x="195.2" y="368.0" width="88.2" height="86.6" fill="#0c2337"/><g filter="url(#ebl4)"><ellipse cx="205.4" cy="426.5" rx="5.4" ry="7.2" fill="#1c3a64" opacity="0.55"/><ellipse cx="265.1" cy="412.4" rx="5.3" ry="8.4" fill="#1c3a64" opacity="0.55"/><ellipse cx="256.8" cy="382.1" rx="7.9" ry="5.2" fill="#1c3a64" opacity="0.55"/><ellipse cx="260.1" cy="438.5" rx="4.1" ry="10.5" fill="#1c3a64" opacity="0.55"/><ellipse cx="232.0" cy="419.4" rx="4.0" ry="5.3" fill="#1c3a64" opacity="0.55"/><ellipse cx="218.4" cy="446.4" rx="4.8" ry="10.3" fill="#1c3a64" opacity="0.55"/></g><g filter="url(#ebl)"><rect x="226.3" y="423.3" width="23.0" height="19.0" rx="5" fill="#5a3c9d"/><rect x="229.2" y="425.7" width="17.2" height="14.2" rx="4" fill="#e87a55"/><rect x="232.5" y="428.9" width="10.5" height="7.8" rx="3" fill="#f0f055"/></g><circle cx="223.4" cy="373.4" r="1.15" fill="#2335ee"/><circle cx="234.6" cy="373.4" r="1.15" fill="#2335ee"/><circle cx="201.0" cy="383.2" r="1.15" fill="#2335ee"/><circle cx="212.2" cy="383.2" r="1.15" fill="#2335ee"/><circle cx="223.4" cy="383.2" r="1.15" fill="#2335ee"/><circle cx="234.6" cy="383.2" r="1.15" fill="#2335ee"/><circle cx="245.8" cy="383.2" r="1.15" fill="#2335ee"/><circle cx="257.0" cy="383.2" r="1.15" fill="#2335ee"/><circle cx="201.0" cy="393.0" r="1.15" fill="#1fbf5c"/><circle cx="212.2" cy="393.0" r="1.15" fill="#2335ee"/><circle cx="223.4" cy="393.0" r="1.15" fill="#2335ee"/><circle cx="234.6" cy="393.0" r="1.15" fill="#2335ee"/><circle cx="245.8" cy="393.0" r="1.15" fill="#2335ee"/><circle cx="257.0" cy="393.0" r="1.15" fill="#2335ee"/><circle cx="268.2" cy="393.0" r="1.15" fill="#2335ee"/><circle cx="201.0" cy="402.4" r="1.15" fill="#1fbf5c"/><circle cx="212.2" cy="402.4" r="1.15" fill="#1fbf5c"/><circle cx="223.4" cy="402.4" r="1.15" fill="#1fbf5c"/><circle cx="234.6" cy="402.4" r="1.15" fill="#1fbf5c"/><circle cx="245.8" cy="402.4" r="1.15" fill="#2335ee"/><circle cx="257.0" cy="402.4" r="1.15" fill="#2335ee"/><circle cx="268.2" cy="402.4" r="1.15" fill="#2335ee"/><circle cx="201.0" cy="411.9" r="1.15" fill="#1fbf5c"/><circle cx="212.2" cy="411.9" r="1.15" fill="#1fbf5c"/><circle cx="223.4" cy="411.9" r="1.15" fill="#1fbf5c"/><circle cx="234.6" cy="411.9" r="1.15" fill="#1fbf5c"/><circle cx="245.8" cy="411.9" r="1.15" fill="#1fbf5c"/><circle cx="257.0" cy="411.9" r="1.15" fill="#1fbf5c"/><circle cx="268.2" cy="411.9" r="1.15" fill="#1fbf5c"/><circle cx="279.4" cy="411.9" r="1.15" fill="#1fbf5c"/><circle cx="201.0" cy="421.5" r="1.15" fill="#1fbf5c"/><circle cx="212.2" cy="421.5" r="1.15" fill="#1fbf5c"/><circle cx="223.4" cy="421.5" r="1.15" fill="#1fbf5c"/><circle cx="234.6" cy="421.5" r="1.15" fill="#1fbf5c"/><circle cx="245.8" cy="421.5" r="1.15" fill="#1fbf5c"/><circle cx="257.0" cy="421.5" r="1.15" fill="#1fbf5c"/><circle cx="268.2" cy="421.5" r="1.15" fill="#1fbf5c"/><circle cx="279.4" cy="421.5" r="1.15" fill="#1fbf5c"/><circle cx="201.0" cy="431.1" r="1.15" fill="#1fbf5c"/><circle cx="212.2" cy="431.1" r="1.15" fill="#1fbf5c"/><circle cx="223.4" cy="431.1" r="1.15" fill="#1fbf5c"/><circle cx="234.6" cy="431.1" r="1.15" fill="#1fbf5c"/><circle cx="245.8" cy="431.1" r="1.15" fill="#1fbf5c"/><circle cx="257.0" cy="431.1" r="1.15" fill="#1fbf5c"/><circle cx="268.2" cy="431.1" r="1.15" fill="#1fbf5c"/><circle cx="279.4" cy="431.1" r="1.15" fill="#1fbf5c"/><circle cx="201.0" cy="440.7" r="1.15" fill="#1fbf5c"/><circle cx="212.2" cy="440.7" r="1.15" fill="#1fbf5c"/><circle cx="223.4" cy="440.7" r="1.15" fill="#1fbf5c"/><circle cx="234.6" cy="440.7" r="1.15" fill="#1fbf5c"/><circle cx="245.8" cy="440.7" r="1.15" fill="#1fbf5c"/><circle cx="257.0" cy="440.7" r="1.15" fill="#1fbf5c"/><circle cx="201.0" cy="450.0" r="1.15" fill="#1fbf5c"/><circle cx="212.2" cy="450.0" r="1.15" fill="#1fbf5c"/><circle cx="223.4" cy="450.0" r="1.15" fill="#1fbf5c"/></g><rect x="287.3" y="377.6" width="6.6" height="69.6" fill="url(#ecb)"/><text x="291.4" y="375.8" font-size="10" text-anchor="middle" fill="#0a0a0a" stroke="#0a0a0a" stroke-width="0.22">30</text><text x="291" y="458.2" font-size="10" text-anchor="middle" fill="#0a0a0a" stroke="#0a0a0a" stroke-width="0.22">0</text><text x="299.6" y="410" font-size="10" text-anchor="middle" fill="#0a0a0a" stroke="#0a0a0a" stroke-width="0.22" transform="rotate(90 299.6 410)">Amplitude (µV)</text>
<line x1="63.7" y1="490.8" x2="94.2" y2="490.8" stroke="#f2a6ae" stroke-width="1.2"/><text x="102.3" y="494.4" font-size="10" text-anchor="start" fill="#0a0a0a" stroke="#0a0a0a" stroke-width="0.22">Ultrasound stimuli</text><text x="0" y="493.6" font-size="12.5" text-anchor="start" font-weight="bold" fill="#0a0a0a">f</text><line x1="66.80" y1="503.3" x2="66.80" y2="561.9" stroke="#f2a6ae" stroke-width="1"/><line x1="82.75" y1="503.3" x2="82.75" y2="561.9" stroke="#f2a6ae" stroke-width="1"/><line x1="98.70" y1="503.3" x2="98.70" y2="561.9" stroke="#f2a6ae" stroke-width="1"/><line x1="114.65" y1="503.3" x2="114.65" y2="561.9" stroke="#f2a6ae" stroke-width="1"/><line x1="130.60" y1="503.3" x2="130.60" y2="561.9" stroke="#f2a6ae" stroke-width="1"/><line x1="146.55" y1="503.3" x2="146.55" y2="561.9" stroke="#f2a6ae" stroke-width="1"/><line x1="162.50" y1="503.3" x2="162.50" y2="561.9" stroke="#f2a6ae" stroke-width="1"/><line x1="178.45" y1="503.3" x2="178.45" y2="561.9" stroke="#f2a6ae" stroke-width="1"/><line x1="194.40" y1="503.3" x2="194.40" y2="561.9" stroke="#f2a6ae" stroke-width="1"/><line x1="210.35" y1="503.3" x2="210.35" y2="561.9" stroke="#f2a6ae" stroke-width="1"/><path d="M51.70 560.31 L52.10 560.50 L52.50 560.89 L52.90 559.62 L53.30 559.77 L53.70 560.70 L54.10 561.30 L54.50 561.37 L54.90 560.73 L55.30 561.01 L55.70 560.88 L56.10 559.68 L56.50 559.02 L56.90 560.90 L57.30 560.61 L57.70 561.11 L58.10 559.88 L58.50 560.12 L58.90 561.34 L59.30 561.21 L59.70 560.88 L60.10 560.54 L60.50 559.60 L60.90 560.81 L61.30 561.21 L61.70 560.96 L62.10 560.80 L62.50 560.86 L62.90 560.55 L63.30 559.32 L63.70 561.40 L64.10 560.96 L64.50 561.00 L64.90 560.74 L65.30 560.38 L65.70 559.34 L66.10 559.98 L66.50 560.90 L66.90 561.08 L67.30 560.64 L67.70 560.68 L68.10 560.59 L68.50 561.19 L68.90 560.09 L69.30 561.27 L69.70 561.20 L70.10 560.36 L70.50 561.07 L70.90 560.83 L71.30 561.24 L71.70 561.08 L72.10 561.36 L72.50 560.91 L72.90 561.07 L73.30 559.97 L73.70 560.96 L74.10 560.31 L74.50 561.01 L74.90 560.88 L75.30 560.09 L75.70 561.38 L76.10 560.65 L76.50 560.17 L76.90 556.58 L77.20 552.27 L77.30 551.30 L77.70 557.00 L78.10 551.60 L78.50 533.50 L78.70 516.46 L78.90 526.82 L79.30 544.42 L79.70 552.10 L80.10 531.01 L80.10 531.52 L80.50 545.15 L80.90 553.64 L81.30 559.18 L81.70 559.23 L82.10 560.99 L82.50 560.39 L82.90 560.52 L83.30 559.91 L83.70 559.40 L84.10 561.02 L84.50 560.76 L84.90 561.21 L85.30 560.08 L85.70 561.29 L86.10 559.64 L86.50 560.89 L86.90 560.00 L87.30 560.66 L87.70 561.28 L88.10 560.68 L88.50 559.46 L88.90 561.28 L89.30 558.61 L89.70 560.35 L90.10 560.15 L90.50 561.36 L90.90 560.45 L91.30 560.73 L91.70 557.67 L92.10 546.90 L92.50 515.77 L92.60 510.22 L92.90 525.60 L93.30 542.06 L93.70 553.83 L94.10 557.70 L94.50 559.60 L94.90 561.04 L95.30 558.47 L95.70 560.25 L96.10 560.66 L96.50 559.91 L96.90 560.99 L97.30 559.75 L97.70 559.42 L98.10 560.90 L98.50 560.93 L98.90 560.31 L99.30 560.52 L99.70 560.67 L100.10 559.64 L100.50 561.05 L100.90 559.39 L101.30 560.93 L101.70 560.78 L102.10 560.10 L102.50 558.78 L102.90 559.52 L103.30 559.43 L103.70 560.45 L104.10 561.32 L104.50 561.08 L104.90 561.40 L105.30 560.93 L105.70 561.00 L106.10 560.55 L106.50 560.39 L106.90 561.00 L107.30 559.24 L107.70 554.32 L108.10 535.06 L108.20 530.25 L108.50 541.21 L108.90 552.68 L109.30 558.60 L109.70 559.11 L110.10 559.52 L110.50 560.49 L110.90 559.15 L111.30 559.48 L111.70 559.66 L112.10 561.07 L112.50 559.85 L112.90 561.10 L113.30 560.32 L113.70 561.23 L114.10 560.41 L114.50 560.15 L114.90 560.77 L115.30 559.46 L115.70 560.49 L116.10 561.23 L116.50 560.40 L116.90 561.38 L117.30 560.71 L117.70 561.14 L118.10 560.45 L118.50 560.47 L118.90 561.02 L119.30 560.89 L119.70 561.16 L120.10 560.52 L120.50 560.30 L120.90 560.95 L121.30 559.89 L121.70 560.88 L122.10 560.86 L122.50 559.65 L122.90 560.44 L123.30 561.34 L123.70 560.95 L124.10 560.11 L124.50 556.90 L124.90 541.55 L125.20 520.27 L125.30 523.56 L125.70 540.94 L126.10 553.06 L126.50 557.17 L126.90 558.94 L127.30 559.42 L127.70 560.94 L128.10 560.56 L128.50 560.41 L128.90 560.89 L129.30 560.54 L129.70 559.59 L130.10 559.23 L130.50 560.37 L130.90 560.14 L131.30 560.09 L131.70 561.11 L132.10 560.21 L132.50 561.10 L132.90 560.52 L133.30 559.11 L133.70 559.52 L134.10 560.12 L134.50 560.18 L134.90 559.33 L135.30 561.12 L135.70 559.87 L136.10 560.59 L136.50 561.22 L136.90 560.88 L137.30 559.68 L137.70 561.34 L138.10 561.33 L138.50 560.86 L138.90 560.02 L139.30 559.49 L139.70 550.40 L140.10 530.88 L140.10 531.18 L140.50 544.70 L140.90 553.90 L141.30 557.83 L141.70 557.98 L142.10 561.10 L142.50 560.39 L142.90 560.52 L143.30 558.94 L143.70 561.15 L144.10 561.18 L144.50 560.70 L144.90 560.88 L145.30 560.27 L145.70 561.07 L146.10 561.20 L146.50 560.95 L146.90 559.26 L147.30 558.41 L147.70 560.94 L148.10 560.78 L148.50 561.40 L148.90 560.41 L149.30 560.56 L149.70 560.44 L150.10 560.46 L150.50 559.37 L150.90 559.30 L151.30 560.21 L151.70 560.77 L152.10 559.97 L152.50 559.57 L152.90 560.07 L153.30 559.90 L153.70 559.93 L154.10 561.08 L154.50 561.08 L154.90 561.11 L155.30 560.78 L155.70 558.46 L156.10 549.59 L156.50 525.75 L156.50 526.87 L156.90 543.06 L157.30 553.23 L157.70 557.17 L158.10 559.19 L158.50 560.45 L158.90 560.57 L159.30 561.35 L159.70 561.37 L160.10 560.75 L160.50 561.20 L160.90 560.61 L161.30 559.21 L161.70 560.96 L162.10 561.24 L162.50 559.72 L162.90 560.76 L163.30 560.72 L163.70 561.35 L164.10 560.15 L164.50 560.01 L164.90 560.61 L165.30 559.55 L165.70 559.82 L166.10 561.26 L166.50 560.24 L166.90 560.80 L167.30 560.87 L167.70 558.89 L168.10 560.65 L168.50 558.01 L168.90 560.44 L169.30 559.98 L169.70 560.95 L170.10 560.51 L170.50 558.85 L170.90 553.87 L171.30 534.04 L171.40 528.27 L171.70 537.81 L172.10 551.57 L172.50 555.80 L172.90 558.91 L173.30 550.91 L173.70 531.20 L173.80 523.64 L174.10 536.03 L174.50 548.86 L174.90 556.35 L175.30 559.17 L175.70 560.21 L176.10 560.59 L176.50 561.35 L176.90 560.60 L177.30 559.91 L177.70 561.27 L178.10 561.30 L178.50 560.47 L178.90 561.13 L179.30 559.90 L179.70 560.67 L180.10 560.62 L180.50 560.34 L180.90 558.55 L181.30 561.10 L181.70 559.36 L182.10 554.31 L182.20 552.49 L182.50 555.60 L182.90 558.65 L183.30 558.50 L183.70 552.75 L183.70 551.49 L184.10 556.90 L184.50 559.51 L184.90 560.46 L185.30 560.16 L185.70 560.42 L186.10 560.36 L186.50 558.12 L186.90 546.69 L187.30 518.76 L187.30 519.39 L187.70 536.59 L188.10 550.81 L188.50 556.77 L188.90 557.89 L189.30 558.08 L189.70 551.02 L189.70 551.62 L190.10 556.72 L190.50 559.56 L190.90 559.47 L191.30 560.45 L191.70 560.00 L192.10 560.95 L192.50 560.07 L192.90 560.21 L193.30 560.69 L193.70 559.66 L194.10 560.16 L194.50 559.62 L194.90 560.74 L195.30 560.76 L195.70 561.31 L196.10 561.14 L196.50 560.82 L196.90 560.36 L197.30 560.59 L197.70 560.66 L198.10 560.01 L198.50 555.42 L198.90 542.36 L199.00 538.22 L199.30 546.96 L199.70 555.75 L200.10 559.48 L200.50 560.86 L200.90 560.85 L201.30 560.89 L201.70 561.28 L202.10 560.36 L202.50 559.14 L202.90 550.78 L203.30 523.64 L203.50 506.90 L203.70 517.47 L204.10 538.51 L204.50 550.76 L204.90 557.44 L205.30 559.36 L205.70 560.88 L206.10 558.15 L206.50 560.67 L206.90 561.27 L207.30 561.19 L207.70 560.57 L208.10 559.60 L208.50 560.24 L208.90 560.87 L209.30 561.35 L209.70 559.91 L210.10 560.81 L210.50 561.32 L210.90 561.17 L211.30 559.62 L211.70 560.18 L212.10 560.86 L212.50 559.70 L212.90 557.15 L213.20 554.06 L213.30 554.91 L213.70 557.87 L214.10 560.46 L214.50 560.24 L214.90 559.04 L215.30 561.20 L215.70 559.05 L216.10 559.61 L216.50 560.34 L216.90 560.18 L217.30 560.65 L217.70 561.35 L218.10 560.72 L218.50 560.84 L218.90 561.34 L219.30 560.95 L219.70 558.61 L220.10 547.32 L220.40 532.97 L220.50 536.21 L220.90 548.67 L221.30 556.62 L221.70 559.42 L222.10 559.97 L222.50 560.18 L222.90 560.82 L223.30 560.72 L223.70 561.20 L224.10 561.21 L224.50 559.70 L224.90 558.90 L225.30 560.12" fill="none" stroke="#111" stroke-width="0.9" stroke-linejoin="round"/><text x="47.1" y="530.3" font-size="10" text-anchor="middle" fill="#0a0a0a" stroke="#0a0a0a" stroke-width="0.22" transform="rotate(-90 47.1 530.3)">10 Hz</text><line x1="66.80" y1="569.5" x2="66.80" y2="627.9" stroke="#f2a6ae" stroke-width="1"/><line x1="77.43" y1="569.5" x2="77.43" y2="627.9" stroke="#f2a6ae" stroke-width="1"/><line x1="88.07" y1="569.5" x2="88.07" y2="627.9" stroke="#f2a6ae" stroke-width="1"/><line x1="98.70" y1="569.5" x2="98.70" y2="627.9" stroke="#f2a6ae" stroke-width="1"/><line x1="109.33" y1="569.5" x2="109.33" y2="627.9" stroke="#f2a6ae" stroke-width="1"/><line x1="119.97" y1="569.5" x2="119.97" y2="627.9" stroke="#f2a6ae" stroke-width="1"/><line x1="130.60" y1="569.5" x2="130.60" y2="627.9" stroke="#f2a6ae" stroke-width="1"/><line x1="141.23" y1="569.5" x2="141.23" y2="627.9" stroke="#f2a6ae" stroke-width="1"/><line x1="151.87" y1="569.5" x2="151.87" y2="627.9" stroke="#f2a6ae" stroke-width="1"/><line x1="162.50" y1="569.5" x2="162.50" y2="627.9" stroke="#f2a6ae" stroke-width="1"/><line x1="173.13" y1="569.5" x2="173.13" y2="627.9" stroke="#f2a6ae" stroke-width="1"/><line x1="183.77" y1="569.5" x2="183.77" y2="627.9" stroke="#f2a6ae" stroke-width="1"/><line x1="194.40" y1="569.5" x2="194.40" y2="627.9" stroke="#f2a6ae" stroke-width="1"/><line x1="205.03" y1="569.5" x2="205.03" y2="627.9" stroke="#f2a6ae" stroke-width="1"/><line x1="215.67" y1="569.5" x2="215.67" y2="627.9" stroke="#f2a6ae" stroke-width="1"/><path d="M51.70 627.03 L52.10 627.18 L52.50 626.98 L52.90 627.14 L53.30 624.23 L53.70 624.55 L54.10 626.03 L54.50 625.90 L54.90 626.20 L55.30 625.74 L55.70 626.50 L56.10 626.83 L56.50 626.66 L56.90 627.16 L57.30 624.83 L57.70 625.26 L58.10 625.45 L58.50 625.00 L58.90 627.05 L59.30 627.18 L59.70 626.54 L60.10 625.28 L60.50 626.92 L60.90 626.76 L61.30 624.91 L61.70 626.82 L62.10 626.35 L62.50 626.89 L62.90 627.18 L63.30 626.23 L63.70 626.01 L64.10 627.04 L64.50 625.56 L64.90 626.66 L65.30 625.91 L65.70 626.80 L66.10 627.01 L66.50 626.20 L66.90 626.92 L67.30 627.07 L67.70 626.91 L68.10 627.15 L68.50 626.07 L68.90 626.27 L69.30 626.56 L69.70 626.16 L70.10 626.01 L70.50 626.19 L70.90 626.25 L71.30 625.66 L71.70 626.85 L72.10 625.48 L72.50 626.12 L72.90 626.66 L73.30 626.76 L73.70 626.97 L74.10 625.89 L74.50 625.46 L74.90 627.16 L75.30 625.80 L75.70 626.06 L76.10 626.54 L76.50 625.21 L76.90 624.44 L77.30 621.77 L77.50 619.76 L77.70 620.96 L78.10 601.10 L78.40 575.91 L78.50 581.65 L78.90 602.04 L79.30 614.85 L79.70 622.42 L80.10 624.82 L80.50 626.55 L80.90 625.66 L81.30 626.39 L81.70 626.68 L82.10 627.19 L82.50 626.18 L82.90 626.23 L83.30 625.87 L83.70 626.13 L84.10 623.44 L84.50 626.53 L84.90 625.55 L85.30 627.10 L85.70 625.59 L86.10 625.45 L86.50 626.06 L86.90 626.99 L87.30 626.37 L87.70 623.52 L88.10 612.44 L88.50 584.64 L88.50 585.76 L88.90 602.80 L89.30 617.09 L89.70 623.35 L90.10 623.13 L90.50 625.27 L90.90 626.96 L91.30 626.25 L91.70 626.05 L92.10 624.84 L92.50 626.83 L92.90 625.73 L93.30 626.81 L93.70 625.87 L94.10 627.09 L94.50 625.99 L94.90 626.18 L95.30 626.93 L95.70 625.76 L96.10 626.28 L96.50 625.96 L96.90 626.60 L97.30 624.92 L97.70 624.82 L98.10 624.63 L98.50 616.78 L98.60 614.64 L98.90 617.13 L99.30 597.09 L99.30 598.62 L99.70 612.25 L100.10 621.19 L100.50 623.90 L100.90 624.45 L101.30 626.64 L101.70 626.83 L102.10 626.31 L102.50 627.15 L102.90 626.78 L103.30 626.67 L103.70 626.29 L104.10 626.24 L104.50 625.21 L104.90 626.50 L105.30 626.12 L105.70 625.93 L106.10 625.13 L106.50 624.97 L106.90 624.08 L107.30 626.38 L107.70 624.92 L108.10 626.53 L108.50 626.65 L108.90 626.26 L109.30 626.08 L109.70 623.01 L110.10 611.16 L110.20 607.65 L110.50 615.40 L110.90 621.22 L111.30 624.96 L111.70 624.78 L112.10 625.37 L112.50 626.81 L112.90 627.08 L113.30 626.89 L113.70 626.29 L114.10 627.10 L114.50 626.71 L114.90 625.12 L115.30 627.17 L115.70 626.57 L116.10 626.98 L116.50 625.39 L116.90 626.76 L117.30 626.40 L117.70 626.94 L118.10 624.58 L118.50 626.80 L118.90 626.74 L119.30 626.81 L119.70 623.32 L120.10 617.22 L120.30 610.89 L120.50 612.95 L120.90 621.59 L121.30 623.15 L121.70 625.89 L122.10 626.27 L122.50 624.99 L122.90 626.17 L123.30 627.02 L123.70 625.69 L124.10 627.17 L124.50 627.00 L124.90 626.26 L125.30 625.77 L125.70 625.96 L126.10 626.96 L126.50 625.96 L126.90 624.95 L127.30 626.08 L127.70 627.15 L128.10 626.56 L128.50 626.55 L128.90 623.08 L129.30 626.74 L129.70 626.93 L130.10 626.35 L130.50 625.13 L130.90 623.23 L131.30 615.17 L131.50 608.70 L131.70 613.26 L132.10 620.99 L132.50 625.05 L132.90 626.14 L133.30 627.05 L133.70 625.44 L134.10 625.78 L134.50 626.48 L134.90 625.19 L135.30 624.31 L135.70 626.77 L136.10 625.81 L136.50 624.98 L136.90 625.66 L137.30 626.05 L137.70 626.52 L138.10 626.66 L138.50 626.47 L138.90 626.80 L139.30 626.51 L139.70 625.95 L140.10 626.63 L140.50 626.38 L140.90 626.23 L141.30 622.35 L141.70 613.33 L141.70 613.79 L142.10 620.21 L142.50 623.61 L142.90 625.29 L143.30 625.09 L143.70 626.25 L144.10 625.61 L144.50 626.55 L144.90 625.84 L145.30 625.47 L145.70 625.47 L146.10 626.21 L146.50 626.00 L146.90 626.91 L147.30 624.94 L147.70 626.16 L148.10 627.03 L148.50 626.99 L148.90 626.01 L149.30 626.34 L149.70 626.26 L150.10 626.81 L150.50 625.35 L150.90 626.62 L151.30 626.89 L151.70 626.85 L152.10 624.35 L152.50 618.94 L152.80 610.17 L152.90 610.88 L153.30 618.95 L153.70 623.96 L154.10 626.46 L154.50 625.52 L154.90 625.75 L155.30 627.16 L155.70 625.09 L156.10 625.73 L156.50 625.67 L156.90 625.71 L157.30 625.33 L157.70 625.88 L158.10 627.08 L158.50 626.41 L158.90 626.27 L159.30 626.22 L159.70 626.68 L160.10 626.32 L160.50 625.61 L160.90 627.12 L161.30 626.83 L161.70 626.41 L162.10 625.95 L162.50 625.79 L162.90 618.72 L163.10 614.51 L163.30 617.33 L163.70 622.40 L164.10 624.07 L164.50 626.49 L164.90 626.04 L165.30 626.79 L165.70 625.95 L166.10 625.50 L166.50 627.08 L166.90 626.53 L167.30 627.16 L167.70 625.54 L168.10 625.80 L168.50 625.93 L168.90 626.11 L169.30 625.60 L169.70 625.04 L170.10 626.77 L170.50 627.15 L170.90 626.33 L171.30 625.70 L171.70 624.80 L172.10 626.19 L172.50 627.16 L172.90 625.67 L173.30 624.73 L173.70 626.19 L174.10 626.97 L174.50 624.72 L174.90 622.82 L175.30 610.25 L175.40 605.36 L175.70 614.29 L176.10 621.37 L176.50 625.63 L176.90 626.43 L177.30 626.96 L177.70 625.51 L178.10 625.60 L178.50 626.62 L178.90 626.31 L179.30 627.15 L179.70 626.22 L180.10 626.25 L180.50 625.82 L180.90 625.60 L181.30 626.46 L181.70 625.32 L182.10 626.29 L182.50 625.64 L182.90 623.60 L183.30 616.58 L183.50 609.89 L183.70 613.03 L184.10 621.18 L184.50 623.83 L184.90 626.38 L185.30 625.79 L185.70 624.84 L186.10 627.02 L186.50 627.17 L186.90 626.98 L187.30 627.20 L187.70 627.01 L188.10 626.09 L188.50 626.97 L188.90 626.49 L189.30 625.95 L189.70 625.94 L190.10 626.41 L190.50 626.74 L190.90 625.03 L191.30 626.15 L191.70 625.67 L192.10 627.20 L192.50 626.92 L192.90 625.97 L193.30 626.48 L193.70 623.31 L194.10 610.02 L194.20 604.37 L194.50 614.85 L194.90 622.30 L195.30 624.50 L195.70 626.59 L196.10 626.17 L196.50 626.60 L196.90 626.36 L197.30 626.87 L197.70 626.69 L198.10 626.20 L198.50 626.88 L198.90 625.05 L199.30 626.64 L199.70 626.39 L200.10 626.80 L200.50 626.76 L200.90 624.65 L201.30 625.52 L201.70 626.81 L202.10 625.74 L202.50 626.87 L202.90 626.34 L203.30 626.80 L203.70 626.94 L204.10 626.56 L204.50 623.47 L204.90 617.83 L205.20 606.82 L205.30 608.07 L205.70 617.89 L206.10 623.00 L206.50 624.67 L206.90 626.12 L207.30 626.38 L207.70 627.09 L208.10 627.16 L208.50 626.59 L208.90 626.54 L209.30 625.09 L209.70 627.08 L210.10 626.93 L210.50 626.71 L210.90 626.45 L211.30 625.81 L211.70 623.62 L212.10 624.20 L212.50 625.68 L212.90 626.84 L213.30 626.27 L213.70 626.37 L214.10 626.74 L214.50 626.42 L214.90 626.53 L215.30 626.25 L215.70 624.82 L216.10 624.88 L216.50 618.98 L216.70 613.27 L216.90 616.78 L217.30 623.16 L217.70 625.40 L218.10 625.24 L218.50 619.14 L218.50 618.84 L218.90 622.74 L219.30 625.84 L219.70 625.62 L220.10 626.96 L220.50 627.14 L220.90 626.35 L221.30 625.97 L221.70 625.97 L222.10 626.48 L222.50 624.32 L222.90 626.25 L223.30 626.42 L223.70 626.48 L224.10 626.79 L224.50 625.57 L224.90 627.17 L225.30 626.33" fill="none" stroke="#111" stroke-width="0.9" stroke-linejoin="round"/><text x="47.1" y="598.4" font-size="10" text-anchor="middle" fill="#0a0a0a" stroke="#0a0a0a" stroke-width="0.22" transform="rotate(-90 47.1 598.4)">15 Hz</text><line x1="66.80" y1="634.5" x2="66.80" y2="693.6" stroke="#f2a6ae" stroke-width="1"/><line x1="75.66" y1="634.5" x2="75.66" y2="693.6" stroke="#f2a6ae" stroke-width="1"/><line x1="84.52" y1="634.5" x2="84.52" y2="693.6" stroke="#f2a6ae" stroke-width="1"/><line x1="93.38" y1="634.5" x2="93.38" y2="693.6" stroke="#f2a6ae" stroke-width="1"/><line x1="102.24" y1="634.5" x2="102.24" y2="693.6" stroke="#f2a6ae" stroke-width="1"/><line x1="111.11" y1="634.5" x2="111.11" y2="693.6" stroke="#f2a6ae" stroke-width="1"/><line x1="119.97" y1="634.5" x2="119.97" y2="693.6" stroke="#f2a6ae" stroke-width="1"/><line x1="128.83" y1="634.5" x2="128.83" y2="693.6" stroke="#f2a6ae" stroke-width="1"/><line x1="137.69" y1="634.5" x2="137.69" y2="693.6" stroke="#f2a6ae" stroke-width="1"/><line x1="146.55" y1="634.5" x2="146.55" y2="693.6" stroke="#f2a6ae" stroke-width="1"/><line x1="155.41" y1="634.5" x2="155.41" y2="693.6" stroke="#f2a6ae" stroke-width="1"/><line x1="164.27" y1="634.5" x2="164.27" y2="693.6" stroke="#f2a6ae" stroke-width="1"/><line x1="173.13" y1="634.5" x2="173.13" y2="693.6" stroke="#f2a6ae" stroke-width="1"/><line x1="181.99" y1="634.5" x2="181.99" y2="693.6" stroke="#f2a6ae" stroke-width="1"/><line x1="190.86" y1="634.5" x2="190.86" y2="693.6" stroke="#f2a6ae" stroke-width="1"/><line x1="199.72" y1="634.5" x2="199.72" y2="693.6" stroke="#f2a6ae" stroke-width="1"/><line x1="208.58" y1="634.5" x2="208.58" y2="693.6" stroke="#f2a6ae" stroke-width="1"/><line x1="217.44" y1="634.5" x2="217.44" y2="693.6" stroke="#f2a6ae" stroke-width="1"/><path d="M51.70 691.90 L52.10 690.83 L52.50 691.89 L52.90 692.44 L53.30 692.46 L53.70 691.78 L54.10 691.98 L54.50 690.60 L54.90 691.98 L55.30 691.98 L55.70 691.87 L56.10 690.71 L56.50 691.74 L56.90 691.36 L57.30 691.83 L57.70 690.53 L58.10 691.23 L58.50 691.76 L58.90 691.92 L59.30 691.50 L59.70 692.33 L60.10 691.04 L60.50 691.58 L60.90 691.12 L61.30 691.69 L61.70 691.22 L62.10 691.97 L62.50 691.06 L62.90 691.51 L63.30 691.88 L63.70 692.00 L64.10 691.25 L64.50 690.74 L64.90 690.48 L65.30 688.61 L65.70 690.65 L66.10 692.31 L66.50 691.84 L66.90 691.55 L67.30 692.51 L67.70 691.93 L68.10 691.55 L68.50 689.66 L68.90 688.96 L69.30 691.90 L69.70 692.57 L70.10 691.90 L70.50 691.37 L70.90 691.66 L71.30 692.41 L71.70 691.51 L72.10 692.44 L72.50 690.65 L72.90 692.10 L73.30 691.49 L73.70 690.44 L74.10 691.82 L74.50 690.84 L74.90 686.54 L75.00 683.65 L75.30 688.23 L75.70 690.89 L76.10 691.47 L76.50 690.32 L76.90 691.20 L77.30 690.35 L77.70 683.19 L78.10 662.69 L78.40 633.37 L78.50 639.03 L78.90 661.78 L79.30 678.66 L79.70 686.75 L80.10 689.78 L80.50 691.55 L80.90 691.15 L81.30 692.49 L81.70 691.83 L82.10 691.85 L82.50 692.25 L82.90 690.61 L83.30 691.48 L83.70 692.09 L84.10 691.82 L84.50 690.43 L84.90 691.38 L85.30 691.62 L85.70 691.13 L86.10 692.42 L86.50 692.23 L86.90 689.92 L87.30 685.57 L87.70 670.76 L87.70 669.94 L88.10 680.68 L88.50 688.15 L88.90 690.01 L89.30 691.66 L89.70 692.38 L90.10 691.92 L90.50 692.43 L90.90 692.14 L91.30 691.19 L91.70 692.04 L92.10 691.82 L92.50 690.40 L92.90 690.81 L93.30 692.15 L93.70 689.16 L94.10 691.64 L94.50 691.06 L94.90 690.03 L95.30 686.20 L95.50 682.21 L95.70 684.61 L96.10 687.78 L96.50 688.33 L96.90 677.91 L96.90 676.91 L97.30 685.95 L97.70 690.13 L98.10 691.83 L98.50 689.64 L98.90 692.20 L99.30 691.87 L99.70 692.58 L100.10 690.85 L100.50 691.68 L100.90 691.59 L101.30 692.57 L101.70 692.55 L102.10 691.86 L102.50 691.90 L102.90 690.90 L103.30 691.42 L103.70 690.35 L104.10 691.66 L104.50 691.25 L104.90 690.21 L105.30 690.63 L105.70 691.75 L106.10 690.09 L106.50 692.54 L106.90 692.09 L107.30 691.12 L107.70 692.45 L108.10 692.54 L108.50 691.66 L108.90 692.54 L109.30 691.57 L109.70 691.07 L110.10 692.51 L110.50 691.37 L110.90 688.73 L111.30 692.35 L111.70 692.23 L112.10 692.29 L112.50 692.15 L112.90 691.68 L113.30 691.00 L113.70 691.29 L114.10 689.48 L114.50 691.98 L114.90 691.79 L115.30 692.34 L115.70 691.37 L116.10 692.59 L116.50 691.29 L116.90 691.09 L117.30 691.48 L117.70 691.58 L118.10 690.96 L118.50 691.41 L118.90 691.80 L119.30 692.15 L119.70 691.73 L120.10 692.39 L120.50 692.47 L120.90 691.71 L121.30 690.16 L121.70 686.19 L121.80 682.99 L122.10 687.74 L122.50 690.63 L122.90 691.90 L123.30 692.35 L123.70 691.21 L124.10 692.40 L124.50 692.47 L124.90 692.44 L125.30 691.10 L125.70 691.80 L126.10 691.76 L126.50 692.60 L126.90 691.62 L127.30 692.24 L127.70 692.04 L128.10 690.08 L128.50 692.00 L128.90 692.55 L129.30 692.58 L129.70 692.21 L130.10 692.29 L130.50 692.10 L130.90 691.46 L131.30 691.09 L131.70 691.64 L132.10 690.36 L132.50 690.95 L132.90 692.43 L133.30 692.49 L133.70 691.00 L134.10 692.17 L134.50 690.76 L134.90 689.35 L135.30 691.19 L135.70 692.37 L136.10 691.67 L136.50 691.81 L136.90 691.55 L137.30 692.09 L137.70 692.46 L138.10 692.32 L138.50 691.92 L138.90 690.96 L139.30 691.30 L139.70 687.57 L140.00 681.63 L140.10 682.23 L140.50 688.13 L140.90 690.95 L141.30 691.31 L141.70 692.18 L142.10 691.04 L142.50 691.79 L142.90 691.25 L143.30 692.03 L143.70 690.15 L144.10 692.58 L144.50 690.22 L144.90 691.88 L145.30 692.56 L145.70 691.63 L146.10 691.84 L146.50 692.42 L146.90 692.20 L147.30 691.13 L147.70 691.57 L148.10 690.57 L148.50 690.84 L148.90 692.13 L149.30 690.35 L149.70 691.92 L150.10 691.78 L150.50 692.45 L150.90 692.17 L151.30 692.13 L151.70 691.27 L152.10 690.80 L152.50 691.06 L152.90 691.56 L153.30 690.90 L153.70 690.55 L154.10 692.24 L154.50 691.69 L154.90 692.07 L155.30 691.01 L155.70 691.95 L156.10 691.00 L156.50 690.88 L156.90 692.25 L157.30 691.17 L157.70 692.50 L158.10 691.93 L158.50 692.42 L158.90 692.11 L159.30 691.61 L159.70 691.58 L160.10 692.25 L160.50 692.43 L160.90 691.50 L161.30 691.86 L161.70 692.11 L162.10 692.55 L162.50 691.80 L162.90 691.14 L163.30 691.97 L163.70 692.28 L164.10 692.59 L164.50 691.40 L164.90 692.11 L165.30 691.33 L165.70 692.48 L166.10 691.60 L166.50 691.69 L166.90 692.07 L167.30 689.48 L167.70 688.29 L168.10 691.18 L168.50 691.23 L168.90 692.58 L169.30 691.43 L169.70 690.87 L170.10 692.55 L170.50 691.89 L170.90 691.41 L171.30 692.28 L171.70 692.30 L172.10 691.75 L172.50 691.89 L172.90 692.57 L173.30 690.02 L173.70 692.32 L174.10 691.05 L174.50 690.98 L174.90 692.57 L175.30 692.46 L175.70 692.45 L176.10 692.17 L176.50 692.23 L176.90 691.03 L177.30 692.48 L177.70 692.53 L178.10 690.81 L178.50 691.59 L178.90 692.09 L179.30 692.46 L179.70 692.15 L180.10 690.97 L180.50 691.97 L180.90 691.98 L181.30 691.33 L181.70 692.42 L182.10 691.33 L182.50 691.25 L182.90 691.91 L183.30 692.06 L183.70 692.53 L184.10 690.06 L184.50 692.51 L184.90 689.51 L185.30 691.65 L185.70 690.01 L186.10 691.87 L186.50 692.56 L186.90 691.57 L187.30 690.97 L187.70 692.57 L188.10 692.40 L188.50 692.36 L188.90 692.33 L189.30 692.43 L189.70 690.65 L190.10 692.45 L190.50 691.76 L190.90 692.08 L191.30 690.81 L191.70 691.87 L192.10 692.10 L192.50 692.55 L192.90 692.42 L193.30 692.33 L193.70 691.27 L194.10 691.82 L194.50 691.49 L194.90 692.02 L195.30 691.22 L195.70 691.46 L196.10 692.41 L196.50 690.07 L196.90 691.80 L197.30 692.34 L197.70 691.91 L198.10 692.29 L198.50 688.40 L198.90 682.95 L199.00 680.41 L199.30 683.14 L199.70 689.10 L200.10 691.50 L200.50 690.85 L200.90 690.52 L201.30 691.54 L201.70 692.45 L202.10 691.60 L202.50 692.04 L202.90 691.69 L203.30 691.80 L203.70 691.87 L204.10 690.25 L204.50 691.81 L204.90 691.93 L205.30 692.12 L205.70 692.58 L206.10 692.02 L206.50 691.90 L206.90 691.38 L207.30 691.27 L207.70 691.49 L208.10 689.28 L208.40 686.72 L208.50 687.36 L208.90 690.79 L209.30 691.66 L209.70 690.76 L210.10 692.42 L210.50 691.84 L210.90 690.61 L211.30 691.81 L211.70 692.30 L212.10 692.27 L212.50 691.00 L212.90 691.56 L213.30 690.43 L213.70 690.24 L214.10 692.07 L214.50 691.00 L214.90 691.76 L215.30 691.77 L215.70 691.96 L216.10 692.32 L216.50 691.76 L216.90 691.12 L217.30 692.20 L217.70 691.25 L218.10 692.21 L218.50 691.92 L218.90 692.47 L219.30 691.36 L219.70 692.45 L220.10 691.56 L220.50 692.41 L220.90 692.31 L221.30 692.02 L221.70 692.32 L222.10 691.82 L222.50 692.12 L222.90 691.00 L223.30 691.31 L223.70 691.63 L224.10 692.05 L224.50 690.59 L224.90 691.37 L225.30 690.17" fill="none" stroke="#111" stroke-width="0.9" stroke-linejoin="round"/><text x="47.1" y="662.8" font-size="10" text-anchor="middle" fill="#0a0a0a" stroke="#0a0a0a" stroke-width="0.22" transform="rotate(-90 47.1 662.8)">18 Hz</text><text x="21" y="596.7" font-size="10" text-anchor="middle" fill="#0a0a0a" stroke="#0a0a0a" stroke-width="0.22" transform="rotate(-90 21 596.7)">Frame rate</text><text x="48.5" y="704" font-size="10" text-anchor="middle" fill="#0a0a0a" stroke="#0a0a0a" stroke-width="0.22">-0.1</text><text x="69.3" y="704" font-size="10" text-anchor="middle" fill="#0a0a0a" stroke="#0a0a0a" stroke-width="0.22">0</text><text x="223.5" y="704" font-size="10" text-anchor="middle" fill="#0a0a0a" stroke="#0a0a0a" stroke-width="0.22">1</text><text x="137.7" y="715.4" font-size="10" text-anchor="middle" fill="#0a0a0a" stroke="#0a0a0a" stroke-width="0.22">Time (s)</text>
<path d="M285.5 491.5 V676.6 H661.6" fill="none" stroke="#111" stroke-width="1.2"/><line x1="278" y1="508.5" x2="285.5" y2="508.5" stroke="#111" stroke-width="1.2"/><text x="275.3" y="512.8" font-size="10" text-anchor="end" fill="#0a0a0a" stroke="#0a0a0a" stroke-width="0.22">50</text><line x1="278" y1="592.6" x2="285.5" y2="592.6" stroke="#111" stroke-width="1.2"/><text x="275.3" y="596.85" font-size="10" text-anchor="end" fill="#0a0a0a" stroke="#0a0a0a" stroke-width="0.22">25</text><line x1="278" y1="676.6" x2="285.5" y2="676.6" stroke="#111" stroke-width="1.2"/><text x="275.3" y="680.9" font-size="10" text-anchor="end" fill="#0a0a0a" stroke="#0a0a0a" stroke-width="0.22">0</text><line x1="311.8" y1="676.6" x2="311.8" y2="683.8" stroke="#111" stroke-width="1.2"/><text x="311.8" y="696.1" font-size="10" text-anchor="middle" fill="#0a0a0a" stroke="#0a0a0a" stroke-width="0.22">1 Hz</text><line x1="365.6" y1="676.6" x2="365.6" y2="683.8" stroke="#111" stroke-width="1.2"/><text x="365.6" y="696.1" font-size="10" text-anchor="middle" fill="#0a0a0a" stroke="#0a0a0a" stroke-width="0.22">3 Hz</text><line x1="419.4" y1="676.6" x2="419.4" y2="683.8" stroke="#111" stroke-width="1.2"/><text x="419.4" y="696.1" font-size="10" text-anchor="middle" fill="#0a0a0a" stroke="#0a0a0a" stroke-width="0.22">5 Hz</text><line x1="473.2" y1="676.6" x2="473.2" y2="683.8" stroke="#111" stroke-width="1.2"/><text x="473.2" y="696.1" font-size="10" text-anchor="middle" fill="#0a0a0a" stroke="#0a0a0a" stroke-width="0.22">10 Hz</text><line x1="527.0" y1="676.6" x2="527.0" y2="683.8" stroke="#111" stroke-width="1.2"/><text x="527" y="696.1" font-size="10" text-anchor="middle" fill="#0a0a0a" stroke="#0a0a0a" stroke-width="0.22">13 Hz</text><line x1="580.8" y1="676.6" x2="580.8" y2="683.8" stroke="#111" stroke-width="1.2"/><text x="580.8" y="696.1" font-size="10" text-anchor="middle" fill="#0a0a0a" stroke="#0a0a0a" stroke-width="0.22">15 Hz</text><line x1="634.6" y1="676.6" x2="634.6" y2="683.8" stroke="#111" stroke-width="1.2"/><text x="634.6" y="696.1" font-size="10" text-anchor="middle" fill="#0a0a0a" stroke="#0a0a0a" stroke-width="0.22">18 Hz</text><text x="473.2" y="713.4" font-size="10.5" text-anchor="middle" fill="#0a0a0a" stroke="#0a0a0a" stroke-width="0.22">Frame rate</text><text x="256.8" y="585.6" font-size="10.5" text-anchor="middle" fill="#0a0a0a" stroke="#0a0a0a" stroke-width="0.22" transform="rotate(-90 256.8 585.6)">Amplitude (µV)</text><text x="247" y="493.8" font-size="12.5" text-anchor="start" font-weight="bold" fill="#0a0a0a">g</text><line x1="294.0" y1="517.6" x2="294.0" y2="525.7" stroke="#141414" stroke-width="1.1"/><line x1="294.0" y1="535.9" x2="294.0" y2="545.9" stroke="#141414" stroke-width="1.1"/><line x1="292.3" y1="517.6" x2="295.7" y2="517.6" stroke="#141414" stroke-width="1.3"/><line x1="292.3" y1="545.9" x2="295.7" y2="545.9" stroke="#141414" stroke-width="1.3"/><rect x="290.2" y="525.7" width="7.6" height="10.2" fill="#6b6b6b" stroke="#141414" stroke-width="1.1"/><line x1="290.2" y1="530.6" x2="297.8" y2="530.6" stroke="#141414" stroke-width="1.1"/><line x1="347.7" y1="546.4" x2="347.7" y2="562.3" stroke="#141414" stroke-width="1.1"/><line x1="347.7" y1="578.8" x2="347.7" y2="588.8" stroke="#141414" stroke-width="1.1"/><line x1="346.0" y1="546.4" x2="349.4" y2="546.4" stroke="#141414" stroke-width="1.3"/><line x1="346.0" y1="588.8" x2="349.4" y2="588.8" stroke="#141414" stroke-width="1.3"/><rect x="343.9" y="562.3" width="7.6" height="16.5" fill="#6b6b6b" stroke="#141414" stroke-width="1.1"/><line x1="343.9" y1="571.2" x2="351.5" y2="571.2" stroke="#141414" stroke-width="1.1"/><line x1="401.4" y1="589.5" x2="401.4" y2="594.2" stroke="#141414" stroke-width="1.1"/><line x1="401.4" y1="614.5" x2="401.4" y2="645.5" stroke="#141414" stroke-width="1.1"/><line x1="399.7" y1="589.5" x2="403.1" y2="589.5" stroke="#141414" stroke-width="1.3"/><line x1="399.7" y1="645.5" x2="403.1" y2="645.5" stroke="#141414" stroke-width="1.3"/><rect x="397.6" y="594.2" width="7.6" height="20.3" fill="#6b6b6b" stroke="#141414" stroke-width="1.1"/><line x1="397.6" y1="600.2" x2="405.2" y2="600.2" stroke="#141414" stroke-width="1.1"/><line x1="455.3" y1="623.2" x2="455.3" y2="650.4" stroke="#141414" stroke-width="1.1"/><line x1="455.3" y1="666.5" x2="455.3" y2="667.3" stroke="#141414" stroke-width="1.1"/><line x1="453.6" y1="623.2" x2="457.0" y2="623.2" stroke="#141414" stroke-width="1.3"/><line x1="453.6" y1="667.3" x2="457.0" y2="667.3" stroke="#141414" stroke-width="1.3"/><rect x="451.5" y="650.4" width="7.6" height="16.1" fill="#6b6b6b" stroke="#141414" stroke-width="1.1"/><line x1="451.5" y1="659.3" x2="459.1" y2="659.3" stroke="#141414" stroke-width="1.1"/><line x1="509.0" y1="617.1" x2="509.0" y2="652.3" stroke="#141414" stroke-width="1.1"/><line x1="509.0" y1="668.0" x2="509.0" y2="669.6" stroke="#141414" stroke-width="1.1"/><line x1="507.3" y1="617.1" x2="510.7" y2="617.1" stroke="#141414" stroke-width="1.3"/><line x1="507.3" y1="669.6" x2="510.7" y2="669.6" stroke="#141414" stroke-width="1.3"/><rect x="505.2" y="652.3" width="7.6" height="15.7" fill="#6b6b6b" stroke="#141414" stroke-width="1.1"/><line x1="505.2" y1="658.4" x2="512.8" y2="658.4" stroke="#141414" stroke-width="1.1"/><line x1="563.2" y1="648.9" x2="563.2" y2="660.1" stroke="#141414" stroke-width="1.1"/><line x1="563.2" y1="668.4" x2="563.2" y2="670.4" stroke="#141414" stroke-width="1.1"/><line x1="561.5" y1="648.9" x2="564.9" y2="648.9" stroke="#141414" stroke-width="1.3"/><line x1="561.5" y1="670.4" x2="564.9" y2="670.4" stroke="#141414" stroke-width="1.3"/><rect x="559.4" y="660.1" width="7.6" height="8.3" fill="#6b6b6b" stroke="#141414" stroke-width="1.1"/><line x1="559.4" y1="665.0" x2="567.0" y2="665.0" stroke="#141414" stroke-width="1.1"/><line x1="617.0" y1="653.5" x2="617.0" y2="659.6" stroke="#141414" stroke-width="1.1"/><line x1="617.0" y1="667.3" x2="617.0" y2="671.4" stroke="#141414" stroke-width="1.1"/><line x1="615.3" y1="653.5" x2="618.7" y2="653.5" stroke="#141414" stroke-width="1.3"/><line x1="615.3" y1="671.4" x2="618.7" y2="671.4" stroke="#141414" stroke-width="1.3"/><rect x="613.2" y="659.6" width="7.6" height="7.7" fill="#6b6b6b" stroke="#141414" stroke-width="1.1"/><line x1="613.2" y1="663.2" x2="620.8" y2="663.2" stroke="#141414" stroke-width="1.1"/><line x1="303.0" y1="504.9" x2="303.0" y2="520.6" stroke="#a6a6a6" stroke-width="1.1"/><line x1="303.0" y1="534.9" x2="303.0" y2="539.3" stroke="#a6a6a6" stroke-width="1.1"/><line x1="301.3" y1="504.9" x2="304.7" y2="504.9" stroke="#a6a6a6" stroke-width="1.3"/><line x1="301.3" y1="539.3" x2="304.7" y2="539.3" stroke="#a6a6a6" stroke-width="1.3"/><rect x="299.2" y="520.6" width="7.6" height="14.3" fill="#ffffff" stroke="#a6a6a6" stroke-width="1.1"/><line x1="299.2" y1="530.3" x2="306.8" y2="530.3" stroke="#a6a6a6" stroke-width="1.1"/><line x1="356.9" y1="546.4" x2="356.9" y2="564.6" stroke="#a6a6a6" stroke-width="1.1"/><line x1="356.9" y1="577.0" x2="356.9" y2="609.5" stroke="#a6a6a6" stroke-width="1.1"/><line x1="355.2" y1="546.4" x2="358.6" y2="546.4" stroke="#a6a6a6" stroke-width="1.3"/><line x1="355.2" y1="609.5" x2="358.6" y2="609.5" stroke="#a6a6a6" stroke-width="1.3"/><rect x="353.1" y="564.6" width="7.6" height="12.4" fill="#ffffff" stroke="#a6a6a6" stroke-width="1.1"/><line x1="353.1" y1="568.9" x2="360.7" y2="568.9" stroke="#a6a6a6" stroke-width="1.1"/><line x1="410.6" y1="587.2" x2="410.6" y2="599.1" stroke="#a6a6a6" stroke-width="1.1"/><line x1="410.6" y1="621.8" x2="410.6" y2="642.3" stroke="#a6a6a6" stroke-width="1.1"/><line x1="408.9" y1="587.2" x2="412.3" y2="587.2" stroke="#a6a6a6" stroke-width="1.3"/><line x1="408.9" y1="642.3" x2="412.3" y2="642.3" stroke="#a6a6a6" stroke-width="1.3"/><rect x="406.8" y="599.1" width="7.6" height="22.7" fill="#ffffff" stroke="#a6a6a6" stroke-width="1.1"/><line x1="406.8" y1="610.6" x2="414.4" y2="610.6" stroke="#a6a6a6" stroke-width="1.1"/><line x1="464.6" y1="632.1" x2="464.6" y2="652.0" stroke="#a6a6a6" stroke-width="1.1"/><line x1="464.6" y1="665.5" x2="464.6" y2="669.3" stroke="#a6a6a6" stroke-width="1.1"/><line x1="462.9" y1="632.1" x2="466.3" y2="632.1" stroke="#a6a6a6" stroke-width="1.3"/><line x1="462.9" y1="669.3" x2="466.3" y2="669.3" stroke="#a6a6a6" stroke-width="1.3"/><rect x="460.8" y="652.0" width="7.6" height="13.5" fill="#ffffff" stroke="#a6a6a6" stroke-width="1.1"/><line x1="460.8" y1="661.2" x2="468.4" y2="661.2" stroke="#a6a6a6" stroke-width="1.1"/><line x1="518.3" y1="637.9" x2="518.3" y2="653.2" stroke="#a6a6a6" stroke-width="1.1"/><line x1="518.3" y1="667.3" x2="518.3" y2="668.8" stroke="#a6a6a6" stroke-width="1.1"/><line x1="516.6" y1="637.9" x2="520.0" y2="637.9" stroke="#a6a6a6" stroke-width="1.3"/><line x1="516.6" y1="668.8" x2="520.0" y2="668.8" stroke="#a6a6a6" stroke-width="1.3"/><rect x="514.5" y="653.2" width="7.6" height="14.1" fill="#ffffff" stroke="#a6a6a6" stroke-width="1.1"/><line x1="514.5" y1="661.2" x2="522.1" y2="661.2" stroke="#a6a6a6" stroke-width="1.1"/><line x1="572.0" y1="644.3" x2="572.0" y2="663.5" stroke="#a6a6a6" stroke-width="1.1"/><line x1="572.0" y1="667.0" x2="572.0" y2="671.1" stroke="#a6a6a6" stroke-width="1.1"/><line x1="570.3" y1="644.3" x2="573.7" y2="644.3" stroke="#a6a6a6" stroke-width="1.3"/><line x1="570.3" y1="671.1" x2="573.7" y2="671.1" stroke="#a6a6a6" stroke-width="1.3"/><rect x="568.2" y="663.5" width="7.6" height="3.5" fill="#ffffff" stroke="#a6a6a6" stroke-width="1.1"/><line x1="568.2" y1="665.8" x2="575.8" y2="665.8" stroke="#a6a6a6" stroke-width="1.1"/><line x1="626.0" y1="653.0" x2="626.0" y2="661.9" stroke="#a6a6a6" stroke-width="1.1"/><line x1="626.0" y1="666.5" x2="626.0" y2="670.0" stroke="#a6a6a6" stroke-width="1.1"/><line x1="624.3" y1="653.0" x2="627.7" y2="653.0" stroke="#a6a6a6" stroke-width="1.3"/><line x1="624.3" y1="670.0" x2="627.7" y2="670.0" stroke="#a6a6a6" stroke-width="1.3"/><rect x="622.2" y="661.9" width="7.6" height="4.6" fill="#ffffff" stroke="#a6a6a6" stroke-width="1.1"/><line x1="622.2" y1="664.2" x2="629.8" y2="664.2" stroke="#a6a6a6" stroke-width="1.1"/><line x1="312.0" y1="519.9" x2="312.0" y2="524.5" stroke="#6e6e6e" stroke-width="1.1"/><line x1="312.0" y1="538.5" x2="312.0" y2="549.0" stroke="#6e6e6e" stroke-width="1.1"/><line x1="310.3" y1="519.9" x2="313.7" y2="519.9" stroke="#6e6e6e" stroke-width="1.3"/><line x1="310.3" y1="549.0" x2="313.7" y2="549.0" stroke="#6e6e6e" stroke-width="1.3"/><rect x="308.2" y="524.5" width="7.6" height="14.0" fill="#ffffff" stroke="#5e5e5e" stroke-width="1.1"/><line x1="308.2" y1="527.2" x2="315.8" y2="527.2" stroke="#5e5e5e" stroke-width="1.1"/><line x1="366.0" y1="515.3" x2="366.0" y2="539.3" stroke="#6e6e6e" stroke-width="1.1"/><line x1="366.0" y1="551.3" x2="366.0" y2="574.2" stroke="#6e6e6e" stroke-width="1.1"/><line x1="364.3" y1="515.3" x2="367.7" y2="515.3" stroke="#6e6e6e" stroke-width="1.3"/><line x1="364.3" y1="574.2" x2="367.7" y2="574.2" stroke="#6e6e6e" stroke-width="1.3"/><rect x="362.2" y="539.3" width="7.6" height="12.0" fill="#ffffff" stroke="#5e5e5e" stroke-width="1.1"/><line x1="362.2" y1="544.0" x2="369.8" y2="544.0" stroke="#5e5e5e" stroke-width="1.1"/><line x1="419.6" y1="513.4" x2="419.6" y2="533.6" stroke="#6e6e6e" stroke-width="1.1"/><line x1="419.6" y1="555.5" x2="419.6" y2="574.5" stroke="#6e6e6e" stroke-width="1.1"/><line x1="417.9" y1="513.4" x2="421.3" y2="513.4" stroke="#6e6e6e" stroke-width="1.3"/><line x1="417.9" y1="574.5" x2="421.3" y2="574.5" stroke="#6e6e6e" stroke-width="1.3"/><rect x="415.8" y="533.6" width="7.6" height="21.9" fill="#ffffff" stroke="#5e5e5e" stroke-width="1.1"/><line x1="415.8" y1="545.4" x2="423.4" y2="545.4" stroke="#5e5e5e" stroke-width="1.1"/><line x1="473.4" y1="572.1" x2="473.4" y2="586.6" stroke="#6e6e6e" stroke-width="1.1"/><line x1="473.4" y1="595.3" x2="473.4" y2="601.5" stroke="#6e6e6e" stroke-width="1.1"/><line x1="471.7" y1="572.1" x2="475.1" y2="572.1" stroke="#6e6e6e" stroke-width="1.3"/><line x1="471.7" y1="601.5" x2="475.1" y2="601.5" stroke="#6e6e6e" stroke-width="1.3"/><rect x="469.6" y="586.6" width="7.6" height="8.7" fill="#ffffff" stroke="#5e5e5e" stroke-width="1.1"/><line x1="469.6" y1="592.0" x2="477.2" y2="592.0" stroke="#5e5e5e" stroke-width="1.1"/><line x1="527.6" y1="621.3" x2="527.6" y2="650.4" stroke="#6e6e6e" stroke-width="1.1"/><line x1="527.6" y1="665.8" x2="527.6" y2="668.5" stroke="#6e6e6e" stroke-width="1.1"/><line x1="525.9" y1="621.3" x2="529.3" y2="621.3" stroke="#6e6e6e" stroke-width="1.3"/><line x1="525.9" y1="668.5" x2="529.3" y2="668.5" stroke="#6e6e6e" stroke-width="1.3"/><rect x="523.8" y="650.4" width="7.6" height="15.4" fill="#ffffff" stroke="#5e5e5e" stroke-width="1.1"/><line x1="523.8" y1="662.7" x2="531.4" y2="662.7" stroke="#5e5e5e" stroke-width="1.1"/><line x1="581.4" y1="654.0" x2="581.4" y2="658.4" stroke="#6e6e6e" stroke-width="1.1"/><line x1="581.4" y1="667.6" x2="581.4" y2="669.9" stroke="#6e6e6e" stroke-width="1.1"/><line x1="579.7" y1="654.0" x2="583.1" y2="654.0" stroke="#6e6e6e" stroke-width="1.3"/><line x1="579.7" y1="669.9" x2="583.1" y2="669.9" stroke="#6e6e6e" stroke-width="1.3"/><rect x="577.6" y="658.4" width="7.6" height="9.2" fill="#ffffff" stroke="#5e5e5e" stroke-width="1.1"/><line x1="577.6" y1="665.0" x2="585.2" y2="665.0" stroke="#5e5e5e" stroke-width="1.1"/><line x1="635.0" y1="651.5" x2="635.0" y2="658.4" stroke="#6e6e6e" stroke-width="1.1"/><line x1="635.0" y1="665.8" x2="635.0" y2="668.8" stroke="#6e6e6e" stroke-width="1.1"/><line x1="633.3" y1="651.5" x2="636.7" y2="651.5" stroke="#6e6e6e" stroke-width="1.3"/><line x1="633.3" y1="668.8" x2="636.7" y2="668.8" stroke="#6e6e6e" stroke-width="1.3"/><rect x="631.2" y="658.4" width="7.6" height="7.4" fill="#ffffff" stroke="#5e5e5e" stroke-width="1.1"/><line x1="631.2" y1="662.7" x2="638.8" y2="662.7" stroke="#5e5e5e" stroke-width="1.1"/><line x1="321.0" y1="513.7" x2="321.0" y2="521.4" stroke="#9a3d8c" stroke-width="1.1"/><line x1="321.0" y1="529.4" x2="321.0" y2="537.9" stroke="#9a3d8c" stroke-width="1.1"/><line x1="319.3" y1="513.7" x2="322.7" y2="513.7" stroke="#9a3d8c" stroke-width="1.3"/><line x1="319.3" y1="537.9" x2="322.7" y2="537.9" stroke="#9a3d8c" stroke-width="1.3"/><rect x="317.2" y="521.4" width="7.6" height="8.0" fill="#a55697" stroke="#8b1f7c" stroke-width="1.1"/><line x1="317.2" y1="524.9" x2="324.8" y2="524.9" stroke="#8b1f7c" stroke-width="1.1"/><line x1="374.8" y1="530.6" x2="374.8" y2="534.0" stroke="#9a3d8c" stroke-width="1.1"/><line x1="374.8" y1="555.5" x2="374.8" y2="566.3" stroke="#9a3d8c" stroke-width="1.1"/><line x1="373.1" y1="530.6" x2="376.5" y2="530.6" stroke="#9a3d8c" stroke-width="1.3"/><line x1="373.1" y1="566.3" x2="376.5" y2="566.3" stroke="#9a3d8c" stroke-width="1.3"/><rect x="371.0" y="534.0" width="7.6" height="21.5" fill="#a55697" stroke="#8b1f7c" stroke-width="1.1"/><line x1="371.0" y1="542.4" x2="378.6" y2="542.4" stroke="#8b1f7c" stroke-width="1.1"/><line x1="428.8" y1="517.6" x2="428.8" y2="534.0" stroke="#9a3d8c" stroke-width="1.1"/><line x1="428.8" y1="549.4" x2="428.8" y2="565.5" stroke="#9a3d8c" stroke-width="1.1"/><line x1="427.1" y1="517.6" x2="430.5" y2="517.6" stroke="#9a3d8c" stroke-width="1.3"/><line x1="427.1" y1="565.5" x2="430.5" y2="565.5" stroke="#9a3d8c" stroke-width="1.3"/><rect x="425.0" y="534.0" width="7.6" height="15.4" fill="#a55697" stroke="#8b1f7c" stroke-width="1.1"/><line x1="425.0" y1="540.2" x2="432.6" y2="540.2" stroke="#8b1f7c" stroke-width="1.1"/><line x1="482.7" y1="535.3" x2="482.7" y2="541.4" stroke="#9a3d8c" stroke-width="1.1"/><line x1="482.7" y1="562.4" x2="482.7" y2="570.5" stroke="#9a3d8c" stroke-width="1.1"/><line x1="481.0" y1="535.3" x2="484.4" y2="535.3" stroke="#9a3d8c" stroke-width="1.3"/><line x1="481.0" y1="570.5" x2="484.4" y2="570.5" stroke="#9a3d8c" stroke-width="1.3"/><rect x="478.9" y="541.4" width="7.6" height="21.0" fill="#a55697" stroke="#8b1f7c" stroke-width="1.1"/><line x1="478.9" y1="554.9" x2="486.5" y2="554.9" stroke="#8b1f7c" stroke-width="1.1"/><line x1="536.5" y1="592.0" x2="536.5" y2="603.5" stroke="#9a3d8c" stroke-width="1.1"/><line x1="536.5" y1="613.4" x2="536.5" y2="620.3" stroke="#9a3d8c" stroke-width="1.1"/><line x1="534.8" y1="592.0" x2="538.2" y2="592.0" stroke="#9a3d8c" stroke-width="1.3"/><line x1="534.8" y1="620.3" x2="538.2" y2="620.3" stroke="#9a3d8c" stroke-width="1.3"/><rect x="532.7" y="603.5" width="7.6" height="9.9" fill="#a55697" stroke="#8b1f7c" stroke-width="1.1"/><line x1="532.7" y1="606.2" x2="540.3" y2="606.2" stroke="#8b1f7c" stroke-width="1.1"/><line x1="590.4" y1="621.3" x2="590.4" y2="629.0" stroke="#9a3d8c" stroke-width="1.1"/><line x1="590.4" y1="648.9" x2="590.4" y2="668.5" stroke="#9a3d8c" stroke-width="1.1"/><line x1="588.7" y1="621.3" x2="592.1" y2="621.3" stroke="#9a3d8c" stroke-width="1.3"/><line x1="588.7" y1="668.5" x2="592.1" y2="668.5" stroke="#9a3d8c" stroke-width="1.3"/><rect x="586.6" y="629.0" width="7.6" height="19.9" fill="#a55697" stroke="#8b1f7c" stroke-width="1.1"/><line x1="586.6" y1="639.0" x2="594.2" y2="639.0" stroke="#8b1f7c" stroke-width="1.1"/><line x1="644.1" y1="615.5" x2="644.1" y2="652.7" stroke="#9a3d8c" stroke-width="1.1"/><line x1="644.1" y1="668.5" x2="644.1" y2="671.1" stroke="#9a3d8c" stroke-width="1.1"/><line x1="642.4" y1="615.5" x2="645.8" y2="615.5" stroke="#9a3d8c" stroke-width="1.3"/><line x1="642.4" y1="671.1" x2="645.8" y2="671.1" stroke="#9a3d8c" stroke-width="1.3"/><rect x="640.3" y="652.7" width="7.6" height="15.8" fill="#a55697" stroke="#8b1f7c" stroke-width="1.1"/><line x1="640.3" y1="666.5" x2="647.9" y2="666.5" stroke="#8b1f7c" stroke-width="1.1"/><line x1="330.3" y1="512.5" x2="330.3" y2="525.5" stroke="#dc5867" stroke-width="1.1"/><line x1="330.3" y1="535.2" x2="330.3" y2="538.7" stroke="#dc5867" stroke-width="1.1"/><line x1="328.6" y1="512.5" x2="332.0" y2="512.5" stroke="#dc5867" stroke-width="1.3"/><line x1="328.6" y1="538.7" x2="332.0" y2="538.7" stroke="#dc5867" stroke-width="1.3"/><rect x="326.5" y="525.5" width="7.6" height="9.7" fill="#e1848c" stroke="#d5404f" stroke-width="1.1"/><line x1="326.5" y1="529.4" x2="334.1" y2="529.4" stroke="#d5404f" stroke-width="1.1"/><line x1="384.1" y1="528.3" x2="384.1" y2="533.3" stroke="#dc5867" stroke-width="1.1"/><line x1="384.1" y1="552.8" x2="384.1" y2="577.3" stroke="#dc5867" stroke-width="1.1"/><line x1="382.4" y1="528.3" x2="385.8" y2="528.3" stroke="#dc5867" stroke-width="1.3"/><line x1="382.4" y1="577.3" x2="385.8" y2="577.3" stroke="#dc5867" stroke-width="1.3"/><rect x="380.3" y="533.3" width="7.6" height="19.5" fill="#e1848c" stroke="#d5404f" stroke-width="1.1"/><line x1="380.3" y1="543.3" x2="387.9" y2="543.3" stroke="#d5404f" stroke-width="1.1"/><line x1="438.0" y1="522.5" x2="438.0" y2="538.2" stroke="#dc5867" stroke-width="1.1"/><line x1="438.0" y1="552.5" x2="438.0" y2="561.2" stroke="#dc5867" stroke-width="1.1"/><line x1="436.3" y1="522.5" x2="439.7" y2="522.5" stroke="#dc5867" stroke-width="1.3"/><line x1="436.3" y1="561.2" x2="439.7" y2="561.2" stroke="#dc5867" stroke-width="1.3"/><rect x="434.2" y="538.2" width="7.6" height="14.3" fill="#e1848c" stroke="#d5404f" stroke-width="1.1"/><line x1="434.2" y1="544.4" x2="441.8" y2="544.4" stroke="#d5404f" stroke-width="1.1"/><line x1="492.1" y1="534.5" x2="492.1" y2="546.0" stroke="#dc5867" stroke-width="1.1"/><line x1="492.1" y1="569.3" x2="492.1" y2="577.0" stroke="#dc5867" stroke-width="1.1"/><line x1="490.4" y1="534.5" x2="493.8" y2="534.5" stroke="#dc5867" stroke-width="1.3"/><line x1="490.4" y1="577.0" x2="493.8" y2="577.0" stroke="#dc5867" stroke-width="1.3"/><rect x="488.3" y="546.0" width="7.6" height="23.3" fill="#e1848c" stroke="#d5404f" stroke-width="1.1"/><line x1="488.3" y1="551.4" x2="495.9" y2="551.4" stroke="#d5404f" stroke-width="1.1"/><line x1="545.8" y1="530.7" x2="545.8" y2="539.6" stroke="#dc5867" stroke-width="1.1"/><line x1="545.8" y1="567.2" x2="545.8" y2="606.2" stroke="#dc5867" stroke-width="1.1"/><line x1="544.1" y1="530.7" x2="547.5" y2="530.7" stroke="#dc5867" stroke-width="1.3"/><line x1="544.1" y1="606.2" x2="547.5" y2="606.2" stroke="#dc5867" stroke-width="1.3"/><rect x="542.0" y="539.6" width="7.6" height="27.6" fill="#e1848c" stroke="#d5404f" stroke-width="1.1"/><line x1="542.0" y1="564.7" x2="549.6" y2="564.7" stroke="#d5404f" stroke-width="1.1"/><line x1="599.6" y1="602.2" x2="599.6" y2="603.3" stroke="#dc5867" stroke-width="1.1"/><line x1="599.6" y1="620.6" x2="599.6" y2="624.4" stroke="#dc5867" stroke-width="1.1"/><line x1="597.9" y1="602.2" x2="601.3" y2="602.2" stroke="#dc5867" stroke-width="1.3"/><line x1="597.9" y1="624.4" x2="601.3" y2="624.4" stroke="#dc5867" stroke-width="1.3"/><rect x="595.8" y="603.3" width="7.6" height="17.3" fill="#e1848c" stroke="#d5404f" stroke-width="1.1"/><line x1="595.8" y1="607.6" x2="603.4" y2="607.6" stroke="#d5404f" stroke-width="1.1"/><line x1="653.3" y1="632.4" x2="653.3" y2="648.1" stroke="#dc5867" stroke-width="1.1"/><line x1="653.3" y1="668.5" x2="653.3" y2="671.1" stroke="#dc5867" stroke-width="1.1"/><line x1="651.6" y1="632.4" x2="655.0" y2="632.4" stroke="#dc5867" stroke-width="1.3"/><line x1="651.6" y1="671.1" x2="655.0" y2="671.1" stroke="#dc5867" stroke-width="1.3"/><rect x="649.5" y="648.1" width="7.6" height="20.4" fill="#e1848c" stroke="#d5404f" stroke-width="1.1"/><line x1="649.5" y1="659.3" x2="657.1" y2="659.3" stroke="#d5404f" stroke-width="1.1"/><path d="M299.9 542.8 L338.2 572.7 L356.6 583.4 L380.0 597.0 L394.5 606.0 L415.2 616.8 L449.7 660.4 L473.4 661.2 L532.6 662.7 L555.5 665.8 L589.6 665.0 L610.3 663.5" fill="none" stroke="#111" stroke-width="1.2" stroke-dasharray="2.2 2.6"/><path d="M340.5 542.4 L375.7 552.0 L390.0 555.0 L431.3 555.1 L469.5 558.6 L483.4 560.6 L501.8 564.4 L537.0 573.9 L552.3 577.4 L564.5 587.4 L592.7 610.6 L608.0 617.5 L641.7 650.4 L649.3 656.6" fill="none" stroke="#e0505f" stroke-width="1.2" stroke-dasharray="2.2 2.6"/><rect x="575.2" y="506.0" width="21" height="2.6" fill="#333" stroke="#141414" stroke-width="1"/><text x="608.2" y="511.1" font-size="10.6" text-anchor="start" fill="#0a0a0a" stroke="#0a0a0a" stroke-width="0.22">4.5 MHz Pattern</text><rect x="575.2" y="521.2" width="21" height="2.6" fill="#ffffff" stroke="#a6a6a6" stroke-width="1"/><text x="608.2" y="526.3" font-size="10.6" text-anchor="start" fill="#0a0a0a" stroke="#0a0a0a" stroke-width="0.22">3 MHz</text><rect x="575.2" y="536.1" width="21" height="2.6" fill="#ffffff" stroke="#5e5e5e" stroke-width="1"/><text x="608.2" y="541.2" font-size="10.6" text-anchor="start" fill="#0a0a0a" stroke="#0a0a0a" stroke-width="0.22">5.4 MHz</text><rect x="575.2" y="551.0" width="21" height="2.6" fill="#a55697" stroke="#8b1f7c" stroke-width="1"/><text x="608.2" y="556.1" font-size="10.6" text-anchor="start" fill="#0a0a0a" stroke="#0a0a0a" stroke-width="0.22">12 MHz</text><rect x="575.2" y="565.9" width="21" height="2.6" fill="#e1848c" stroke="#d5404f" stroke-width="1"/><text x="608.2" y="571" font-size="10.6" text-anchor="start" fill="#0a0a0a" stroke="#0a0a0a" stroke-width="0.22">20 MHz</text>
</svg></body></html>
